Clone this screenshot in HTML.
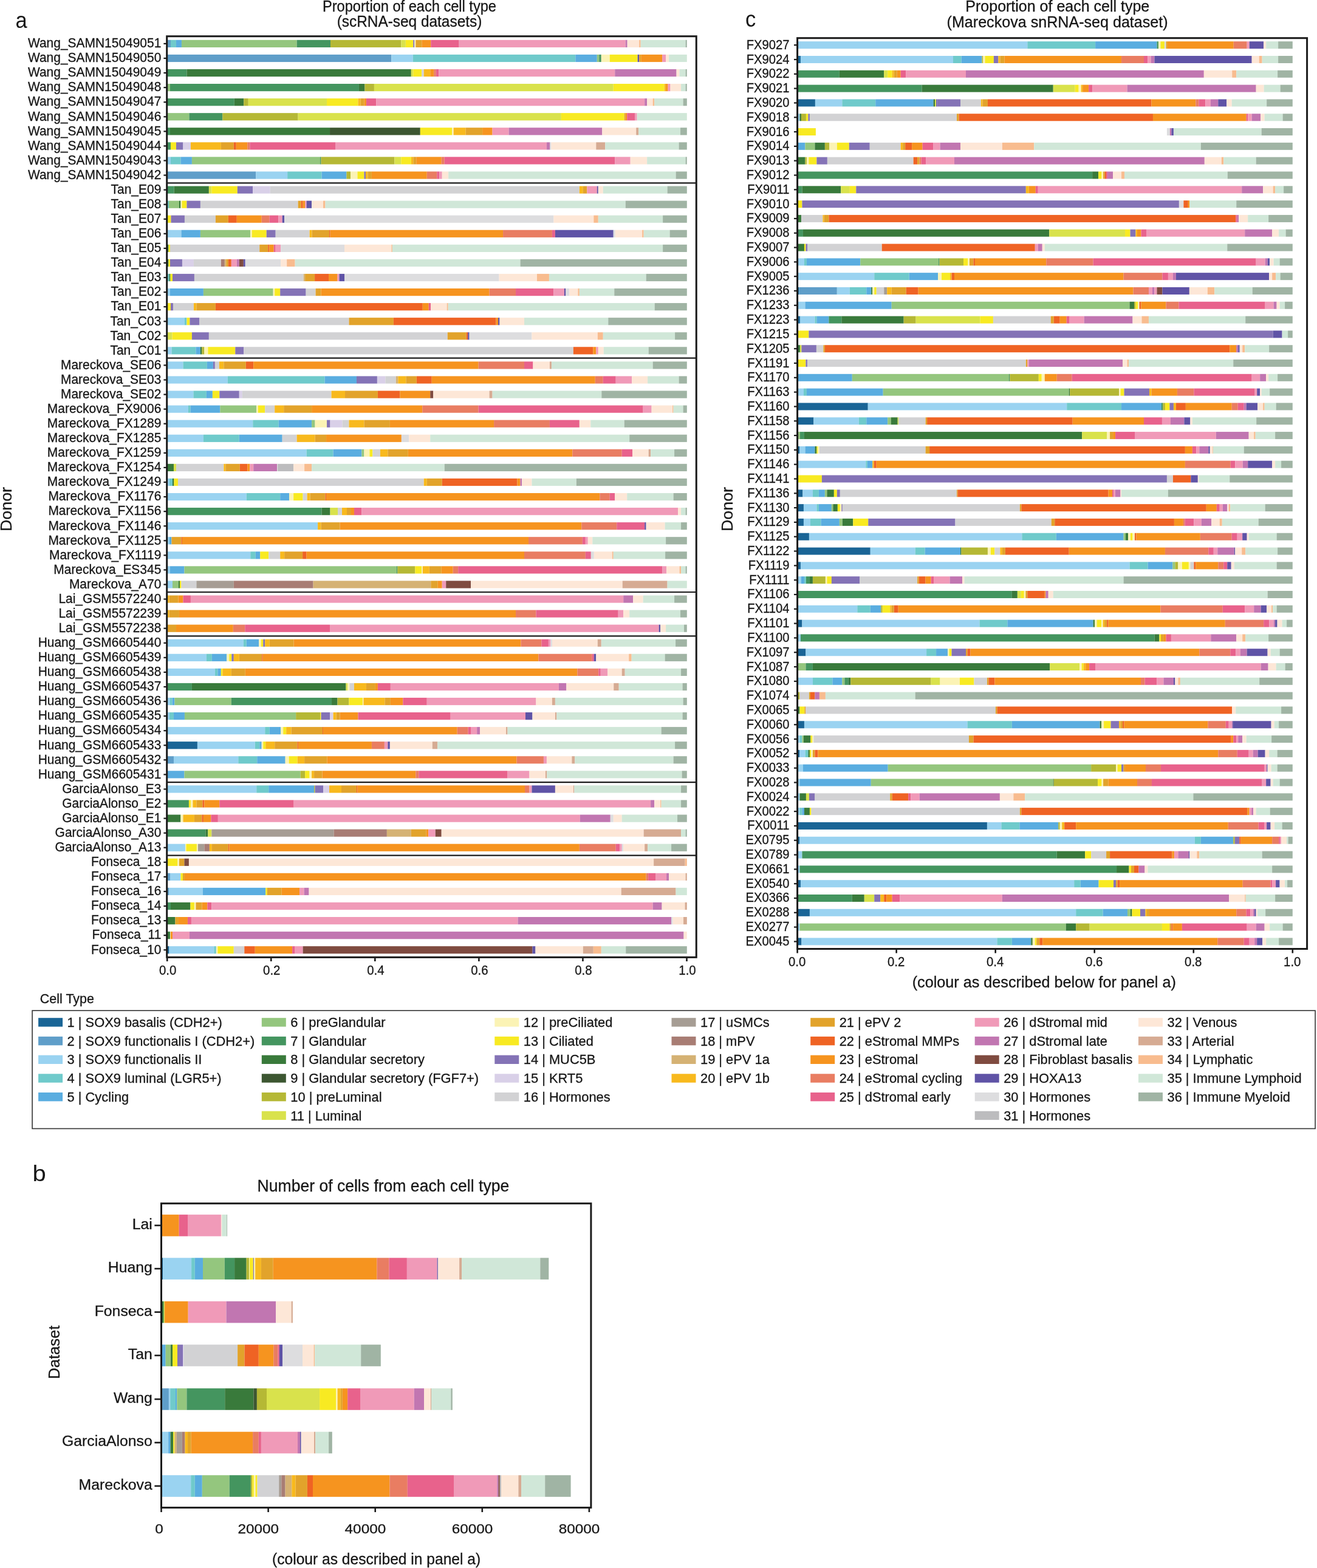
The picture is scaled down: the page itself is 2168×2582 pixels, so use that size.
<!DOCTYPE html>
<html><head><meta charset="utf-8"><title>Cell type proportions</title>
<style>
html,body{margin:0;padding:0;background:#fff;}
body{width:2168px;height:2582px;overflow:hidden;}
svg{display:block;}
text{font-family:"Liberation Sans",Arial,Helvetica,sans-serif;fill:#161616;stroke:#161616;stroke-width:0.3px;}
</style></head>
<body>
<svg width="2168" height="2582" viewBox="0 0 2168 2582">
<rect x="0" y="0" width="2168" height="2582" fill="#fff"/>
<rect x="275.20" y="65.80" width="5.78" height="12.20" fill="#5f9ec9"/>
<rect x="280.98" y="65.80" width="8.98" height="12.20" fill="#6fcacb"/>
<rect x="289.97" y="65.80" width="8.98" height="12.20" fill="#5aade0"/>
<rect x="298.95" y="65.80" width="189.68" height="12.20" fill="#94c67e"/>
<rect x="488.63" y="65.80" width="55.41" height="12.20" fill="#44955f"/>
<rect x="544.03" y="65.80" width="116.30" height="12.20" fill="#b5b835"/>
<rect x="660.34" y="65.80" width="7.49" height="12.20" fill="#d9e24c"/>
<rect x="667.82" y="65.80" width="12.48" height="12.20" fill="#f8ea22"/>
<rect x="680.30" y="65.80" width="2.00" height="12.20" fill="#8473b6"/>
<rect x="682.30" y="65.80" width="2.00" height="12.20" fill="#fbf3b5"/>
<rect x="684.30" y="65.80" width="9.98" height="12.20" fill="#e2a32b"/>
<rect x="694.28" y="65.80" width="14.97" height="12.20" fill="#f6941f"/>
<rect x="709.25" y="65.80" width="46.42" height="12.20" fill="#e8628c"/>
<rect x="755.67" y="65.80" width="274.03" height="12.20" fill="#f09ab8"/>
<rect x="1029.71" y="65.80" width="2.99" height="12.20" fill="#c176b1"/>
<rect x="1032.70" y="65.80" width="19.47" height="12.20" fill="#fde7d7"/>
<rect x="1052.17" y="65.80" width="2.50" height="12.20" fill="#f8bc8f"/>
<rect x="1054.67" y="65.80" width="73.87" height="12.20" fill="#d0e7d8"/>
<rect x="1128.54" y="65.80" width="2.26" height="12.20" fill="#a0b4a4"/>
<line x1="269.40" y1="71.90" x2="274.50" y2="71.90" stroke="#1a1a1a" stroke-width="2.2"/>
<text x="265.30" y="78.20" font-size="22.3" text-anchor="end" textLength="219.33" lengthAdjust="spacingAndGlyphs">Wang_SAMN15049051</text>
<rect x="275.20" y="89.87" width="369.16" height="12.20" fill="#5f9ec9"/>
<rect x="644.36" y="89.87" width="35.44" height="12.20" fill="#9ad3f1"/>
<rect x="679.80" y="89.87" width="267.55" height="12.20" fill="#6fcacb"/>
<rect x="947.35" y="89.87" width="35.44" height="12.20" fill="#5aade0"/>
<rect x="982.79" y="89.87" width="3.49" height="12.20" fill="#94c67e"/>
<rect x="986.28" y="89.87" width="3.49" height="12.20" fill="#44955f"/>
<rect x="989.78" y="89.87" width="13.98" height="12.20" fill="#fbf3b5"/>
<rect x="1003.75" y="89.87" width="45.92" height="12.20" fill="#f8ea22"/>
<rect x="1049.67" y="89.87" width="2.50" height="12.20" fill="#5f53a6"/>
<rect x="1052.17" y="89.87" width="2.99" height="12.20" fill="#e2a32b"/>
<rect x="1055.17" y="89.87" width="34.94" height="12.20" fill="#f6941f"/>
<rect x="1090.11" y="89.87" width="5.99" height="12.20" fill="#f09ab8"/>
<rect x="1096.10" y="89.87" width="4.99" height="12.20" fill="#fde7d7"/>
<rect x="1101.09" y="89.87" width="29.71" height="12.20" fill="#d0e7d8"/>
<line x1="269.40" y1="95.97" x2="274.50" y2="95.97" stroke="#1a1a1a" stroke-width="2.2"/>
<text x="265.30" y="102.27" font-size="22.3" text-anchor="end" textLength="219.33" lengthAdjust="spacingAndGlyphs">Wang_SAMN15049050</text>
<rect x="275.20" y="113.94" width="32.24" height="12.20" fill="#44955f"/>
<rect x="307.44" y="113.94" width="369.37" height="12.20" fill="#397a3b"/>
<rect x="676.81" y="113.94" width="3.49" height="12.20" fill="#d9e24c"/>
<rect x="680.30" y="113.94" width="13.98" height="12.20" fill="#f8ea22"/>
<rect x="694.28" y="113.94" width="3.49" height="12.20" fill="#d2d2d4"/>
<rect x="697.77" y="113.94" width="10.48" height="12.20" fill="#f8b91d"/>
<rect x="708.25" y="113.94" width="5.99" height="12.20" fill="#f6941f"/>
<rect x="714.24" y="113.94" width="3.49" height="12.20" fill="#e97d62"/>
<rect x="717.74" y="113.94" width="4.49" height="12.20" fill="#e8628c"/>
<rect x="722.23" y="113.94" width="290.01" height="12.20" fill="#f09ab8"/>
<rect x="1012.24" y="113.94" width="101.33" height="12.20" fill="#c176b1"/>
<rect x="1113.57" y="113.94" width="4.99" height="12.20" fill="#fde7d7"/>
<rect x="1118.56" y="113.94" width="9.98" height="12.20" fill="#d0e7d8"/>
<rect x="1128.54" y="113.94" width="2.26" height="12.20" fill="#a0b4a4"/>
<line x1="269.40" y1="120.04" x2="274.50" y2="120.04" stroke="#1a1a1a" stroke-width="2.2"/>
<text x="265.30" y="126.34" font-size="22.3" text-anchor="end" textLength="219.33" lengthAdjust="spacingAndGlyphs">Wang_SAMN15049049</text>
<rect x="275.20" y="138.01" width="4.78" height="12.20" fill="#94c67e"/>
<rect x="279.98" y="138.01" width="310.97" height="12.20" fill="#44955f"/>
<rect x="590.95" y="138.01" width="9.48" height="12.20" fill="#397a3b"/>
<rect x="600.44" y="138.01" width="15.47" height="12.20" fill="#b5b835"/>
<rect x="615.91" y="138.01" width="393.83" height="12.20" fill="#d9e24c"/>
<rect x="1009.74" y="138.01" width="83.86" height="12.20" fill="#f8ea22"/>
<rect x="1093.60" y="138.01" width="2.50" height="12.20" fill="#f8b91d"/>
<rect x="1096.10" y="138.01" width="3.49" height="12.20" fill="#f6941f"/>
<rect x="1099.59" y="138.01" width="3.99" height="12.20" fill="#f09ab8"/>
<rect x="1103.58" y="138.01" width="17.47" height="12.20" fill="#fde7d7"/>
<rect x="1121.05" y="138.01" width="7.49" height="12.20" fill="#d0e7d8"/>
<rect x="1128.54" y="138.01" width="2.26" height="12.20" fill="#a0b4a4"/>
<line x1="269.40" y1="144.11" x2="274.50" y2="144.11" stroke="#1a1a1a" stroke-width="2.2"/>
<text x="265.30" y="150.41" font-size="22.3" text-anchor="end" textLength="219.33" lengthAdjust="spacingAndGlyphs">Wang_SAMN15049048</text>
<rect x="275.20" y="162.08" width="110.60" height="12.20" fill="#44955f"/>
<rect x="385.80" y="162.08" width="15.47" height="12.20" fill="#397a3b"/>
<rect x="401.28" y="162.08" width="7.49" height="12.20" fill="#b5b835"/>
<rect x="408.76" y="162.08" width="129.28" height="12.20" fill="#d9e24c"/>
<rect x="538.04" y="162.08" width="51.41" height="12.20" fill="#f8ea22"/>
<rect x="589.46" y="162.08" width="3.99" height="12.20" fill="#f8b91d"/>
<rect x="593.45" y="162.08" width="5.99" height="12.20" fill="#e2a32b"/>
<rect x="599.44" y="162.08" width="3.49" height="12.20" fill="#f6941f"/>
<rect x="602.93" y="162.08" width="16.47" height="12.20" fill="#e8628c"/>
<rect x="619.41" y="162.08" width="441.75" height="12.20" fill="#f09ab8"/>
<rect x="1061.16" y="162.08" width="3.99" height="12.20" fill="#c176b1"/>
<rect x="1065.15" y="162.08" width="9.48" height="12.20" fill="#fde7d7"/>
<rect x="1074.63" y="162.08" width="2.50" height="12.20" fill="#f8bc8f"/>
<rect x="1077.13" y="162.08" width="47.42" height="12.20" fill="#d0e7d8"/>
<rect x="1124.55" y="162.08" width="6.25" height="12.20" fill="#a0b4a4"/>
<line x1="269.40" y1="168.18" x2="274.50" y2="168.18" stroke="#1a1a1a" stroke-width="2.2"/>
<text x="265.30" y="174.48" font-size="22.3" text-anchor="end" textLength="219.33" lengthAdjust="spacingAndGlyphs">Wang_SAMN15049047</text>
<rect x="275.20" y="186.15" width="36.23" height="12.20" fill="#94c67e"/>
<rect x="311.43" y="186.15" width="54.91" height="12.20" fill="#44955f"/>
<rect x="366.34" y="186.15" width="124.29" height="12.20" fill="#b5b835"/>
<rect x="490.62" y="186.15" width="433.26" height="12.20" fill="#d9e24c"/>
<rect x="923.89" y="186.15" width="103.82" height="12.20" fill="#f8ea22"/>
<rect x="1027.71" y="186.15" width="2.00" height="12.20" fill="#e2a32b"/>
<rect x="1029.71" y="186.15" width="2.50" height="12.20" fill="#f6941f"/>
<rect x="1032.20" y="186.15" width="12.98" height="12.20" fill="#e8628c"/>
<rect x="1045.18" y="186.15" width="3.49" height="12.20" fill="#f09ab8"/>
<rect x="1048.68" y="186.15" width="82.12" height="12.20" fill="#d0e7d8"/>
<line x1="269.40" y1="192.25" x2="274.50" y2="192.25" stroke="#1a1a1a" stroke-width="2.2"/>
<text x="265.30" y="198.55" font-size="22.3" text-anchor="end" textLength="219.33" lengthAdjust="spacingAndGlyphs">Wang_SAMN15049046</text>
<rect x="275.20" y="210.22" width="4.78" height="12.20" fill="#44955f"/>
<rect x="279.98" y="210.22" width="263.05" height="12.20" fill="#397a3b"/>
<rect x="543.04" y="210.22" width="148.75" height="12.20" fill="#3c5631"/>
<rect x="691.78" y="210.22" width="52.41" height="12.20" fill="#f8ea22"/>
<rect x="744.19" y="210.22" width="2.50" height="12.20" fill="#fbf3b5"/>
<rect x="746.69" y="210.22" width="19.97" height="12.20" fill="#f8b91d"/>
<rect x="766.66" y="210.22" width="27.45" height="12.20" fill="#e2a32b"/>
<rect x="794.11" y="210.22" width="16.47" height="12.20" fill="#f6941f"/>
<rect x="810.58" y="210.22" width="26.95" height="12.20" fill="#f09ab8"/>
<rect x="837.54" y="210.22" width="153.74" height="12.20" fill="#c176b1"/>
<rect x="991.27" y="210.22" width="55.90" height="12.20" fill="#fde7d7"/>
<rect x="1047.18" y="210.22" width="3.99" height="12.20" fill="#d6ab93"/>
<rect x="1051.17" y="210.22" width="68.88" height="12.20" fill="#d0e7d8"/>
<rect x="1120.05" y="210.22" width="10.75" height="12.20" fill="#a0b4a4"/>
<line x1="269.40" y1="216.32" x2="274.50" y2="216.32" stroke="#1a1a1a" stroke-width="2.2"/>
<text x="265.30" y="222.62" font-size="22.3" text-anchor="end" textLength="219.33" lengthAdjust="spacingAndGlyphs">Wang_SAMN15049045</text>
<rect x="275.20" y="234.29" width="5.78" height="12.20" fill="#44955f"/>
<rect x="280.98" y="234.29" width="8.98" height="12.20" fill="#f8ea22"/>
<rect x="289.97" y="234.29" width="11.48" height="12.20" fill="#8473b6"/>
<rect x="301.45" y="234.29" width="12.48" height="12.20" fill="#d9d0e8"/>
<rect x="313.93" y="234.29" width="49.92" height="12.20" fill="#f8b91d"/>
<rect x="363.84" y="234.29" width="20.96" height="12.20" fill="#e2a32b"/>
<rect x="384.80" y="234.29" width="3.99" height="12.20" fill="#ef6324"/>
<rect x="388.80" y="234.29" width="18.47" height="12.20" fill="#f6941f"/>
<rect x="407.27" y="234.29" width="3.99" height="12.20" fill="#e97d62"/>
<rect x="411.26" y="234.29" width="140.76" height="12.20" fill="#e8628c"/>
<rect x="552.02" y="234.29" width="347.91" height="12.20" fill="#f09ab8"/>
<rect x="899.93" y="234.29" width="5.49" height="12.20" fill="#c176b1"/>
<rect x="905.42" y="234.29" width="2.00" height="12.20" fill="#dddddf"/>
<rect x="907.42" y="234.29" width="73.87" height="12.20" fill="#fde7d7"/>
<rect x="981.29" y="234.29" width="14.97" height="12.20" fill="#d6ab93"/>
<rect x="996.27" y="234.29" width="121.29" height="12.20" fill="#d0e7d8"/>
<rect x="1117.56" y="234.29" width="13.24" height="12.20" fill="#a0b4a4"/>
<line x1="269.40" y1="240.39" x2="274.50" y2="240.39" stroke="#1a1a1a" stroke-width="2.2"/>
<text x="265.30" y="246.69" font-size="22.3" text-anchor="end" textLength="219.33" lengthAdjust="spacingAndGlyphs">Wang_SAMN15049044</text>
<rect x="275.20" y="258.36" width="5.78" height="12.20" fill="#9ad3f1"/>
<rect x="280.98" y="258.36" width="16.47" height="12.20" fill="#6fcacb"/>
<rect x="297.45" y="258.36" width="18.47" height="12.20" fill="#5aade0"/>
<rect x="315.92" y="258.36" width="211.14" height="12.20" fill="#94c67e"/>
<rect x="527.06" y="258.36" width="1.50" height="12.20" fill="#44955f"/>
<rect x="528.56" y="258.36" width="120.79" height="12.20" fill="#b5b835"/>
<rect x="649.36" y="258.36" width="10.98" height="12.20" fill="#d9e24c"/>
<rect x="660.34" y="258.36" width="16.47" height="12.20" fill="#f8ea22"/>
<rect x="676.81" y="258.36" width="3.49" height="12.20" fill="#f8b91d"/>
<rect x="680.30" y="258.36" width="4.99" height="12.20" fill="#e2a32b"/>
<rect x="685.29" y="258.36" width="41.43" height="12.20" fill="#f6941f"/>
<rect x="726.72" y="258.36" width="4.99" height="12.20" fill="#e97d62"/>
<rect x="731.72" y="258.36" width="280.52" height="12.20" fill="#e8628c"/>
<rect x="1012.24" y="258.36" width="25.46" height="12.20" fill="#f09ab8"/>
<rect x="1037.69" y="258.36" width="27.45" height="12.20" fill="#fde7d7"/>
<rect x="1065.15" y="258.36" width="63.39" height="12.20" fill="#d0e7d8"/>
<rect x="1128.54" y="258.36" width="2.26" height="12.20" fill="#a0b4a4"/>
<line x1="269.40" y1="264.46" x2="274.50" y2="264.46" stroke="#1a1a1a" stroke-width="2.2"/>
<text x="265.30" y="270.76" font-size="22.3" text-anchor="end" textLength="219.33" lengthAdjust="spacingAndGlyphs">Wang_SAMN15049043</text>
<rect x="275.20" y="282.43" width="146.04" height="12.20" fill="#5f9ec9"/>
<rect x="421.24" y="282.43" width="51.91" height="12.20" fill="#9ad3f1"/>
<rect x="473.15" y="282.43" width="56.40" height="12.20" fill="#6fcacb"/>
<rect x="529.56" y="282.43" width="40.93" height="12.20" fill="#5aade0"/>
<rect x="570.49" y="282.43" width="6.49" height="12.20" fill="#b5b835"/>
<rect x="576.98" y="282.43" width="11.48" height="12.20" fill="#fbf3b5"/>
<rect x="588.46" y="282.43" width="10.98" height="12.20" fill="#f8ea22"/>
<rect x="599.44" y="282.43" width="2.50" height="12.20" fill="#8473b6"/>
<rect x="601.94" y="282.43" width="3.49" height="12.20" fill="#f8b91d"/>
<rect x="605.43" y="282.43" width="6.49" height="12.20" fill="#e2a32b"/>
<rect x="611.92" y="282.43" width="90.85" height="12.20" fill="#f6941f"/>
<rect x="702.76" y="282.43" width="16.47" height="12.20" fill="#e97d62"/>
<rect x="719.24" y="282.43" width="3.99" height="12.20" fill="#e8628c"/>
<rect x="723.23" y="282.43" width="4.49" height="12.20" fill="#f09ab8"/>
<rect x="727.72" y="282.43" width="10.48" height="12.20" fill="#fde7d7"/>
<rect x="738.20" y="282.43" width="374.36" height="12.20" fill="#d0e7d8"/>
<rect x="1112.57" y="282.43" width="18.23" height="12.20" fill="#a0b4a4"/>
<line x1="269.40" y1="288.53" x2="274.50" y2="288.53" stroke="#1a1a1a" stroke-width="2.2"/>
<text x="265.30" y="294.83" font-size="22.3" text-anchor="end" textLength="219.33" lengthAdjust="spacingAndGlyphs">Wang_SAMN15049042</text>
<rect x="275.20" y="306.50" width="11.27" height="12.20" fill="#44955f"/>
<rect x="286.47" y="306.50" width="57.40" height="12.20" fill="#397a3b"/>
<rect x="343.87" y="306.50" width="4.49" height="12.20" fill="#d9e24c"/>
<rect x="348.37" y="306.50" width="42.43" height="12.20" fill="#f8ea22"/>
<rect x="390.79" y="306.50" width="25.46" height="12.20" fill="#8473b6"/>
<rect x="416.25" y="306.50" width="28.45" height="12.20" fill="#d9d0e8"/>
<rect x="444.70" y="306.50" width="509.13" height="12.20" fill="#d2d2d4"/>
<rect x="953.84" y="306.50" width="5.99" height="12.20" fill="#f8b91d"/>
<rect x="959.83" y="306.50" width="6.49" height="12.20" fill="#e2a32b"/>
<rect x="966.32" y="306.50" width="16.47" height="12.20" fill="#f09ab8"/>
<rect x="982.79" y="306.50" width="2.00" height="12.20" fill="#5f53a6"/>
<rect x="984.78" y="306.50" width="7.99" height="12.20" fill="#fde7d7"/>
<rect x="992.77" y="306.50" width="105.82" height="12.20" fill="#d0e7d8"/>
<rect x="1098.59" y="306.50" width="32.21" height="12.20" fill="#a0b4a4"/>
<line x1="269.40" y1="312.60" x2="274.50" y2="312.60" stroke="#1a1a1a" stroke-width="2.2"/>
<text x="265.30" y="318.90" font-size="22.3" text-anchor="end" textLength="82.70" lengthAdjust="spacingAndGlyphs">Tan_E09</text>
<rect x="275.20" y="330.57" width="2.79" height="12.20" fill="#6fcacb"/>
<rect x="277.99" y="330.57" width="16.97" height="12.20" fill="#94c67e"/>
<rect x="294.96" y="330.57" width="2.50" height="12.20" fill="#397a3b"/>
<rect x="297.45" y="330.57" width="2.00" height="12.20" fill="#fbf3b5"/>
<rect x="299.45" y="330.57" width="7.99" height="12.20" fill="#f8ea22"/>
<rect x="307.44" y="330.57" width="22.46" height="12.20" fill="#8473b6"/>
<rect x="329.90" y="330.57" width="160.73" height="12.20" fill="#d2d2d4"/>
<rect x="490.62" y="330.57" width="4.99" height="12.20" fill="#e2a32b"/>
<rect x="495.62" y="330.57" width="2.99" height="12.20" fill="#ef6324"/>
<rect x="498.61" y="330.57" width="3.49" height="12.20" fill="#f6941f"/>
<rect x="502.11" y="330.57" width="2.50" height="12.20" fill="#f09ab8"/>
<rect x="504.60" y="330.57" width="8.49" height="12.20" fill="#5f53a6"/>
<rect x="513.09" y="330.57" width="18.97" height="12.20" fill="#fde7d7"/>
<rect x="532.05" y="330.57" width="3.49" height="12.20" fill="#f8bc8f"/>
<rect x="535.55" y="330.57" width="494.16" height="12.20" fill="#d0e7d8"/>
<rect x="1029.71" y="330.57" width="101.09" height="12.20" fill="#a0b4a4"/>
<line x1="269.40" y1="336.67" x2="274.50" y2="336.67" stroke="#1a1a1a" stroke-width="2.2"/>
<text x="265.30" y="342.97" font-size="22.3" text-anchor="end" textLength="82.70" lengthAdjust="spacingAndGlyphs">Tan_E08</text>
<rect x="275.20" y="354.64" width="6.28" height="12.20" fill="#f8ea22"/>
<rect x="281.48" y="354.64" width="22.46" height="12.20" fill="#8473b6"/>
<rect x="303.94" y="354.64" width="50.91" height="12.20" fill="#d2d2d4"/>
<rect x="354.86" y="354.64" width="20.96" height="12.20" fill="#e2a32b"/>
<rect x="375.82" y="354.64" width="13.98" height="12.20" fill="#ef6324"/>
<rect x="389.80" y="354.64" width="40.93" height="12.20" fill="#f6941f"/>
<rect x="430.73" y="354.64" width="12.98" height="12.20" fill="#e97d62"/>
<rect x="443.70" y="354.64" width="14.48" height="12.20" fill="#e8628c"/>
<rect x="458.18" y="354.64" width="6.49" height="12.20" fill="#f09ab8"/>
<rect x="464.67" y="354.64" width="3.49" height="12.20" fill="#5f53a6"/>
<rect x="468.16" y="354.64" width="443.25" height="12.20" fill="#dddddf"/>
<rect x="911.41" y="354.64" width="65.89" height="12.20" fill="#fde7d7"/>
<rect x="977.30" y="354.64" width="7.49" height="12.20" fill="#f8bc8f"/>
<rect x="984.78" y="354.64" width="106.32" height="12.20" fill="#d0e7d8"/>
<rect x="1091.10" y="354.64" width="39.70" height="12.20" fill="#a0b4a4"/>
<line x1="269.40" y1="360.74" x2="274.50" y2="360.74" stroke="#1a1a1a" stroke-width="2.2"/>
<text x="265.30" y="367.04" font-size="22.3" text-anchor="end" textLength="82.70" lengthAdjust="spacingAndGlyphs">Tan_E07</text>
<rect x="275.20" y="378.71" width="23.25" height="12.20" fill="#9ad3f1"/>
<rect x="298.45" y="378.71" width="31.45" height="12.20" fill="#5aade0"/>
<rect x="329.90" y="378.71" width="82.36" height="12.20" fill="#94c67e"/>
<rect x="412.26" y="378.71" width="2.50" height="12.20" fill="#fbf3b5"/>
<rect x="414.75" y="378.71" width="23.96" height="12.20" fill="#f8ea22"/>
<rect x="438.71" y="378.71" width="14.97" height="12.20" fill="#8473b6"/>
<rect x="453.69" y="378.71" width="55.90" height="12.20" fill="#d2d2d4"/>
<rect x="509.59" y="378.71" width="3.99" height="12.20" fill="#f8b91d"/>
<rect x="513.59" y="378.71" width="28.45" height="12.20" fill="#e2a32b"/>
<rect x="542.04" y="378.71" width="1.50" height="12.20" fill="#ef6324"/>
<rect x="543.53" y="378.71" width="284.52" height="12.20" fill="#f6941f"/>
<rect x="828.05" y="378.71" width="80.86" height="12.20" fill="#e97d62"/>
<rect x="908.91" y="378.71" width="4.99" height="12.20" fill="#e8628c"/>
<rect x="913.91" y="378.71" width="95.84" height="12.20" fill="#5f53a6"/>
<rect x="1009.74" y="378.71" width="2.99" height="12.20" fill="#dddddf"/>
<rect x="1012.74" y="378.71" width="44.42" height="12.20" fill="#fde7d7"/>
<rect x="1057.16" y="378.71" width="2.50" height="12.20" fill="#f8bc8f"/>
<rect x="1059.66" y="378.71" width="42.93" height="12.20" fill="#d0e7d8"/>
<rect x="1102.58" y="378.71" width="28.22" height="12.20" fill="#a0b4a4"/>
<line x1="269.40" y1="384.81" x2="274.50" y2="384.81" stroke="#1a1a1a" stroke-width="2.2"/>
<text x="265.30" y="391.11" font-size="22.3" text-anchor="end" textLength="82.70" lengthAdjust="spacingAndGlyphs">Tan_E06</text>
<rect x="275.20" y="402.78" width="2.29" height="12.20" fill="#397a3b"/>
<rect x="277.49" y="402.78" width="2.50" height="12.20" fill="#f8ea22"/>
<rect x="279.98" y="402.78" width="147.25" height="12.20" fill="#d2d2d4"/>
<rect x="427.23" y="402.78" width="13.98" height="12.20" fill="#e2a32b"/>
<rect x="441.21" y="402.78" width="2.00" height="12.20" fill="#ef6324"/>
<rect x="443.21" y="402.78" width="7.49" height="12.20" fill="#f6941f"/>
<rect x="450.69" y="402.78" width="2.99" height="12.20" fill="#e8628c"/>
<rect x="453.69" y="402.78" width="8.49" height="12.20" fill="#f09ab8"/>
<rect x="462.17" y="402.78" width="104.82" height="12.20" fill="#dddddf"/>
<rect x="567.00" y="402.78" width="77.37" height="12.20" fill="#fde7d7"/>
<rect x="644.36" y="402.78" width="1.50" height="12.20" fill="#f8bc8f"/>
<rect x="645.86" y="402.78" width="445.24" height="12.20" fill="#d0e7d8"/>
<rect x="1091.10" y="402.78" width="39.70" height="12.20" fill="#a0b4a4"/>
<line x1="269.40" y1="408.88" x2="274.50" y2="408.88" stroke="#1a1a1a" stroke-width="2.2"/>
<text x="265.30" y="415.18" font-size="22.3" text-anchor="end" textLength="82.70" lengthAdjust="spacingAndGlyphs">Tan_E05</text>
<rect x="275.20" y="426.85" width="2.29" height="12.20" fill="#397a3b"/>
<rect x="277.49" y="426.85" width="2.50" height="12.20" fill="#f8ea22"/>
<rect x="279.98" y="426.85" width="19.97" height="12.20" fill="#8473b6"/>
<rect x="299.95" y="426.85" width="18.97" height="12.20" fill="#d9d0e8"/>
<rect x="318.92" y="426.85" width="44.92" height="12.20" fill="#d2d2d4"/>
<rect x="363.84" y="426.85" width="5.99" height="12.20" fill="#a87d74"/>
<rect x="369.83" y="426.85" width="2.50" height="12.20" fill="#d5b274"/>
<rect x="372.33" y="426.85" width="3.49" height="12.20" fill="#e2a32b"/>
<rect x="375.82" y="426.85" width="4.99" height="12.20" fill="#ef6324"/>
<rect x="380.81" y="426.85" width="8.98" height="12.20" fill="#f09ab8"/>
<rect x="389.80" y="426.85" width="3.99" height="12.20" fill="#c176b1"/>
<rect x="393.79" y="426.85" width="6.99" height="12.20" fill="#7f4b40"/>
<rect x="400.78" y="426.85" width="2.99" height="12.20" fill="#5f53a6"/>
<rect x="403.77" y="426.85" width="58.40" height="12.20" fill="#dddddf"/>
<rect x="462.17" y="426.85" width="9.98" height="12.20" fill="#fde7d7"/>
<rect x="472.16" y="426.85" width="13.48" height="12.20" fill="#f8bc8f"/>
<rect x="485.63" y="426.85" width="370.87" height="12.20" fill="#d0e7d8"/>
<rect x="856.50" y="426.85" width="274.30" height="12.20" fill="#a0b4a4"/>
<line x1="269.40" y1="432.95" x2="274.50" y2="432.95" stroke="#1a1a1a" stroke-width="2.2"/>
<text x="265.30" y="439.25" font-size="22.3" text-anchor="end" textLength="82.70" lengthAdjust="spacingAndGlyphs">Tan_E04</text>
<rect x="275.20" y="450.92" width="3.29" height="12.20" fill="#6fcacb"/>
<rect x="278.49" y="450.92" width="2.00" height="12.20" fill="#397a3b"/>
<rect x="280.48" y="450.92" width="3.49" height="12.20" fill="#f8ea22"/>
<rect x="283.98" y="450.92" width="35.94" height="12.20" fill="#8473b6"/>
<rect x="319.92" y="450.92" width="179.69" height="12.20" fill="#d2d2d4"/>
<rect x="499.61" y="450.92" width="2.50" height="12.20" fill="#d5b274"/>
<rect x="502.11" y="450.92" width="15.97" height="12.20" fill="#e2a32b"/>
<rect x="518.08" y="450.92" width="22.96" height="12.20" fill="#ef6324"/>
<rect x="541.04" y="450.92" width="14.48" height="12.20" fill="#f6941f"/>
<rect x="555.51" y="450.92" width="2.99" height="12.20" fill="#f09ab8"/>
<rect x="558.51" y="450.92" width="8.49" height="12.20" fill="#5f53a6"/>
<rect x="567.00" y="450.92" width="254.57" height="12.20" fill="#dddddf"/>
<rect x="821.56" y="450.92" width="62.39" height="12.20" fill="#fde7d7"/>
<rect x="883.96" y="450.92" width="19.97" height="12.20" fill="#f8bc8f"/>
<rect x="903.92" y="450.92" width="159.73" height="12.20" fill="#d0e7d8"/>
<rect x="1063.65" y="450.92" width="67.15" height="12.20" fill="#a0b4a4"/>
<line x1="269.40" y1="457.02" x2="274.50" y2="457.02" stroke="#1a1a1a" stroke-width="2.2"/>
<text x="265.30" y="463.32" font-size="22.3" text-anchor="end" textLength="82.70" lengthAdjust="spacingAndGlyphs">Tan_E03</text>
<rect x="275.20" y="474.99" width="4.78" height="12.20" fill="#9ad3f1"/>
<rect x="279.98" y="474.99" width="54.91" height="12.20" fill="#5aade0"/>
<rect x="334.89" y="474.99" width="114.80" height="12.20" fill="#94c67e"/>
<rect x="449.69" y="474.99" width="2.50" height="12.20" fill="#fbf3b5"/>
<rect x="452.19" y="474.99" width="8.98" height="12.20" fill="#f8ea22"/>
<rect x="461.18" y="474.99" width="42.43" height="12.20" fill="#8473b6"/>
<rect x="503.60" y="474.99" width="15.97" height="12.20" fill="#d2d2d4"/>
<rect x="519.58" y="474.99" width="8.98" height="12.20" fill="#e2a32b"/>
<rect x="528.56" y="474.99" width="277.03" height="12.20" fill="#f6941f"/>
<rect x="805.59" y="474.99" width="43.43" height="12.20" fill="#e97d62"/>
<rect x="849.02" y="474.99" width="62.39" height="12.20" fill="#e8628c"/>
<rect x="911.41" y="474.99" width="17.47" height="12.20" fill="#f09ab8"/>
<rect x="928.88" y="474.99" width="2.50" height="12.20" fill="#5f53a6"/>
<rect x="931.38" y="474.99" width="5.99" height="12.20" fill="#dddddf"/>
<rect x="937.37" y="474.99" width="13.98" height="12.20" fill="#fde7d7"/>
<rect x="951.34" y="474.99" width="2.50" height="12.20" fill="#f8bc8f"/>
<rect x="953.84" y="474.99" width="57.40" height="12.20" fill="#d0e7d8"/>
<rect x="1011.24" y="474.99" width="119.56" height="12.20" fill="#a0b4a4"/>
<line x1="269.40" y1="481.09" x2="274.50" y2="481.09" stroke="#1a1a1a" stroke-width="2.2"/>
<text x="265.30" y="487.39" font-size="22.3" text-anchor="end" textLength="82.70" lengthAdjust="spacingAndGlyphs">Tan_E02</text>
<rect x="275.20" y="499.06" width="5.78" height="12.20" fill="#f8ea22"/>
<rect x="280.98" y="499.06" width="3.99" height="12.20" fill="#8473b6"/>
<rect x="284.97" y="499.06" width="33.94" height="12.20" fill="#d2d2d4"/>
<rect x="318.92" y="499.06" width="4.49" height="12.20" fill="#f8b91d"/>
<rect x="323.41" y="499.06" width="31.45" height="12.20" fill="#e2a32b"/>
<rect x="354.86" y="499.06" width="340.92" height="12.20" fill="#ef6324"/>
<rect x="695.78" y="499.06" width="9.98" height="12.20" fill="#f6941f"/>
<rect x="705.76" y="499.06" width="3.49" height="12.20" fill="#e8628c"/>
<rect x="709.25" y="499.06" width="26.46" height="12.20" fill="#fde7d7"/>
<rect x="735.71" y="499.06" width="2.00" height="12.20" fill="#f8bc8f"/>
<rect x="737.70" y="499.06" width="339.92" height="12.20" fill="#d0e7d8"/>
<rect x="1077.63" y="499.06" width="53.17" height="12.20" fill="#a0b4a4"/>
<line x1="269.40" y1="505.16" x2="274.50" y2="505.16" stroke="#1a1a1a" stroke-width="2.2"/>
<text x="265.30" y="511.46" font-size="22.3" text-anchor="end" textLength="82.70" lengthAdjust="spacingAndGlyphs">Tan_E01</text>
<rect x="275.20" y="523.13" width="28.74" height="12.20" fill="#9ad3f1"/>
<rect x="303.94" y="523.13" width="3.49" height="12.20" fill="#6fcacb"/>
<rect x="307.44" y="523.13" width="4.99" height="12.20" fill="#f8ea22"/>
<rect x="312.43" y="523.13" width="15.97" height="12.20" fill="#8473b6"/>
<rect x="328.40" y="523.13" width="246.08" height="12.20" fill="#d2d2d4"/>
<rect x="574.48" y="523.13" width="73.38" height="12.20" fill="#e2a32b"/>
<rect x="647.86" y="523.13" width="168.71" height="12.20" fill="#ef6324"/>
<rect x="816.57" y="523.13" width="3.49" height="12.20" fill="#f6941f"/>
<rect x="820.06" y="523.13" width="2.50" height="12.20" fill="#5f53a6"/>
<rect x="822.56" y="523.13" width="40.43" height="12.20" fill="#fde7d7"/>
<rect x="862.99" y="523.13" width="138.26" height="12.20" fill="#d0e7d8"/>
<rect x="1001.26" y="523.13" width="129.54" height="12.20" fill="#a0b4a4"/>
<line x1="269.40" y1="529.23" x2="274.50" y2="529.23" stroke="#1a1a1a" stroke-width="2.2"/>
<text x="265.30" y="535.53" font-size="22.3" text-anchor="end" textLength="83.86" lengthAdjust="spacingAndGlyphs">Tan_C03</text>
<rect x="275.20" y="547.20" width="8.28" height="12.20" fill="#d9e24c"/>
<rect x="283.48" y="547.20" width="32.44" height="12.20" fill="#f8ea22"/>
<rect x="315.92" y="547.20" width="27.95" height="12.20" fill="#8473b6"/>
<rect x="343.87" y="547.20" width="392.83" height="12.20" fill="#d2d2d4"/>
<rect x="736.71" y="547.20" width="30.95" height="12.20" fill="#e2a32b"/>
<rect x="767.65" y="547.20" width="2.50" height="12.20" fill="#ef6324"/>
<rect x="770.15" y="547.20" width="2.50" height="12.20" fill="#5f53a6"/>
<rect x="772.65" y="547.20" width="102.83" height="12.20" fill="#dddddf"/>
<rect x="875.47" y="547.20" width="108.32" height="12.20" fill="#fde7d7"/>
<rect x="983.79" y="547.20" width="8.98" height="12.20" fill="#f8bc8f"/>
<rect x="992.77" y="547.20" width="118.30" height="12.20" fill="#d0e7d8"/>
<rect x="1111.07" y="547.20" width="19.73" height="12.20" fill="#a0b4a4"/>
<line x1="269.40" y1="553.30" x2="274.50" y2="553.30" stroke="#1a1a1a" stroke-width="2.2"/>
<text x="265.30" y="559.60" font-size="22.3" text-anchor="end" textLength="83.86" lengthAdjust="spacingAndGlyphs">Tan_C02</text>
<rect x="275.20" y="571.27" width="7.28" height="12.20" fill="#9ad3f1"/>
<rect x="282.48" y="571.27" width="39.93" height="12.20" fill="#6fcacb"/>
<rect x="322.41" y="571.27" width="7.49" height="12.20" fill="#5aade0"/>
<rect x="329.90" y="571.27" width="2.50" height="12.20" fill="#397a3b"/>
<rect x="332.39" y="571.27" width="3.99" height="12.20" fill="#b5b835"/>
<rect x="336.39" y="571.27" width="5.99" height="12.20" fill="#fbf3b5"/>
<rect x="342.38" y="571.27" width="44.92" height="12.20" fill="#f8ea22"/>
<rect x="387.30" y="571.27" width="13.98" height="12.20" fill="#8473b6"/>
<rect x="401.28" y="571.27" width="542.58" height="12.20" fill="#d2d2d4"/>
<rect x="943.85" y="571.27" width="32.44" height="12.20" fill="#ef6324"/>
<rect x="976.30" y="571.27" width="4.99" height="12.20" fill="#f6941f"/>
<rect x="981.29" y="571.27" width="3.49" height="12.20" fill="#f09ab8"/>
<rect x="984.78" y="571.27" width="8.98" height="12.20" fill="#fde7d7"/>
<rect x="993.77" y="571.27" width="73.87" height="12.20" fill="#d0e7d8"/>
<rect x="1067.64" y="571.27" width="63.16" height="12.20" fill="#a0b4a4"/>
<line x1="269.40" y1="577.37" x2="274.50" y2="577.37" stroke="#1a1a1a" stroke-width="2.2"/>
<text x="265.30" y="583.67" font-size="22.3" text-anchor="end" textLength="83.86" lengthAdjust="spacingAndGlyphs">Tan_C01</text>
<rect x="275.20" y="595.34" width="26.25" height="12.20" fill="#9ad3f1"/>
<rect x="301.45" y="595.34" width="39.43" height="12.20" fill="#6fcacb"/>
<rect x="340.88" y="595.34" width="9.98" height="12.20" fill="#5aade0"/>
<rect x="350.86" y="595.34" width="2.99" height="12.20" fill="#8473b6"/>
<rect x="353.86" y="595.34" width="6.99" height="12.20" fill="#d2d2d4"/>
<rect x="360.85" y="595.34" width="7.49" height="12.20" fill="#f8b91d"/>
<rect x="368.33" y="595.34" width="36.44" height="12.20" fill="#e2a32b"/>
<rect x="404.77" y="595.34" width="12.48" height="12.20" fill="#ef6324"/>
<rect x="417.25" y="595.34" width="370.37" height="12.20" fill="#f6941f"/>
<rect x="787.62" y="595.34" width="75.37" height="12.20" fill="#e97d62"/>
<rect x="862.99" y="595.34" width="14.48" height="12.20" fill="#e8628c"/>
<rect x="877.47" y="595.34" width="27.45" height="12.20" fill="#fde7d7"/>
<rect x="904.92" y="595.34" width="2.99" height="12.20" fill="#d6ab93"/>
<rect x="907.92" y="595.34" width="166.72" height="12.20" fill="#d0e7d8"/>
<rect x="1074.63" y="595.34" width="56.17" height="12.20" fill="#a0b4a4"/>
<line x1="269.40" y1="601.44" x2="274.50" y2="601.44" stroke="#1a1a1a" stroke-width="2.2"/>
<text x="265.30" y="607.74" font-size="22.3" text-anchor="end" textLength="165.35" lengthAdjust="spacingAndGlyphs">Mareckova_SE06</text>
<rect x="275.20" y="619.41" width="99.62" height="12.20" fill="#9ad3f1"/>
<rect x="374.82" y="619.41" width="159.73" height="12.20" fill="#6fcacb"/>
<rect x="534.55" y="619.41" width="52.41" height="12.20" fill="#5aade0"/>
<rect x="586.96" y="619.41" width="33.94" height="12.20" fill="#8473b6"/>
<rect x="620.90" y="619.41" width="13.48" height="12.20" fill="#d9d0e8"/>
<rect x="634.38" y="619.41" width="17.47" height="12.20" fill="#d2d2d4"/>
<rect x="651.85" y="619.41" width="3.49" height="12.20" fill="#d5b274"/>
<rect x="655.34" y="619.41" width="12.98" height="12.20" fill="#f8b91d"/>
<rect x="668.32" y="619.41" width="17.47" height="12.20" fill="#e2a32b"/>
<rect x="685.79" y="619.41" width="24.96" height="12.20" fill="#ef6324"/>
<rect x="710.75" y="619.41" width="269.04" height="12.20" fill="#f6941f"/>
<rect x="979.79" y="619.41" width="12.98" height="12.20" fill="#e97d62"/>
<rect x="992.77" y="619.41" width="20.96" height="12.20" fill="#e8628c"/>
<rect x="1013.74" y="619.41" width="26.46" height="12.20" fill="#f09ab8"/>
<rect x="1040.19" y="619.41" width="25.96" height="12.20" fill="#fde7d7"/>
<rect x="1066.15" y="619.41" width="51.41" height="12.20" fill="#d0e7d8"/>
<rect x="1117.56" y="619.41" width="13.24" height="12.20" fill="#a0b4a4"/>
<line x1="269.40" y1="625.51" x2="274.50" y2="625.51" stroke="#1a1a1a" stroke-width="2.2"/>
<text x="265.30" y="631.81" font-size="22.3" text-anchor="end" textLength="165.35" lengthAdjust="spacingAndGlyphs">Mareckova_SE03</text>
<rect x="275.20" y="643.48" width="43.22" height="12.20" fill="#9ad3f1"/>
<rect x="318.42" y="643.48" width="21.46" height="12.20" fill="#6fcacb"/>
<rect x="339.88" y="643.48" width="9.98" height="12.20" fill="#5aade0"/>
<rect x="349.86" y="643.48" width="11.48" height="12.20" fill="#f8ea22"/>
<rect x="361.34" y="643.48" width="32.44" height="12.20" fill="#8473b6"/>
<rect x="393.79" y="643.48" width="4.99" height="12.20" fill="#d9d0e8"/>
<rect x="398.78" y="643.48" width="146.75" height="12.20" fill="#d2d2d4"/>
<rect x="545.53" y="643.48" width="22.46" height="12.20" fill="#f8b91d"/>
<rect x="567.99" y="643.48" width="53.91" height="12.20" fill="#e2a32b"/>
<rect x="621.90" y="643.48" width="36.44" height="12.20" fill="#ef6324"/>
<rect x="658.34" y="643.48" width="49.92" height="12.20" fill="#f6941f"/>
<rect x="708.25" y="643.48" width="4.99" height="12.20" fill="#7f4b40"/>
<rect x="713.25" y="643.48" width="92.34" height="12.20" fill="#fde7d7"/>
<rect x="805.59" y="643.48" width="4.99" height="12.20" fill="#d6ab93"/>
<rect x="810.58" y="643.48" width="179.69" height="12.20" fill="#d0e7d8"/>
<rect x="990.28" y="643.48" width="140.52" height="12.20" fill="#a0b4a4"/>
<line x1="269.40" y1="649.58" x2="274.50" y2="649.58" stroke="#1a1a1a" stroke-width="2.2"/>
<text x="265.30" y="655.88" font-size="22.3" text-anchor="end" textLength="165.35" lengthAdjust="spacingAndGlyphs">Mareckova_SE02</text>
<rect x="275.20" y="667.55" width="34.73" height="12.20" fill="#9ad3f1"/>
<rect x="309.93" y="667.55" width="3.49" height="12.20" fill="#6fcacb"/>
<rect x="313.43" y="667.55" width="48.92" height="12.20" fill="#5aade0"/>
<rect x="362.34" y="667.55" width="59.90" height="12.20" fill="#94c67e"/>
<rect x="422.24" y="667.55" width="2.50" height="12.20" fill="#fbf3b5"/>
<rect x="424.74" y="667.55" width="11.48" height="12.20" fill="#f8ea22"/>
<rect x="436.22" y="667.55" width="15.97" height="12.20" fill="#d2d2d4"/>
<rect x="452.19" y="667.55" width="14.97" height="12.20" fill="#f8b91d"/>
<rect x="467.16" y="667.55" width="45.92" height="12.20" fill="#e2a32b"/>
<rect x="513.09" y="667.55" width="182.19" height="12.20" fill="#f6941f"/>
<rect x="695.28" y="667.55" width="92.34" height="12.20" fill="#e97d62"/>
<rect x="787.62" y="667.55" width="271.04" height="12.20" fill="#e8628c"/>
<rect x="1058.66" y="667.55" width="13.98" height="12.20" fill="#f09ab8"/>
<rect x="1072.64" y="667.55" width="34.44" height="12.20" fill="#fde7d7"/>
<rect x="1107.08" y="667.55" width="1.50" height="12.20" fill="#f8bc8f"/>
<rect x="1108.57" y="667.55" width="15.97" height="12.20" fill="#d0e7d8"/>
<rect x="1124.55" y="667.55" width="6.25" height="12.20" fill="#a0b4a4"/>
<line x1="269.40" y1="673.65" x2="274.50" y2="673.65" stroke="#1a1a1a" stroke-width="2.2"/>
<text x="265.30" y="679.95" font-size="22.3" text-anchor="end" textLength="187.47" lengthAdjust="spacingAndGlyphs">Mareckova_FX9006</text>
<rect x="275.20" y="691.62" width="141.05" height="12.20" fill="#9ad3f1"/>
<rect x="416.25" y="691.62" width="42.43" height="12.20" fill="#6fcacb"/>
<rect x="458.68" y="691.62" width="54.41" height="12.20" fill="#5aade0"/>
<rect x="513.09" y="691.62" width="5.49" height="12.20" fill="#94c67e"/>
<rect x="518.58" y="691.62" width="19.47" height="12.20" fill="#fbf3b5"/>
<rect x="538.04" y="691.62" width="5.49" height="12.20" fill="#8473b6"/>
<rect x="543.53" y="691.62" width="19.97" height="12.20" fill="#d9d0e8"/>
<rect x="563.50" y="691.62" width="10.98" height="12.20" fill="#d2d2d4"/>
<rect x="574.48" y="691.62" width="24.96" height="12.20" fill="#f8b91d"/>
<rect x="599.44" y="691.62" width="42.43" height="12.20" fill="#e2a32b"/>
<rect x="641.87" y="691.62" width="171.21" height="12.20" fill="#f6941f"/>
<rect x="813.08" y="691.62" width="91.84" height="12.20" fill="#e97d62"/>
<rect x="904.92" y="691.62" width="48.92" height="12.20" fill="#e8628c"/>
<rect x="953.84" y="691.62" width="18.47" height="12.20" fill="#fde7d7"/>
<rect x="972.31" y="691.62" width="55.41" height="12.20" fill="#d0e7d8"/>
<rect x="1027.71" y="691.62" width="103.09" height="12.20" fill="#a0b4a4"/>
<line x1="269.40" y1="697.72" x2="274.50" y2="697.72" stroke="#1a1a1a" stroke-width="2.2"/>
<text x="265.30" y="704.02" font-size="22.3" text-anchor="end" textLength="187.47" lengthAdjust="spacingAndGlyphs">Mareckova_FX1289</text>
<rect x="275.20" y="715.69" width="59.69" height="12.20" fill="#9ad3f1"/>
<rect x="334.89" y="715.69" width="58.90" height="12.20" fill="#6fcacb"/>
<rect x="393.79" y="715.69" width="70.88" height="12.20" fill="#5aade0"/>
<rect x="464.67" y="715.69" width="23.96" height="12.20" fill="#d2d2d4"/>
<rect x="488.63" y="715.69" width="29.95" height="12.20" fill="#f8b91d"/>
<rect x="518.58" y="715.69" width="18.47" height="12.20" fill="#e2a32b"/>
<rect x="537.05" y="715.69" width="123.79" height="12.20" fill="#f6941f"/>
<rect x="660.84" y="715.69" width="12.48" height="12.20" fill="#dddddf"/>
<rect x="673.31" y="715.69" width="34.94" height="12.20" fill="#fde7d7"/>
<rect x="708.25" y="715.69" width="327.94" height="12.20" fill="#d0e7d8"/>
<rect x="1036.20" y="715.69" width="94.60" height="12.20" fill="#a0b4a4"/>
<line x1="269.40" y1="721.79" x2="274.50" y2="721.79" stroke="#1a1a1a" stroke-width="2.2"/>
<text x="265.30" y="728.09" font-size="22.3" text-anchor="end" textLength="187.47" lengthAdjust="spacingAndGlyphs">Mareckova_FX1285</text>
<rect x="275.20" y="739.76" width="229.40" height="12.20" fill="#9ad3f1"/>
<rect x="504.60" y="739.76" width="43.93" height="12.20" fill="#6fcacb"/>
<rect x="548.53" y="739.76" width="46.92" height="12.20" fill="#5aade0"/>
<rect x="595.45" y="739.76" width="3.99" height="12.20" fill="#94c67e"/>
<rect x="599.44" y="739.76" width="8.98" height="12.20" fill="#fbf3b5"/>
<rect x="608.42" y="739.76" width="4.99" height="12.20" fill="#f8ea22"/>
<rect x="613.42" y="739.76" width="12.48" height="12.20" fill="#d2d2d4"/>
<rect x="625.89" y="739.76" width="12.48" height="12.20" fill="#f8b91d"/>
<rect x="638.37" y="739.76" width="33.44" height="12.20" fill="#e2a32b"/>
<rect x="671.82" y="739.76" width="270.54" height="12.20" fill="#f6941f"/>
<rect x="942.36" y="739.76" width="81.36" height="12.20" fill="#e97d62"/>
<rect x="1023.72" y="739.76" width="17.47" height="12.20" fill="#e8628c"/>
<rect x="1041.19" y="739.76" width="26.46" height="12.20" fill="#fde7d7"/>
<rect x="1067.64" y="739.76" width="3.49" height="12.20" fill="#d6ab93"/>
<rect x="1071.14" y="739.76" width="38.93" height="12.20" fill="#d0e7d8"/>
<rect x="1110.07" y="739.76" width="20.73" height="12.20" fill="#a0b4a4"/>
<line x1="269.40" y1="745.86" x2="274.50" y2="745.86" stroke="#1a1a1a" stroke-width="2.2"/>
<text x="265.30" y="752.16" font-size="22.3" text-anchor="end" textLength="187.47" lengthAdjust="spacingAndGlyphs">Mareckova_FX1259</text>
<rect x="275.20" y="763.83" width="10.77" height="12.20" fill="#397a3b"/>
<rect x="285.97" y="763.83" width="3.99" height="12.20" fill="#d9e24c"/>
<rect x="289.97" y="763.83" width="78.37" height="12.20" fill="#d2d2d4"/>
<rect x="368.33" y="763.83" width="2.99" height="12.20" fill="#f8b91d"/>
<rect x="371.33" y="763.83" width="23.46" height="12.20" fill="#e2a32b"/>
<rect x="394.79" y="763.83" width="12.48" height="12.20" fill="#ef6324"/>
<rect x="407.27" y="763.83" width="3.99" height="12.20" fill="#f6941f"/>
<rect x="411.26" y="763.83" width="5.99" height="12.20" fill="#f09ab8"/>
<rect x="417.25" y="763.83" width="38.93" height="12.20" fill="#c176b1"/>
<rect x="456.18" y="763.83" width="1.00" height="12.20" fill="#dddddf"/>
<rect x="457.18" y="763.83" width="25.96" height="12.20" fill="#bcbcbe"/>
<rect x="483.14" y="763.83" width="17.97" height="12.20" fill="#fde7d7"/>
<rect x="501.11" y="763.83" width="11.98" height="12.20" fill="#f8bc8f"/>
<rect x="513.09" y="763.83" width="218.63" height="12.20" fill="#d0e7d8"/>
<rect x="731.72" y="763.83" width="399.08" height="12.20" fill="#a0b4a4"/>
<line x1="269.40" y1="769.93" x2="274.50" y2="769.93" stroke="#1a1a1a" stroke-width="2.2"/>
<text x="265.30" y="776.23" font-size="22.3" text-anchor="end" textLength="187.47" lengthAdjust="spacingAndGlyphs">Mareckova_FX1254</text>
<rect x="275.20" y="787.90" width="3.78" height="12.20" fill="#9ad3f1"/>
<rect x="278.98" y="787.90" width="4.99" height="12.20" fill="#6fcacb"/>
<rect x="283.98" y="787.90" width="2.50" height="12.20" fill="#397a3b"/>
<rect x="286.47" y="787.90" width="6.49" height="12.20" fill="#f8ea22"/>
<rect x="292.96" y="787.90" width="404.81" height="12.20" fill="#d2d2d4"/>
<rect x="697.77" y="787.90" width="4.99" height="12.20" fill="#f8b91d"/>
<rect x="702.76" y="787.90" width="24.96" height="12.20" fill="#e2a32b"/>
<rect x="727.72" y="787.90" width="123.79" height="12.20" fill="#ef6324"/>
<rect x="851.51" y="787.90" width="4.99" height="12.20" fill="#f6941f"/>
<rect x="856.50" y="787.90" width="2.50" height="12.20" fill="#c176b1"/>
<rect x="859.00" y="787.90" width="16.47" height="12.20" fill="#fde7d7"/>
<rect x="875.47" y="787.90" width="73.38" height="12.20" fill="#d0e7d8"/>
<rect x="948.85" y="787.90" width="181.95" height="12.20" fill="#a0b4a4"/>
<line x1="269.40" y1="794.00" x2="274.50" y2="794.00" stroke="#1a1a1a" stroke-width="2.2"/>
<text x="265.30" y="800.30" font-size="22.3" text-anchor="end" textLength="187.47" lengthAdjust="spacingAndGlyphs">Mareckova_FX1249</text>
<rect x="275.20" y="811.97" width="130.57" height="12.20" fill="#9ad3f1"/>
<rect x="405.77" y="811.97" width="55.41" height="12.20" fill="#6fcacb"/>
<rect x="461.18" y="811.97" width="14.97" height="12.20" fill="#5aade0"/>
<rect x="476.15" y="811.97" width="6.99" height="12.20" fill="#fbf3b5"/>
<rect x="483.14" y="811.97" width="15.47" height="12.20" fill="#f8ea22"/>
<rect x="498.61" y="811.97" width="6.99" height="12.20" fill="#d2d2d4"/>
<rect x="505.60" y="811.97" width="4.99" height="12.20" fill="#f8b91d"/>
<rect x="510.59" y="811.97" width="24.96" height="12.20" fill="#e2a32b"/>
<rect x="535.55" y="811.97" width="1.50" height="12.20" fill="#ef6324"/>
<rect x="537.05" y="811.97" width="450.23" height="12.20" fill="#f6941f"/>
<rect x="987.28" y="811.97" width="16.47" height="12.20" fill="#e97d62"/>
<rect x="1003.75" y="811.97" width="8.49" height="12.20" fill="#e8628c"/>
<rect x="1012.24" y="811.97" width="19.97" height="12.20" fill="#fde7d7"/>
<rect x="1032.20" y="811.97" width="76.37" height="12.20" fill="#d0e7d8"/>
<rect x="1108.57" y="811.97" width="22.23" height="12.20" fill="#a0b4a4"/>
<line x1="269.40" y1="818.07" x2="274.50" y2="818.07" stroke="#1a1a1a" stroke-width="2.2"/>
<text x="265.30" y="824.37" font-size="22.3" text-anchor="end" textLength="185.92" lengthAdjust="spacingAndGlyphs">Mareckova_FX1176</text>
<rect x="275.20" y="836.04" width="254.36" height="12.20" fill="#44955f"/>
<rect x="529.56" y="836.04" width="13.98" height="12.20" fill="#397a3b"/>
<rect x="543.53" y="836.04" width="12.48" height="12.20" fill="#d9e24c"/>
<rect x="556.01" y="836.04" width="6.99" height="12.20" fill="#d2d2d4"/>
<rect x="563.00" y="836.04" width="7.99" height="12.20" fill="#f8b91d"/>
<rect x="570.99" y="836.04" width="6.99" height="12.20" fill="#e2a32b"/>
<rect x="577.98" y="836.04" width="4.99" height="12.20" fill="#f6941f"/>
<rect x="582.97" y="836.04" width="12.48" height="12.20" fill="#e8628c"/>
<rect x="595.45" y="836.04" width="520.61" height="12.20" fill="#f09ab8"/>
<rect x="1116.06" y="836.04" width="4.99" height="12.20" fill="#fde7d7"/>
<rect x="1121.05" y="836.04" width="7.49" height="12.20" fill="#d0e7d8"/>
<rect x="1128.54" y="836.04" width="2.26" height="12.20" fill="#a0b4a4"/>
<line x1="269.40" y1="842.14" x2="274.50" y2="842.14" stroke="#1a1a1a" stroke-width="2.2"/>
<text x="265.30" y="848.44" font-size="22.3" text-anchor="end" textLength="185.92" lengthAdjust="spacingAndGlyphs">Mareckova_FX1156</text>
<rect x="275.20" y="860.11" width="247.87" height="12.20" fill="#9ad3f1"/>
<rect x="523.07" y="860.11" width="5.49" height="12.20" fill="#f8b91d"/>
<rect x="528.56" y="860.11" width="30.95" height="12.20" fill="#e2a32b"/>
<rect x="559.51" y="860.11" width="397.82" height="12.20" fill="#f6941f"/>
<rect x="957.33" y="860.11" width="57.90" height="12.20" fill="#e97d62"/>
<rect x="1015.23" y="860.11" width="45.92" height="12.20" fill="#e8628c"/>
<rect x="1061.16" y="860.11" width="2.50" height="12.20" fill="#5f53a6"/>
<rect x="1063.65" y="860.11" width="30.95" height="12.20" fill="#fde7d7"/>
<rect x="1094.60" y="860.11" width="26.46" height="12.20" fill="#d0e7d8"/>
<rect x="1121.05" y="860.11" width="9.75" height="12.20" fill="#a0b4a4"/>
<line x1="269.40" y1="866.21" x2="274.50" y2="866.21" stroke="#1a1a1a" stroke-width="2.2"/>
<text x="265.30" y="872.51" font-size="22.3" text-anchor="end" textLength="185.92" lengthAdjust="spacingAndGlyphs">Mareckova_FX1146</text>
<rect x="275.20" y="884.18" width="3.78" height="12.20" fill="#9ad3f1"/>
<rect x="278.98" y="884.18" width="3.49" height="12.20" fill="#5aade0"/>
<rect x="282.48" y="884.18" width="15.97" height="12.20" fill="#e2a32b"/>
<rect x="298.45" y="884.18" width="1.50" height="12.20" fill="#ef6324"/>
<rect x="299.95" y="884.18" width="570.03" height="12.20" fill="#f6941f"/>
<rect x="869.98" y="884.18" width="88.85" height="12.20" fill="#e97d62"/>
<rect x="958.83" y="884.18" width="4.99" height="12.20" fill="#e8628c"/>
<rect x="963.82" y="884.18" width="3.99" height="12.20" fill="#f09ab8"/>
<rect x="967.81" y="884.18" width="7.49" height="12.20" fill="#fde7d7"/>
<rect x="975.30" y="884.18" width="120.79" height="12.20" fill="#d0e7d8"/>
<rect x="1096.10" y="884.18" width="34.70" height="12.20" fill="#a0b4a4"/>
<line x1="269.40" y1="890.28" x2="274.50" y2="890.28" stroke="#1a1a1a" stroke-width="2.2"/>
<text x="265.30" y="896.58" font-size="22.3" text-anchor="end" textLength="185.92" lengthAdjust="spacingAndGlyphs">Mareckova_FX1125</text>
<rect x="275.20" y="908.25" width="137.06" height="12.20" fill="#9ad3f1"/>
<rect x="412.26" y="908.25" width="8.49" height="12.20" fill="#6fcacb"/>
<rect x="420.74" y="908.25" width="7.49" height="12.20" fill="#5aade0"/>
<rect x="428.23" y="908.25" width="13.98" height="12.20" fill="#f8ea22"/>
<rect x="442.21" y="908.25" width="18.97" height="12.20" fill="#d2d2d4"/>
<rect x="461.18" y="908.25" width="6.99" height="12.20" fill="#f8b91d"/>
<rect x="468.16" y="908.25" width="29.95" height="12.20" fill="#e2a32b"/>
<rect x="498.11" y="908.25" width="6.49" height="12.20" fill="#ef6324"/>
<rect x="504.60" y="908.25" width="358.39" height="12.20" fill="#f6941f"/>
<rect x="862.99" y="908.25" width="100.83" height="12.20" fill="#e97d62"/>
<rect x="963.82" y="908.25" width="8.98" height="12.20" fill="#e8628c"/>
<rect x="972.81" y="908.25" width="4.99" height="12.20" fill="#dddddf"/>
<rect x="977.80" y="908.25" width="29.95" height="12.20" fill="#fde7d7"/>
<rect x="1007.75" y="908.25" width="2.00" height="12.20" fill="#f8bc8f"/>
<rect x="1009.74" y="908.25" width="85.35" height="12.20" fill="#d0e7d8"/>
<rect x="1095.10" y="908.25" width="35.70" height="12.20" fill="#a0b4a4"/>
<line x1="269.40" y1="914.35" x2="274.50" y2="914.35" stroke="#1a1a1a" stroke-width="2.2"/>
<text x="265.30" y="920.65" font-size="22.3" text-anchor="end" textLength="184.36" lengthAdjust="spacingAndGlyphs">Mareckova_FX1119</text>
<rect x="275.20" y="932.32" width="4.78" height="12.20" fill="#9ad3f1"/>
<rect x="279.98" y="932.32" width="23.46" height="12.20" fill="#5aade0"/>
<rect x="303.44" y="932.32" width="349.41" height="12.20" fill="#94c67e"/>
<rect x="652.85" y="932.32" width="1.50" height="12.20" fill="#44955f"/>
<rect x="654.35" y="932.32" width="28.95" height="12.20" fill="#b5b835"/>
<rect x="683.30" y="932.32" width="10.98" height="12.20" fill="#f8ea22"/>
<rect x="694.28" y="932.32" width="1.50" height="12.20" fill="#fbf3b5"/>
<rect x="695.78" y="932.32" width="10.98" height="12.20" fill="#f8b91d"/>
<rect x="706.76" y="932.32" width="19.97" height="12.20" fill="#e2a32b"/>
<rect x="726.72" y="932.32" width="18.97" height="12.20" fill="#f6941f"/>
<rect x="745.69" y="932.32" width="8.49" height="12.20" fill="#e97d62"/>
<rect x="754.18" y="932.32" width="335.93" height="12.20" fill="#e8628c"/>
<rect x="1090.11" y="932.32" width="6.99" height="12.20" fill="#f09ab8"/>
<rect x="1097.09" y="932.32" width="21.46" height="12.20" fill="#fde7d7"/>
<rect x="1118.56" y="932.32" width="2.50" height="12.20" fill="#f8bc8f"/>
<rect x="1121.05" y="932.32" width="7.49" height="12.20" fill="#d0e7d8"/>
<rect x="1128.54" y="932.32" width="2.26" height="12.20" fill="#a0b4a4"/>
<line x1="269.40" y1="938.42" x2="274.50" y2="938.42" stroke="#1a1a1a" stroke-width="2.2"/>
<text x="265.30" y="944.72" font-size="22.3" text-anchor="end" textLength="177.00" lengthAdjust="spacingAndGlyphs">Mareckova_ES345</text>
<rect x="275.20" y="956.39" width="8.78" height="12.20" fill="#9ad3f1"/>
<rect x="283.98" y="956.39" width="9.98" height="12.20" fill="#94c67e"/>
<rect x="293.96" y="956.39" width="2.00" height="12.20" fill="#397a3b"/>
<rect x="295.96" y="956.39" width="2.50" height="12.20" fill="#f8ea22"/>
<rect x="298.45" y="956.39" width="24.96" height="12.20" fill="#d2d2d4"/>
<rect x="323.41" y="956.39" width="61.40" height="12.20" fill="#a69d94"/>
<rect x="384.80" y="956.39" width="130.78" height="12.20" fill="#a87d74"/>
<rect x="515.58" y="956.39" width="193.67" height="12.20" fill="#d5b274"/>
<rect x="709.25" y="956.39" width="11.48" height="12.20" fill="#e2a32b"/>
<rect x="720.73" y="956.39" width="6.99" height="12.20" fill="#f6941f"/>
<rect x="727.72" y="956.39" width="6.49" height="12.20" fill="#f09ab8"/>
<rect x="734.21" y="956.39" width="40.93" height="12.20" fill="#7f4b40"/>
<rect x="775.14" y="956.39" width="249.58" height="12.20" fill="#fde7d7"/>
<rect x="1024.72" y="956.39" width="73.87" height="12.20" fill="#d6ab93"/>
<rect x="1098.59" y="956.39" width="32.21" height="12.20" fill="#d0e7d8"/>
<line x1="269.40" y1="962.49" x2="274.50" y2="962.49" stroke="#1a1a1a" stroke-width="2.2"/>
<text x="265.30" y="968.79" font-size="22.3" text-anchor="end" textLength="151.38" lengthAdjust="spacingAndGlyphs">Mareckova_A70</text>
<rect x="275.20" y="980.46" width="3.29" height="12.20" fill="#f8b91d"/>
<rect x="278.49" y="980.46" width="14.97" height="12.20" fill="#e2a32b"/>
<rect x="293.46" y="980.46" width="7.99" height="12.20" fill="#f6941f"/>
<rect x="301.45" y="980.46" width="12.48" height="12.20" fill="#e8628c"/>
<rect x="313.93" y="980.46" width="712.29" height="12.20" fill="#f09ab8"/>
<rect x="1026.21" y="980.46" width="15.97" height="12.20" fill="#c176b1"/>
<rect x="1042.19" y="980.46" width="16.47" height="12.20" fill="#fde7d7"/>
<rect x="1058.66" y="980.46" width="51.41" height="12.20" fill="#d0e7d8"/>
<rect x="1110.07" y="980.46" width="20.73" height="12.20" fill="#a0b4a4"/>
<line x1="269.40" y1="986.56" x2="274.50" y2="986.56" stroke="#1a1a1a" stroke-width="2.2"/>
<text x="265.30" y="992.86" font-size="22.3" text-anchor="end" textLength="168.88" lengthAdjust="spacingAndGlyphs">Lai_GSM5572240</text>
<rect x="275.20" y="1004.53" width="3.29" height="12.20" fill="#f8b91d"/>
<rect x="278.49" y="1004.53" width="16.47" height="12.20" fill="#e2a32b"/>
<rect x="294.96" y="1004.53" width="554.06" height="12.20" fill="#f6941f"/>
<rect x="849.02" y="1004.53" width="33.44" height="12.20" fill="#e97d62"/>
<rect x="882.46" y="1004.53" width="135.27" height="12.20" fill="#e8628c"/>
<rect x="1017.73" y="1004.53" width="8.49" height="12.20" fill="#f09ab8"/>
<rect x="1026.21" y="1004.53" width="9.98" height="12.20" fill="#fde7d7"/>
<rect x="1036.20" y="1004.53" width="83.86" height="12.20" fill="#d0e7d8"/>
<rect x="1120.05" y="1004.53" width="10.75" height="12.20" fill="#a0b4a4"/>
<line x1="269.40" y1="1010.63" x2="274.50" y2="1010.63" stroke="#1a1a1a" stroke-width="2.2"/>
<text x="265.30" y="1016.93" font-size="22.3" text-anchor="end" textLength="168.88" lengthAdjust="spacingAndGlyphs">Lai_GSM5572239</text>
<rect x="275.20" y="1028.60" width="14.77" height="12.20" fill="#e2a32b"/>
<rect x="289.97" y="1028.60" width="93.84" height="12.20" fill="#f6941f"/>
<rect x="383.81" y="1028.60" width="19.47" height="12.20" fill="#e97d62"/>
<rect x="403.27" y="1028.60" width="139.76" height="12.20" fill="#e8628c"/>
<rect x="543.04" y="1028.60" width="541.58" height="12.20" fill="#f09ab8"/>
<rect x="1084.62" y="1028.60" width="2.50" height="12.20" fill="#5f53a6"/>
<rect x="1087.11" y="1028.60" width="8.98" height="12.20" fill="#fde7d7"/>
<rect x="1096.10" y="1028.60" width="29.95" height="12.20" fill="#d0e7d8"/>
<rect x="1126.04" y="1028.60" width="4.76" height="12.20" fill="#a0b4a4"/>
<line x1="269.40" y1="1034.70" x2="274.50" y2="1034.70" stroke="#1a1a1a" stroke-width="2.2"/>
<text x="265.30" y="1041.00" font-size="22.3" text-anchor="end" textLength="168.88" lengthAdjust="spacingAndGlyphs">Lai_GSM5572238</text>
<rect x="275.20" y="1052.67" width="125.58" height="12.20" fill="#9ad3f1"/>
<rect x="400.78" y="1052.67" width="4.99" height="12.20" fill="#6fcacb"/>
<rect x="405.77" y="1052.67" width="20.47" height="12.20" fill="#5aade0"/>
<rect x="426.23" y="1052.67" width="3.49" height="12.20" fill="#fbf3b5"/>
<rect x="429.73" y="1052.67" width="3.49" height="12.20" fill="#f8ea22"/>
<rect x="433.22" y="1052.67" width="2.99" height="12.20" fill="#8473b6"/>
<rect x="436.22" y="1052.67" width="7.49" height="12.20" fill="#f8b91d"/>
<rect x="443.70" y="1052.67" width="39.93" height="12.20" fill="#e2a32b"/>
<rect x="483.64" y="1052.67" width="373.86" height="12.20" fill="#f6941f"/>
<rect x="857.50" y="1052.67" width="33.94" height="12.20" fill="#e97d62"/>
<rect x="891.44" y="1052.67" width="11.48" height="12.20" fill="#e8628c"/>
<rect x="902.92" y="1052.67" width="3.49" height="12.20" fill="#f09ab8"/>
<rect x="906.42" y="1052.67" width="2.50" height="12.20" fill="#dddddf"/>
<rect x="908.91" y="1052.67" width="74.87" height="12.20" fill="#fde7d7"/>
<rect x="983.79" y="1052.67" width="5.99" height="12.20" fill="#d6ab93"/>
<rect x="989.78" y="1052.67" width="122.29" height="12.20" fill="#d0e7d8"/>
<rect x="1112.07" y="1052.67" width="18.73" height="12.20" fill="#a0b4a4"/>
<line x1="269.40" y1="1058.77" x2="274.50" y2="1058.77" stroke="#1a1a1a" stroke-width="2.2"/>
<text x="265.30" y="1065.07" font-size="22.3" text-anchor="end" textLength="202.65" lengthAdjust="spacingAndGlyphs">Huang_GSM6605440</text>
<rect x="275.20" y="1076.74" width="64.68" height="12.20" fill="#9ad3f1"/>
<rect x="339.88" y="1076.74" width="8.98" height="12.20" fill="#6fcacb"/>
<rect x="348.87" y="1076.74" width="24.46" height="12.20" fill="#5aade0"/>
<rect x="373.32" y="1076.74" width="3.99" height="12.20" fill="#fbf3b5"/>
<rect x="377.32" y="1076.74" width="3.99" height="12.20" fill="#f8ea22"/>
<rect x="381.31" y="1076.74" width="3.49" height="12.20" fill="#8473b6"/>
<rect x="384.80" y="1076.74" width="8.98" height="12.20" fill="#f8b91d"/>
<rect x="393.79" y="1076.74" width="37.44" height="12.20" fill="#e2a32b"/>
<rect x="431.23" y="1076.74" width="1.50" height="12.20" fill="#ef6324"/>
<rect x="432.72" y="1076.74" width="453.73" height="12.20" fill="#f6941f"/>
<rect x="886.45" y="1076.74" width="88.35" height="12.20" fill="#e97d62"/>
<rect x="974.80" y="1076.74" width="2.99" height="12.20" fill="#e8628c"/>
<rect x="977.80" y="1076.74" width="3.49" height="12.20" fill="#5f53a6"/>
<rect x="981.29" y="1076.74" width="53.91" height="12.20" fill="#fde7d7"/>
<rect x="1035.20" y="1076.74" width="4.49" height="12.20" fill="#f8bc8f"/>
<rect x="1039.69" y="1076.74" width="54.91" height="12.20" fill="#d0e7d8"/>
<rect x="1094.60" y="1076.74" width="36.20" height="12.20" fill="#a0b4a4"/>
<line x1="269.40" y1="1082.84" x2="274.50" y2="1082.84" stroke="#1a1a1a" stroke-width="2.2"/>
<text x="265.30" y="1089.14" font-size="22.3" text-anchor="end" textLength="202.65" lengthAdjust="spacingAndGlyphs">Huang_GSM6605439</text>
<rect x="275.20" y="1100.81" width="78.66" height="12.20" fill="#9ad3f1"/>
<rect x="353.86" y="1100.81" width="4.49" height="12.20" fill="#6fcacb"/>
<rect x="358.35" y="1100.81" width="5.49" height="12.20" fill="#5aade0"/>
<rect x="363.84" y="1100.81" width="2.50" height="12.20" fill="#f8ea22"/>
<rect x="366.34" y="1100.81" width="14.48" height="12.20" fill="#f8b91d"/>
<rect x="380.81" y="1100.81" width="22.96" height="12.20" fill="#e2a32b"/>
<rect x="403.77" y="1100.81" width="546.57" height="12.20" fill="#f6941f"/>
<rect x="950.34" y="1100.81" width="34.94" height="12.20" fill="#e97d62"/>
<rect x="985.28" y="1100.81" width="3.49" height="12.20" fill="#e8628c"/>
<rect x="988.78" y="1100.81" width="11.48" height="12.20" fill="#f09ab8"/>
<rect x="1000.26" y="1100.81" width="23.46" height="12.20" fill="#fde7d7"/>
<rect x="1023.72" y="1100.81" width="4.99" height="12.20" fill="#d6ab93"/>
<rect x="1028.71" y="1100.81" width="92.34" height="12.20" fill="#d0e7d8"/>
<rect x="1121.05" y="1100.81" width="9.75" height="12.20" fill="#a0b4a4"/>
<line x1="269.40" y1="1106.91" x2="274.50" y2="1106.91" stroke="#1a1a1a" stroke-width="2.2"/>
<text x="265.30" y="1113.21" font-size="22.3" text-anchor="end" textLength="202.65" lengthAdjust="spacingAndGlyphs">Huang_GSM6605438</text>
<rect x="275.20" y="1124.88" width="40.72" height="12.20" fill="#44955f"/>
<rect x="315.92" y="1124.88" width="253.57" height="12.20" fill="#397a3b"/>
<rect x="569.49" y="1124.88" width="2.50" height="12.20" fill="#d9e24c"/>
<rect x="571.99" y="1124.88" width="3.49" height="12.20" fill="#fbf3b5"/>
<rect x="575.48" y="1124.88" width="7.49" height="12.20" fill="#d2d2d4"/>
<rect x="582.97" y="1124.88" width="19.97" height="12.20" fill="#f8b91d"/>
<rect x="602.93" y="1124.88" width="14.97" height="12.20" fill="#e2a32b"/>
<rect x="617.91" y="1124.88" width="3.99" height="12.20" fill="#f6941f"/>
<rect x="621.90" y="1124.88" width="20.96" height="12.20" fill="#e8628c"/>
<rect x="642.87" y="1124.88" width="277.03" height="12.20" fill="#f09ab8"/>
<rect x="919.90" y="1124.88" width="12.48" height="12.20" fill="#c176b1"/>
<rect x="932.37" y="1124.88" width="77.87" height="12.20" fill="#fde7d7"/>
<rect x="1010.24" y="1124.88" width="8.49" height="12.20" fill="#d6ab93"/>
<rect x="1018.73" y="1124.88" width="104.82" height="12.20" fill="#d0e7d8"/>
<rect x="1123.55" y="1124.88" width="7.25" height="12.20" fill="#a0b4a4"/>
<line x1="269.40" y1="1130.98" x2="274.50" y2="1130.98" stroke="#1a1a1a" stroke-width="2.2"/>
<text x="265.30" y="1137.28" font-size="22.3" text-anchor="end" textLength="202.65" lengthAdjust="spacingAndGlyphs">Huang_GSM6605437</text>
<rect x="275.20" y="1148.95" width="4.78" height="12.20" fill="#9ad3f1"/>
<rect x="279.98" y="1148.95" width="3.49" height="12.20" fill="#6fcacb"/>
<rect x="283.48" y="1148.95" width="3.99" height="12.20" fill="#5aade0"/>
<rect x="287.47" y="1148.95" width="93.34" height="12.20" fill="#94c67e"/>
<rect x="380.81" y="1148.95" width="165.22" height="12.20" fill="#44955f"/>
<rect x="546.03" y="1148.95" width="9.48" height="12.20" fill="#397a3b"/>
<rect x="555.51" y="1148.95" width="18.97" height="12.20" fill="#b5b835"/>
<rect x="574.48" y="1148.95" width="22.46" height="12.20" fill="#f8ea22"/>
<rect x="596.94" y="1148.95" width="1.50" height="12.20" fill="#fbf3b5"/>
<rect x="598.44" y="1148.95" width="34.94" height="12.20" fill="#f8b91d"/>
<rect x="633.38" y="1148.95" width="9.48" height="12.20" fill="#e2a32b"/>
<rect x="642.87" y="1148.95" width="20.47" height="12.20" fill="#f6941f"/>
<rect x="663.33" y="1148.95" width="39.43" height="12.20" fill="#e8628c"/>
<rect x="702.76" y="1148.95" width="179.69" height="12.20" fill="#f09ab8"/>
<rect x="882.46" y="1148.95" width="26.46" height="12.20" fill="#fde7d7"/>
<rect x="908.91" y="1148.95" width="4.99" height="12.20" fill="#d6ab93"/>
<rect x="913.91" y="1148.95" width="210.64" height="12.20" fill="#d0e7d8"/>
<rect x="1124.55" y="1148.95" width="6.25" height="12.20" fill="#a0b4a4"/>
<line x1="269.40" y1="1155.05" x2="274.50" y2="1155.05" stroke="#1a1a1a" stroke-width="2.2"/>
<text x="265.30" y="1161.35" font-size="22.3" text-anchor="end" textLength="202.65" lengthAdjust="spacingAndGlyphs">Huang_GSM6605436</text>
<rect x="275.20" y="1173.02" width="3.78" height="12.20" fill="#9ad3f1"/>
<rect x="278.98" y="1173.02" width="6.99" height="12.20" fill="#6fcacb"/>
<rect x="285.97" y="1173.02" width="17.97" height="12.20" fill="#5aade0"/>
<rect x="303.94" y="1173.02" width="183.19" height="12.20" fill="#94c67e"/>
<rect x="487.13" y="1173.02" width="39.93" height="12.20" fill="#b5b835"/>
<rect x="527.06" y="1173.02" width="1.50" height="12.20" fill="#f8ea22"/>
<rect x="528.56" y="1173.02" width="14.48" height="12.20" fill="#8473b6"/>
<rect x="543.04" y="1173.02" width="5.49" height="12.20" fill="#d9d0e8"/>
<rect x="548.53" y="1173.02" width="4.99" height="12.20" fill="#f8b91d"/>
<rect x="553.52" y="1173.02" width="5.99" height="12.20" fill="#e2a32b"/>
<rect x="559.51" y="1173.02" width="29.95" height="12.20" fill="#f6941f"/>
<rect x="589.46" y="1173.02" width="152.24" height="12.20" fill="#e8628c"/>
<rect x="741.70" y="1173.02" width="123.29" height="12.20" fill="#f09ab8"/>
<rect x="864.99" y="1173.02" width="11.48" height="12.20" fill="#5f53a6"/>
<rect x="876.47" y="1173.02" width="37.44" height="12.20" fill="#fde7d7"/>
<rect x="913.91" y="1173.02" width="2.50" height="12.20" fill="#d6ab93"/>
<rect x="916.40" y="1173.02" width="207.15" height="12.20" fill="#d0e7d8"/>
<rect x="1123.55" y="1173.02" width="7.25" height="12.20" fill="#a0b4a4"/>
<line x1="269.40" y1="1179.12" x2="274.50" y2="1179.12" stroke="#1a1a1a" stroke-width="2.2"/>
<text x="265.30" y="1185.42" font-size="22.3" text-anchor="end" textLength="202.65" lengthAdjust="spacingAndGlyphs">Huang_GSM6605435</text>
<rect x="275.20" y="1197.09" width="161.02" height="12.20" fill="#9ad3f1"/>
<rect x="436.22" y="1197.09" width="7.49" height="12.20" fill="#6fcacb"/>
<rect x="443.70" y="1197.09" width="18.47" height="12.20" fill="#5aade0"/>
<rect x="462.17" y="1197.09" width="3.99" height="12.20" fill="#fbf3b5"/>
<rect x="466.17" y="1197.09" width="4.99" height="12.20" fill="#f8ea22"/>
<rect x="471.16" y="1197.09" width="8.49" height="12.20" fill="#f8b91d"/>
<rect x="479.64" y="1197.09" width="51.41" height="12.20" fill="#e2a32b"/>
<rect x="531.06" y="1197.09" width="1.00" height="12.20" fill="#ef6324"/>
<rect x="532.05" y="1197.09" width="220.62" height="12.20" fill="#f6941f"/>
<rect x="752.68" y="1197.09" width="17.97" height="12.20" fill="#e97d62"/>
<rect x="770.65" y="1197.09" width="4.99" height="12.20" fill="#e8628c"/>
<rect x="775.64" y="1197.09" width="9.48" height="12.20" fill="#f09ab8"/>
<rect x="785.12" y="1197.09" width="4.99" height="12.20" fill="#c176b1"/>
<rect x="790.12" y="1197.09" width="42.93" height="12.20" fill="#fde7d7"/>
<rect x="833.04" y="1197.09" width="2.50" height="12.20" fill="#d6ab93"/>
<rect x="835.54" y="1197.09" width="253.07" height="12.20" fill="#d0e7d8"/>
<rect x="1088.61" y="1197.09" width="42.19" height="12.20" fill="#a0b4a4"/>
<line x1="269.40" y1="1203.19" x2="274.50" y2="1203.19" stroke="#1a1a1a" stroke-width="2.2"/>
<text x="265.30" y="1209.49" font-size="22.3" text-anchor="end" textLength="202.65" lengthAdjust="spacingAndGlyphs">Huang_GSM6605434</text>
<rect x="275.20" y="1221.16" width="49.71" height="12.20" fill="#1a6596"/>
<rect x="324.91" y="1221.16" width="94.84" height="12.20" fill="#9ad3f1"/>
<rect x="419.75" y="1221.16" width="7.49" height="12.20" fill="#6fcacb"/>
<rect x="427.23" y="1221.16" width="3.49" height="12.20" fill="#5aade0"/>
<rect x="430.73" y="1221.16" width="2.50" height="12.20" fill="#fbf3b5"/>
<rect x="433.22" y="1221.16" width="3.99" height="12.20" fill="#f8ea22"/>
<rect x="437.22" y="1221.16" width="14.97" height="12.20" fill="#f8b91d"/>
<rect x="452.19" y="1221.16" width="37.44" height="12.20" fill="#e2a32b"/>
<rect x="489.63" y="1221.16" width="1.50" height="12.20" fill="#ef6324"/>
<rect x="491.12" y="1221.16" width="120.79" height="12.20" fill="#f6941f"/>
<rect x="611.92" y="1221.16" width="20.96" height="12.20" fill="#e97d62"/>
<rect x="632.88" y="1221.16" width="5.49" height="12.20" fill="#f09ab8"/>
<rect x="638.37" y="1221.16" width="3.49" height="12.20" fill="#5f53a6"/>
<rect x="641.87" y="1221.16" width="69.88" height="12.20" fill="#fde7d7"/>
<rect x="711.75" y="1221.16" width="8.49" height="12.20" fill="#d6ab93"/>
<rect x="720.23" y="1221.16" width="390.84" height="12.20" fill="#d0e7d8"/>
<rect x="1111.07" y="1221.16" width="19.73" height="12.20" fill="#a0b4a4"/>
<line x1="269.40" y1="1227.26" x2="274.50" y2="1227.26" stroke="#1a1a1a" stroke-width="2.2"/>
<text x="265.30" y="1233.56" font-size="22.3" text-anchor="end" textLength="202.65" lengthAdjust="spacingAndGlyphs">Huang_GSM6605433</text>
<rect x="275.20" y="1245.23" width="10.77" height="12.20" fill="#5f9ec9"/>
<rect x="285.97" y="1245.23" width="106.32" height="12.20" fill="#9ad3f1"/>
<rect x="392.29" y="1245.23" width="30.95" height="12.20" fill="#6fcacb"/>
<rect x="423.24" y="1245.23" width="46.42" height="12.20" fill="#5aade0"/>
<rect x="469.66" y="1245.23" width="5.99" height="12.20" fill="#fbf3b5"/>
<rect x="475.65" y="1245.23" width="13.98" height="12.20" fill="#f8ea22"/>
<rect x="489.63" y="1245.23" width="11.48" height="12.20" fill="#f8b91d"/>
<rect x="501.11" y="1245.23" width="37.44" height="12.20" fill="#e2a32b"/>
<rect x="538.54" y="1245.23" width="311.97" height="12.20" fill="#f6941f"/>
<rect x="850.51" y="1245.23" width="44.42" height="12.20" fill="#e97d62"/>
<rect x="894.94" y="1245.23" width="4.99" height="12.20" fill="#f09ab8"/>
<rect x="899.93" y="1245.23" width="41.43" height="12.20" fill="#fde7d7"/>
<rect x="941.36" y="1245.23" width="4.99" height="12.20" fill="#d6ab93"/>
<rect x="946.35" y="1245.23" width="162.22" height="12.20" fill="#d0e7d8"/>
<rect x="1108.57" y="1245.23" width="22.23" height="12.20" fill="#a0b4a4"/>
<line x1="269.40" y1="1251.33" x2="274.50" y2="1251.33" stroke="#1a1a1a" stroke-width="2.2"/>
<text x="265.30" y="1257.63" font-size="22.3" text-anchor="end" textLength="202.65" lengthAdjust="spacingAndGlyphs">Huang_GSM6605432</text>
<rect x="275.20" y="1269.30" width="28.24" height="12.20" fill="#5aade0"/>
<rect x="303.44" y="1269.30" width="191.18" height="12.20" fill="#94c67e"/>
<rect x="494.62" y="1269.30" width="7.49" height="12.20" fill="#b5b835"/>
<rect x="502.11" y="1269.30" width="7.49" height="12.20" fill="#f8ea22"/>
<rect x="509.59" y="1269.30" width="3.49" height="12.20" fill="#fbf3b5"/>
<rect x="513.09" y="1269.30" width="3.99" height="12.20" fill="#f8b91d"/>
<rect x="517.08" y="1269.30" width="13.48" height="12.20" fill="#e2a32b"/>
<rect x="530.56" y="1269.30" width="153.74" height="12.20" fill="#f6941f"/>
<rect x="684.30" y="1269.30" width="4.99" height="12.20" fill="#e97d62"/>
<rect x="689.29" y="1269.30" width="145.75" height="12.20" fill="#e8628c"/>
<rect x="835.04" y="1269.30" width="36.44" height="12.20" fill="#f09ab8"/>
<rect x="871.48" y="1269.30" width="26.46" height="12.20" fill="#fde7d7"/>
<rect x="897.93" y="1269.30" width="2.50" height="12.20" fill="#d6ab93"/>
<rect x="900.43" y="1269.30" width="222.12" height="12.20" fill="#d0e7d8"/>
<rect x="1122.55" y="1269.30" width="8.25" height="12.20" fill="#a0b4a4"/>
<line x1="269.40" y1="1275.40" x2="274.50" y2="1275.40" stroke="#1a1a1a" stroke-width="2.2"/>
<text x="265.30" y="1281.70" font-size="22.3" text-anchor="end" textLength="202.65" lengthAdjust="spacingAndGlyphs">Huang_GSM6605431</text>
<rect x="275.20" y="1293.37" width="147.04" height="12.20" fill="#9ad3f1"/>
<rect x="422.24" y="1293.37" width="19.97" height="12.20" fill="#6fcacb"/>
<rect x="442.21" y="1293.37" width="74.87" height="12.20" fill="#5aade0"/>
<rect x="517.08" y="1293.37" width="1.50" height="12.20" fill="#b5b835"/>
<rect x="518.58" y="1293.37" width="13.48" height="12.20" fill="#8473b6"/>
<rect x="532.05" y="1293.37" width="9.98" height="12.20" fill="#d9d0e8"/>
<rect x="542.04" y="1293.37" width="19.97" height="12.20" fill="#f8b91d"/>
<rect x="562.00" y="1293.37" width="24.96" height="12.20" fill="#e2a32b"/>
<rect x="586.96" y="1293.37" width="1.50" height="12.20" fill="#ef6324"/>
<rect x="588.46" y="1293.37" width="275.53" height="12.20" fill="#f6941f"/>
<rect x="863.99" y="1293.37" width="7.49" height="12.20" fill="#e97d62"/>
<rect x="871.48" y="1293.37" width="3.99" height="12.20" fill="#f09ab8"/>
<rect x="875.47" y="1293.37" width="38.43" height="12.20" fill="#5f53a6"/>
<rect x="913.91" y="1293.37" width="29.95" height="12.20" fill="#fde7d7"/>
<rect x="943.85" y="1293.37" width="1.50" height="12.20" fill="#d6ab93"/>
<rect x="945.35" y="1293.37" width="175.70" height="12.20" fill="#d0e7d8"/>
<rect x="1121.05" y="1293.37" width="9.75" height="12.20" fill="#a0b4a4"/>
<line x1="269.40" y1="1299.47" x2="274.50" y2="1299.47" stroke="#1a1a1a" stroke-width="2.2"/>
<text x="265.30" y="1305.77" font-size="22.3" text-anchor="end" textLength="163.03" lengthAdjust="spacingAndGlyphs">GarciaAlonso_E3</text>
<rect x="275.20" y="1317.44" width="35.73" height="12.20" fill="#44955f"/>
<rect x="310.93" y="1317.44" width="2.99" height="12.20" fill="#f8ea22"/>
<rect x="313.93" y="1317.44" width="3.49" height="12.20" fill="#fbf3b5"/>
<rect x="317.42" y="1317.44" width="5.99" height="12.20" fill="#f8b91d"/>
<rect x="323.41" y="1317.44" width="9.98" height="12.20" fill="#e2a32b"/>
<rect x="333.39" y="1317.44" width="2.99" height="12.20" fill="#ef6324"/>
<rect x="336.39" y="1317.44" width="24.96" height="12.20" fill="#f6941f"/>
<rect x="361.34" y="1317.44" width="122.29" height="12.20" fill="#e8628c"/>
<rect x="483.64" y="1317.44" width="587.50" height="12.20" fill="#f09ab8"/>
<rect x="1071.14" y="1317.44" width="5.99" height="12.20" fill="#c176b1"/>
<rect x="1077.13" y="1317.44" width="9.98" height="12.20" fill="#fde7d7"/>
<rect x="1087.11" y="1317.44" width="1.50" height="12.20" fill="#f8bc8f"/>
<rect x="1088.61" y="1317.44" width="32.44" height="12.20" fill="#d0e7d8"/>
<rect x="1121.05" y="1317.44" width="9.75" height="12.20" fill="#a0b4a4"/>
<line x1="269.40" y1="1323.54" x2="274.50" y2="1323.54" stroke="#1a1a1a" stroke-width="2.2"/>
<text x="265.30" y="1329.84" font-size="22.3" text-anchor="end" textLength="163.03" lengthAdjust="spacingAndGlyphs">GarciaAlonso_E2</text>
<rect x="275.20" y="1341.51" width="22.25" height="12.20" fill="#397a3b"/>
<rect x="297.45" y="1341.51" width="3.99" height="12.20" fill="#fbf3b5"/>
<rect x="301.45" y="1341.51" width="18.47" height="12.20" fill="#f8b91d"/>
<rect x="319.92" y="1341.51" width="12.48" height="12.20" fill="#e2a32b"/>
<rect x="332.39" y="1341.51" width="2.50" height="12.20" fill="#ef6324"/>
<rect x="334.89" y="1341.51" width="12.48" height="12.20" fill="#f6941f"/>
<rect x="347.37" y="1341.51" width="11.48" height="12.20" fill="#e8628c"/>
<rect x="358.85" y="1341.51" width="595.99" height="12.20" fill="#f09ab8"/>
<rect x="954.84" y="1341.51" width="49.92" height="12.20" fill="#c176b1"/>
<rect x="1004.75" y="1341.51" width="4.99" height="12.20" fill="#dddddf"/>
<rect x="1009.74" y="1341.51" width="13.98" height="12.20" fill="#fde7d7"/>
<rect x="1023.72" y="1341.51" width="91.34" height="12.20" fill="#d0e7d8"/>
<rect x="1115.06" y="1341.51" width="15.74" height="12.20" fill="#a0b4a4"/>
<line x1="269.40" y1="1347.61" x2="274.50" y2="1347.61" stroke="#1a1a1a" stroke-width="2.2"/>
<text x="265.30" y="1353.91" font-size="22.3" text-anchor="end" textLength="163.03" lengthAdjust="spacingAndGlyphs">GarciaAlonso_E1</text>
<rect x="275.20" y="1365.58" width="63.18" height="12.20" fill="#44955f"/>
<rect x="338.38" y="1365.58" width="3.99" height="12.20" fill="#397a3b"/>
<rect x="342.38" y="1365.58" width="5.99" height="12.20" fill="#d9e24c"/>
<rect x="348.37" y="1365.58" width="201.16" height="12.20" fill="#a69d94"/>
<rect x="549.52" y="1365.58" width="87.35" height="12.20" fill="#a87d74"/>
<rect x="636.88" y="1365.58" width="39.93" height="12.20" fill="#d5b274"/>
<rect x="676.81" y="1365.58" width="24.96" height="12.20" fill="#e2a32b"/>
<rect x="701.77" y="1365.58" width="3.49" height="12.20" fill="#f6941f"/>
<rect x="705.26" y="1365.58" width="11.48" height="12.20" fill="#f09ab8"/>
<rect x="716.74" y="1365.58" width="9.98" height="12.20" fill="#7f4b40"/>
<rect x="726.72" y="1365.58" width="332.93" height="12.20" fill="#fde7d7"/>
<rect x="1059.66" y="1365.58" width="61.40" height="12.20" fill="#d6ab93"/>
<rect x="1121.05" y="1365.58" width="7.49" height="12.20" fill="#d0e7d8"/>
<rect x="1128.54" y="1365.58" width="2.26" height="12.20" fill="#a0b4a4"/>
<line x1="269.40" y1="1371.68" x2="274.50" y2="1371.68" stroke="#1a1a1a" stroke-width="2.2"/>
<text x="265.30" y="1377.98" font-size="22.3" text-anchor="end" textLength="174.68" lengthAdjust="spacingAndGlyphs">GarciaAlonso_A30</text>
<rect x="275.20" y="1389.65" width="29.74" height="12.20" fill="#9ad3f1"/>
<rect x="304.94" y="1389.65" width="1.50" height="12.20" fill="#fbf3b5"/>
<rect x="306.44" y="1389.65" width="17.47" height="12.20" fill="#f8ea22"/>
<rect x="323.91" y="1389.65" width="2.00" height="12.20" fill="#fbf3b5"/>
<rect x="325.90" y="1389.65" width="10.48" height="12.20" fill="#a69d94"/>
<rect x="336.39" y="1389.65" width="8.49" height="12.20" fill="#a87d74"/>
<rect x="344.87" y="1389.65" width="3.99" height="12.20" fill="#f8b91d"/>
<rect x="348.87" y="1389.65" width="26.95" height="12.20" fill="#e2a32b"/>
<rect x="375.82" y="1389.65" width="1.50" height="12.20" fill="#ef6324"/>
<rect x="377.32" y="1389.65" width="576.52" height="12.20" fill="#f6941f"/>
<rect x="953.84" y="1389.65" width="59.90" height="12.20" fill="#e97d62"/>
<rect x="1013.74" y="1389.65" width="6.49" height="12.20" fill="#e8628c"/>
<rect x="1020.22" y="1389.65" width="3.49" height="12.20" fill="#f09ab8"/>
<rect x="1023.72" y="1389.65" width="2.50" height="12.20" fill="#dddddf"/>
<rect x="1026.21" y="1389.65" width="34.94" height="12.20" fill="#fde7d7"/>
<rect x="1061.16" y="1389.65" width="4.99" height="12.20" fill="#d6ab93"/>
<rect x="1066.15" y="1389.65" width="38.93" height="12.20" fill="#d0e7d8"/>
<rect x="1105.08" y="1389.65" width="25.72" height="12.20" fill="#a0b4a4"/>
<line x1="269.40" y1="1395.75" x2="274.50" y2="1395.75" stroke="#1a1a1a" stroke-width="2.2"/>
<text x="265.30" y="1402.05" font-size="22.3" text-anchor="end" textLength="174.68" lengthAdjust="spacingAndGlyphs">GarciaAlonso_A13</text>
<rect x="275.20" y="1413.72" width="17.26" height="12.20" fill="#f8ea22"/>
<rect x="292.46" y="1413.72" width="2.50" height="12.20" fill="#fbf3b5"/>
<rect x="294.96" y="1413.72" width="8.49" height="12.20" fill="#e2a32b"/>
<rect x="303.44" y="1413.72" width="7.49" height="12.20" fill="#7f4b40"/>
<rect x="310.93" y="1413.72" width="765.20" height="12.20" fill="#fde7d7"/>
<rect x="1076.13" y="1413.72" width="51.41" height="12.20" fill="#d6ab93"/>
<rect x="1127.54" y="1413.72" width="3.26" height="12.20" fill="#f8bc8f"/>
<line x1="269.40" y1="1419.82" x2="274.50" y2="1419.82" stroke="#1a1a1a" stroke-width="2.2"/>
<text x="265.30" y="1426.12" font-size="22.3" text-anchor="end" textLength="115.30" lengthAdjust="spacingAndGlyphs">Fonseca_18</text>
<rect x="275.20" y="1437.79" width="4.78" height="12.20" fill="#5f9ec9"/>
<rect x="279.98" y="1437.79" width="17.47" height="12.20" fill="#9ad3f1"/>
<rect x="297.45" y="1437.79" width="3.49" height="12.20" fill="#f8ea22"/>
<rect x="300.95" y="1437.79" width="2.99" height="12.20" fill="#e2a32b"/>
<rect x="303.94" y="1437.79" width="759.71" height="12.20" fill="#f6941f"/>
<rect x="1063.65" y="1437.79" width="3.49" height="12.20" fill="#e97d62"/>
<rect x="1067.14" y="1437.79" width="12.48" height="12.20" fill="#e8628c"/>
<rect x="1079.62" y="1437.79" width="17.47" height="12.20" fill="#f09ab8"/>
<rect x="1097.09" y="1437.79" width="3.99" height="12.20" fill="#c176b1"/>
<rect x="1101.09" y="1437.79" width="27.45" height="12.20" fill="#fde7d7"/>
<rect x="1128.54" y="1437.79" width="2.26" height="12.20" fill="#d6ab93"/>
<line x1="269.40" y1="1443.89" x2="274.50" y2="1443.89" stroke="#1a1a1a" stroke-width="2.2"/>
<text x="265.30" y="1450.19" font-size="22.3" text-anchor="end" textLength="115.30" lengthAdjust="spacingAndGlyphs">Fonseca_17</text>
<rect x="275.20" y="1461.86" width="3.29" height="12.20" fill="#5f9ec9"/>
<rect x="278.49" y="1461.86" width="55.41" height="12.20" fill="#9ad3f1"/>
<rect x="333.89" y="1461.86" width="103.32" height="12.20" fill="#5aade0"/>
<rect x="437.22" y="1461.86" width="2.50" height="12.20" fill="#f8ea22"/>
<rect x="439.71" y="1461.86" width="23.96" height="12.20" fill="#e2a32b"/>
<rect x="463.67" y="1461.86" width="29.45" height="12.20" fill="#f6941f"/>
<rect x="493.12" y="1461.86" width="7.49" height="12.20" fill="#f09ab8"/>
<rect x="500.61" y="1461.86" width="7.99" height="12.20" fill="#c176b1"/>
<rect x="508.59" y="1461.86" width="514.13" height="12.20" fill="#fde7d7"/>
<rect x="1022.72" y="1461.86" width="89.85" height="12.20" fill="#d6ab93"/>
<rect x="1112.57" y="1461.86" width="18.23" height="12.20" fill="#d0e7d8"/>
<line x1="269.40" y1="1467.96" x2="274.50" y2="1467.96" stroke="#1a1a1a" stroke-width="2.2"/>
<text x="265.30" y="1474.26" font-size="22.3" text-anchor="end" textLength="115.30" lengthAdjust="spacingAndGlyphs">Fonseca_16</text>
<rect x="275.20" y="1485.93" width="5.78" height="12.20" fill="#44955f"/>
<rect x="280.98" y="1485.93" width="32.44" height="12.20" fill="#397a3b"/>
<rect x="313.43" y="1485.93" width="6.49" height="12.20" fill="#f8ea22"/>
<rect x="319.92" y="1485.93" width="2.50" height="12.20" fill="#fbf3b5"/>
<rect x="322.41" y="1485.93" width="9.98" height="12.20" fill="#e2a32b"/>
<rect x="332.39" y="1485.93" width="8.98" height="12.20" fill="#f6941f"/>
<rect x="341.38" y="1485.93" width="6.99" height="12.20" fill="#e8628c"/>
<rect x="348.37" y="1485.93" width="726.27" height="12.20" fill="#f09ab8"/>
<rect x="1074.63" y="1485.93" width="14.97" height="12.20" fill="#c176b1"/>
<rect x="1089.61" y="1485.93" width="37.94" height="12.20" fill="#fde7d7"/>
<rect x="1127.54" y="1485.93" width="3.26" height="12.20" fill="#d6ab93"/>
<line x1="269.40" y1="1492.03" x2="274.50" y2="1492.03" stroke="#1a1a1a" stroke-width="2.2"/>
<text x="265.30" y="1498.33" font-size="22.3" text-anchor="end" textLength="115.30" lengthAdjust="spacingAndGlyphs">Fonseca_14</text>
<rect x="275.20" y="1510.00" width="13.27" height="12.20" fill="#397a3b"/>
<rect x="288.47" y="1510.00" width="5.49" height="12.20" fill="#e2a32b"/>
<rect x="293.96" y="1510.00" width="14.97" height="12.20" fill="#f6941f"/>
<rect x="308.93" y="1510.00" width="5.99" height="12.20" fill="#e8628c"/>
<rect x="314.92" y="1510.00" width="537.59" height="12.20" fill="#f09ab8"/>
<rect x="852.51" y="1510.00" width="252.57" height="12.20" fill="#c176b1"/>
<rect x="1105.08" y="1510.00" width="2.50" height="12.20" fill="#dddddf"/>
<rect x="1107.58" y="1510.00" width="17.47" height="12.20" fill="#fde7d7"/>
<rect x="1125.05" y="1510.00" width="5.75" height="12.20" fill="#d6ab93"/>
<line x1="269.40" y1="1516.10" x2="274.50" y2="1516.10" stroke="#1a1a1a" stroke-width="2.2"/>
<text x="265.30" y="1522.40" font-size="22.3" text-anchor="end" textLength="115.30" lengthAdjust="spacingAndGlyphs">Fonseca_13</text>
<rect x="275.20" y="1534.07" width="4.78" height="12.20" fill="#397a3b"/>
<rect x="279.98" y="1534.07" width="1.00" height="12.20" fill="#fbf3b5"/>
<rect x="280.98" y="1534.07" width="2.99" height="12.20" fill="#f6941f"/>
<rect x="283.98" y="1534.07" width="27.95" height="12.20" fill="#f09ab8"/>
<rect x="311.93" y="1534.07" width="813.62" height="12.20" fill="#c176b1"/>
<rect x="1125.55" y="1534.07" width="5.25" height="12.20" fill="#fde7d7"/>
<line x1="269.40" y1="1540.17" x2="274.50" y2="1540.17" stroke="#1a1a1a" stroke-width="2.2"/>
<text x="265.30" y="1546.47" font-size="22.3" text-anchor="end" textLength="113.74" lengthAdjust="spacingAndGlyphs">Fonseca_11</text>
<rect x="275.20" y="1558.14" width="3.29" height="12.20" fill="#1a6596"/>
<rect x="278.49" y="1558.14" width="73.87" height="12.20" fill="#9ad3f1"/>
<rect x="352.36" y="1558.14" width="3.49" height="12.20" fill="#6fcacb"/>
<rect x="355.85" y="1558.14" width="2.50" height="12.20" fill="#fbf3b5"/>
<rect x="358.35" y="1558.14" width="26.46" height="12.20" fill="#f8ea22"/>
<rect x="384.80" y="1558.14" width="17.47" height="12.20" fill="#d2d2d4"/>
<rect x="402.28" y="1558.14" width="17.47" height="12.20" fill="#ef6324"/>
<rect x="419.75" y="1558.14" width="61.40" height="12.20" fill="#f6941f"/>
<rect x="481.14" y="1558.14" width="4.49" height="12.20" fill="#e8628c"/>
<rect x="485.63" y="1558.14" width="12.98" height="12.20" fill="#f09ab8"/>
<rect x="498.61" y="1558.14" width="377.86" height="12.20" fill="#7f4b40"/>
<rect x="876.47" y="1558.14" width="4.99" height="12.20" fill="#5f53a6"/>
<rect x="881.46" y="1558.14" width="78.37" height="12.20" fill="#fde7d7"/>
<rect x="959.83" y="1558.14" width="16.97" height="12.20" fill="#d6ab93"/>
<rect x="976.80" y="1558.14" width="12.98" height="12.20" fill="#f8bc8f"/>
<rect x="989.78" y="1558.14" width="40.43" height="12.20" fill="#d0e7d8"/>
<rect x="1030.21" y="1558.14" width="100.59" height="12.20" fill="#a0b4a4"/>
<line x1="269.40" y1="1564.24" x2="274.50" y2="1564.24" stroke="#1a1a1a" stroke-width="2.2"/>
<text x="265.30" y="1570.54" font-size="22.3" text-anchor="end" textLength="115.30" lengthAdjust="spacingAndGlyphs">Fonseca_10</text>
<line x1="274.70" y1="301.40" x2="1146.20" y2="301.40" stroke="#1a1a1a" stroke-width="2.2"/>
<line x1="274.70" y1="589.60" x2="1146.20" y2="589.60" stroke="#1a1a1a" stroke-width="2.2"/>
<line x1="274.70" y1="975.00" x2="1146.20" y2="975.00" stroke="#1a1a1a" stroke-width="2.2"/>
<line x1="274.70" y1="1047.40" x2="1146.20" y2="1047.40" stroke="#1a1a1a" stroke-width="2.2"/>
<line x1="274.70" y1="1288.10" x2="1146.20" y2="1288.10" stroke="#1a1a1a" stroke-width="2.2"/>
<line x1="274.70" y1="1408.60" x2="1146.20" y2="1408.60" stroke="#1a1a1a" stroke-width="2.2"/>
<rect x="274.7" y="59.75" width="871.55" height="1516.6" fill="none" stroke="#1a1a1a" stroke-width="3"/>
<line x1="275.20" y1="1577.50" x2="275.20" y2="1583.00" stroke="#1a1a1a" stroke-width="2.6"/>
<text x="276.20" y="1605.00" font-size="22.5" text-anchor="middle" textLength="28.36" lengthAdjust="spacingAndGlyphs">0.0</text>
<line x1="446.26" y1="1577.50" x2="446.26" y2="1583.00" stroke="#1a1a1a" stroke-width="2.6"/>
<text x="447.26" y="1605.00" font-size="22.5" text-anchor="middle" textLength="28.36" lengthAdjust="spacingAndGlyphs">0.2</text>
<line x1="617.32" y1="1577.50" x2="617.32" y2="1583.00" stroke="#1a1a1a" stroke-width="2.6"/>
<text x="618.32" y="1605.00" font-size="22.5" text-anchor="middle" textLength="28.36" lengthAdjust="spacingAndGlyphs">0.4</text>
<line x1="788.38" y1="1577.50" x2="788.38" y2="1583.00" stroke="#1a1a1a" stroke-width="2.6"/>
<text x="789.38" y="1605.00" font-size="22.5" text-anchor="middle" textLength="28.36" lengthAdjust="spacingAndGlyphs">0.6</text>
<line x1="959.44" y1="1577.50" x2="959.44" y2="1583.00" stroke="#1a1a1a" stroke-width="2.6"/>
<text x="960.44" y="1605.00" font-size="22.5" text-anchor="middle" textLength="28.36" lengthAdjust="spacingAndGlyphs">0.8</text>
<line x1="1130.50" y1="1577.50" x2="1130.50" y2="1583.00" stroke="#1a1a1a" stroke-width="2.6"/>
<text x="1131.50" y="1605.00" font-size="22.5" text-anchor="middle" textLength="28.36" lengthAdjust="spacingAndGlyphs">1.0</text>
<text x="674.00" y="18.90" font-size="25.6" text-anchor="middle" textLength="285.97" lengthAdjust="spacingAndGlyphs">Proportion of each cell type</text>
<text x="674.00" y="43.90" font-size="25.6" text-anchor="middle" textLength="238.64" lengthAdjust="spacingAndGlyphs">(scRNA-seq datasets)</text>
<text x="25.40" y="45.70" font-size="37.5" textLength="19.19" lengthAdjust="spacingAndGlyphs" style="stroke-width:0">a</text>
<rect x="1312.60" y="68.20" width="378.71" height="12.00" fill="#9ad3f1"/>
<rect x="1691.31" y="68.20" width="111.81" height="12.00" fill="#6fcacb"/>
<rect x="1803.12" y="68.20" width="101.33" height="12.00" fill="#5aade0"/>
<rect x="1904.45" y="68.20" width="2.50" height="12.00" fill="#44955f"/>
<rect x="1906.95" y="68.20" width="3.49" height="12.00" fill="#fbf3b5"/>
<rect x="1910.44" y="68.20" width="6.49" height="12.00" fill="#f8ea22"/>
<rect x="1916.93" y="68.20" width="2.50" height="12.00" fill="#dddddf"/>
<rect x="1919.43" y="68.20" width="2.50" height="12.00" fill="#e2a32b"/>
<rect x="1921.92" y="68.20" width="108.82" height="12.00" fill="#f6941f"/>
<rect x="2030.74" y="68.20" width="21.96" height="12.00" fill="#e97d62"/>
<rect x="2052.70" y="68.20" width="3.99" height="12.00" fill="#f09ab8"/>
<rect x="2056.69" y="68.20" width="23.46" height="12.00" fill="#5f53a6"/>
<rect x="2080.15" y="68.20" width="3.99" height="12.00" fill="#fde7d7"/>
<rect x="2084.15" y="68.20" width="19.97" height="12.00" fill="#d0e7d8"/>
<rect x="2104.11" y="68.20" width="23.69" height="12.00" fill="#a0b4a4"/>
<line x1="1307.00" y1="74.20" x2="1312.00" y2="74.20" stroke="#1a1a1a" stroke-width="2.2"/>
<text x="1299.40" y="80.70" font-size="22.3" text-anchor="end" textLength="70.74" lengthAdjust="spacingAndGlyphs">FX9027</text>
<rect x="1312.60" y="92.01" width="5.35" height="12.00" fill="#1a6596"/>
<rect x="1317.95" y="92.01" width="251.07" height="12.00" fill="#9ad3f1"/>
<rect x="1569.02" y="92.01" width="13.48" height="12.00" fill="#6fcacb"/>
<rect x="1582.50" y="92.01" width="33.94" height="12.00" fill="#5aade0"/>
<rect x="1616.44" y="92.01" width="2.00" height="12.00" fill="#b5b835"/>
<rect x="1618.44" y="92.01" width="2.99" height="12.00" fill="#fbf3b5"/>
<rect x="1621.43" y="92.01" width="14.48" height="12.00" fill="#f8ea22"/>
<rect x="1635.91" y="92.01" width="7.49" height="12.00" fill="#8473b6"/>
<rect x="1643.40" y="92.01" width="2.99" height="12.00" fill="#f8b91d"/>
<rect x="1646.39" y="92.01" width="6.99" height="12.00" fill="#e2a32b"/>
<rect x="1653.38" y="92.01" width="192.67" height="12.00" fill="#f6941f"/>
<rect x="1846.05" y="92.01" width="36.94" height="12.00" fill="#e97d62"/>
<rect x="1882.99" y="92.01" width="6.49" height="12.00" fill="#e8628c"/>
<rect x="1889.48" y="92.01" width="4.99" height="12.00" fill="#f09ab8"/>
<rect x="1894.47" y="92.01" width="5.99" height="12.00" fill="#c176b1"/>
<rect x="1900.46" y="92.01" width="160.23" height="12.00" fill="#5f53a6"/>
<rect x="2060.69" y="92.01" width="11.98" height="12.00" fill="#fde7d7"/>
<rect x="2072.67" y="92.01" width="4.99" height="12.00" fill="#f8bc8f"/>
<rect x="2077.66" y="92.01" width="26.46" height="12.00" fill="#d0e7d8"/>
<rect x="2104.11" y="92.01" width="23.69" height="12.00" fill="#a0b4a4"/>
<line x1="1307.00" y1="98.01" x2="1312.00" y2="98.01" stroke="#1a1a1a" stroke-width="2.2"/>
<text x="1299.40" y="104.51" font-size="22.3" text-anchor="end" textLength="70.74" lengthAdjust="spacingAndGlyphs">FX9024</text>
<rect x="1312.60" y="115.82" width="69.24" height="12.00" fill="#44955f"/>
<rect x="1381.84" y="115.82" width="73.38" height="12.00" fill="#397a3b"/>
<rect x="1455.22" y="115.82" width="5.99" height="12.00" fill="#d9e24c"/>
<rect x="1461.21" y="115.82" width="7.49" height="12.00" fill="#f8ea22"/>
<rect x="1468.69" y="115.82" width="2.99" height="12.00" fill="#f8b91d"/>
<rect x="1471.69" y="115.82" width="4.99" height="12.00" fill="#e2a32b"/>
<rect x="1476.68" y="115.82" width="5.99" height="12.00" fill="#f6941f"/>
<rect x="1482.67" y="115.82" width="8.49" height="12.00" fill="#e8628c"/>
<rect x="1491.15" y="115.82" width="98.83" height="12.00" fill="#f09ab8"/>
<rect x="1589.99" y="115.82" width="391.83" height="12.00" fill="#c176b1"/>
<rect x="1981.82" y="115.82" width="46.42" height="12.00" fill="#fde7d7"/>
<rect x="2028.24" y="115.82" width="6.99" height="12.00" fill="#f8bc8f"/>
<rect x="2035.23" y="115.82" width="67.88" height="12.00" fill="#d0e7d8"/>
<rect x="2103.11" y="115.82" width="24.69" height="12.00" fill="#a0b4a4"/>
<line x1="1307.00" y1="121.82" x2="1312.00" y2="121.82" stroke="#1a1a1a" stroke-width="2.2"/>
<text x="1299.40" y="128.32" font-size="22.3" text-anchor="end" textLength="70.74" lengthAdjust="spacingAndGlyphs">FX9022</text>
<rect x="1312.60" y="139.63" width="205.01" height="12.00" fill="#44955f"/>
<rect x="1517.61" y="139.63" width="216.13" height="12.00" fill="#397a3b"/>
<rect x="1733.74" y="139.63" width="35.94" height="12.00" fill="#d9e24c"/>
<rect x="1769.68" y="139.63" width="5.99" height="12.00" fill="#f8ea22"/>
<rect x="1775.67" y="139.63" width="3.99" height="12.00" fill="#fbf3b5"/>
<rect x="1779.66" y="139.63" width="2.50" height="12.00" fill="#f8b91d"/>
<rect x="1782.16" y="139.63" width="9.98" height="12.00" fill="#f6941f"/>
<rect x="1792.14" y="139.63" width="5.99" height="12.00" fill="#e8628c"/>
<rect x="1798.13" y="139.63" width="57.40" height="12.00" fill="#f09ab8"/>
<rect x="1855.54" y="139.63" width="212.14" height="12.00" fill="#c176b1"/>
<rect x="2067.67" y="139.63" width="12.98" height="12.00" fill="#fde7d7"/>
<rect x="2080.65" y="139.63" width="26.95" height="12.00" fill="#d0e7d8"/>
<rect x="2107.61" y="139.63" width="20.19" height="12.00" fill="#a0b4a4"/>
<line x1="1307.00" y1="145.63" x2="1312.00" y2="145.63" stroke="#1a1a1a" stroke-width="2.2"/>
<text x="1299.40" y="152.13" font-size="22.3" text-anchor="end" textLength="70.74" lengthAdjust="spacingAndGlyphs">FX9021</text>
<rect x="1312.60" y="163.44" width="29.31" height="12.00" fill="#1a6596"/>
<rect x="1341.91" y="163.44" width="44.42" height="12.00" fill="#9ad3f1"/>
<rect x="1386.33" y="163.44" width="54.91" height="12.00" fill="#6fcacb"/>
<rect x="1441.24" y="163.44" width="95.34" height="12.00" fill="#5aade0"/>
<rect x="1536.58" y="163.44" width="2.50" height="12.00" fill="#397a3b"/>
<rect x="1539.07" y="163.44" width="2.00" height="12.00" fill="#d9e24c"/>
<rect x="1541.07" y="163.44" width="1.50" height="12.00" fill="#5f53a6"/>
<rect x="1542.57" y="163.44" width="38.43" height="12.00" fill="#8473b6"/>
<rect x="1581.00" y="163.44" width="33.94" height="12.00" fill="#d2d2d4"/>
<rect x="1614.94" y="163.44" width="2.50" height="12.00" fill="#f8b91d"/>
<rect x="1617.44" y="163.44" width="8.49" height="12.00" fill="#e2a32b"/>
<rect x="1625.93" y="163.44" width="269.54" height="12.00" fill="#ef6324"/>
<rect x="1895.47" y="163.44" width="72.88" height="12.00" fill="#f6941f"/>
<rect x="1968.34" y="163.44" width="4.99" height="12.00" fill="#e97d62"/>
<rect x="1973.33" y="163.44" width="10.98" height="12.00" fill="#e8628c"/>
<rect x="1984.32" y="163.44" width="8.49" height="12.00" fill="#f09ab8"/>
<rect x="1992.80" y="163.44" width="12.48" height="12.00" fill="#c176b1"/>
<rect x="2005.28" y="163.44" width="13.98" height="12.00" fill="#5f53a6"/>
<rect x="2019.26" y="163.44" width="8.49" height="12.00" fill="#fde7d7"/>
<rect x="2027.74" y="163.44" width="57.40" height="12.00" fill="#d0e7d8"/>
<rect x="2085.14" y="163.44" width="42.66" height="12.00" fill="#a0b4a4"/>
<line x1="1307.00" y1="169.44" x2="1312.00" y2="169.44" stroke="#1a1a1a" stroke-width="2.2"/>
<text x="1299.40" y="175.94" font-size="22.3" text-anchor="end" textLength="70.74" lengthAdjust="spacingAndGlyphs">FX9020</text>
<rect x="1312.60" y="187.25" width="3.85" height="12.00" fill="#9ad3f1"/>
<rect x="1316.45" y="187.25" width="2.50" height="12.00" fill="#397a3b"/>
<rect x="1318.95" y="187.25" width="7.99" height="12.00" fill="#b5b835"/>
<rect x="1326.93" y="187.25" width="3.49" height="12.00" fill="#f8ea22"/>
<rect x="1330.43" y="187.25" width="2.50" height="12.00" fill="#8473b6"/>
<rect x="1332.92" y="187.25" width="242.09" height="12.00" fill="#d2d2d4"/>
<rect x="1575.01" y="187.25" width="3.49" height="12.00" fill="#e2a32b"/>
<rect x="1578.51" y="187.25" width="319.46" height="12.00" fill="#ef6324"/>
<rect x="1897.96" y="187.25" width="153.74" height="12.00" fill="#f6941f"/>
<rect x="2051.70" y="187.25" width="2.50" height="12.00" fill="#e8628c"/>
<rect x="2054.20" y="187.25" width="6.49" height="12.00" fill="#f09ab8"/>
<rect x="2060.69" y="187.25" width="14.48" height="12.00" fill="#c176b1"/>
<rect x="2075.16" y="187.25" width="6.49" height="12.00" fill="#fde7d7"/>
<rect x="2081.65" y="187.25" width="29.95" height="12.00" fill="#d0e7d8"/>
<rect x="2111.60" y="187.25" width="16.20" height="12.00" fill="#a0b4a4"/>
<line x1="1307.00" y1="193.25" x2="1312.00" y2="193.25" stroke="#1a1a1a" stroke-width="2.2"/>
<text x="1299.40" y="199.75" font-size="22.3" text-anchor="end" textLength="70.74" lengthAdjust="spacingAndGlyphs">FX9018</text>
<rect x="1312.60" y="211.06" width="30.31" height="12.00" fill="#f8ea22"/>
<rect x="1920.92" y="211.06" width="4.99" height="12.00" fill="#dddddf"/>
<rect x="1925.92" y="211.06" width="2.50" height="12.00" fill="#c176b1"/>
<rect x="1928.41" y="211.06" width="3.49" height="12.00" fill="#5f53a6"/>
<rect x="1931.91" y="211.06" width="144.75" height="12.00" fill="#d0e7d8"/>
<rect x="2076.66" y="211.06" width="51.14" height="12.00" fill="#a0b4a4"/>
<line x1="1307.00" y1="217.06" x2="1312.00" y2="217.06" stroke="#1a1a1a" stroke-width="2.2"/>
<text x="1299.40" y="223.56" font-size="22.3" text-anchor="end" textLength="70.74" lengthAdjust="spacingAndGlyphs">FX9016</text>
<rect x="1312.60" y="234.87" width="12.84" height="12.00" fill="#5aade0"/>
<rect x="1325.44" y="234.87" width="15.97" height="12.00" fill="#94c67e"/>
<rect x="1341.41" y="234.87" width="16.47" height="12.00" fill="#397a3b"/>
<rect x="1357.88" y="234.87" width="7.49" height="12.00" fill="#b5b835"/>
<rect x="1365.37" y="234.87" width="12.48" height="12.00" fill="#fbf3b5"/>
<rect x="1377.85" y="234.87" width="19.97" height="12.00" fill="#f8ea22"/>
<rect x="1397.81" y="234.87" width="33.94" height="12.00" fill="#8473b6"/>
<rect x="1431.76" y="234.87" width="50.91" height="12.00" fill="#d2d2d4"/>
<rect x="1482.67" y="234.87" width="3.49" height="12.00" fill="#f8b91d"/>
<rect x="1486.16" y="234.87" width="3.99" height="12.00" fill="#e2a32b"/>
<rect x="1490.16" y="234.87" width="10.98" height="12.00" fill="#ef6324"/>
<rect x="1501.14" y="234.87" width="17.47" height="12.00" fill="#f6941f"/>
<rect x="1518.61" y="234.87" width="17.47" height="12.00" fill="#e8628c"/>
<rect x="1536.08" y="234.87" width="11.48" height="12.00" fill="#f09ab8"/>
<rect x="1547.56" y="234.87" width="33.44" height="12.00" fill="#c176b1"/>
<rect x="1581.00" y="234.87" width="68.88" height="12.00" fill="#fde7d7"/>
<rect x="1649.88" y="234.87" width="52.41" height="12.00" fill="#f8bc8f"/>
<rect x="1702.30" y="234.87" width="274.53" height="12.00" fill="#d0e7d8"/>
<rect x="1976.83" y="234.87" width="150.97" height="12.00" fill="#a0b4a4"/>
<line x1="1307.00" y1="240.87" x2="1312.00" y2="240.87" stroke="#1a1a1a" stroke-width="2.2"/>
<text x="1299.40" y="247.37" font-size="22.3" text-anchor="end" textLength="70.74" lengthAdjust="spacingAndGlyphs">FX9014</text>
<rect x="1312.60" y="258.68" width="12.84" height="12.00" fill="#397a3b"/>
<rect x="1325.44" y="258.68" width="2.50" height="12.00" fill="#b5b835"/>
<rect x="1327.93" y="258.68" width="3.49" height="12.00" fill="#fbf3b5"/>
<rect x="1331.43" y="258.68" width="12.98" height="12.00" fill="#f8ea22"/>
<rect x="1344.40" y="258.68" width="17.47" height="12.00" fill="#8473b6"/>
<rect x="1361.87" y="258.68" width="141.76" height="12.00" fill="#d2d2d4"/>
<rect x="1503.63" y="258.68" width="6.49" height="12.00" fill="#ef6324"/>
<rect x="1510.12" y="258.68" width="3.49" height="12.00" fill="#e2a32b"/>
<rect x="1513.62" y="258.68" width="2.99" height="12.00" fill="#e97d62"/>
<rect x="1516.61" y="258.68" width="7.49" height="12.00" fill="#e8628c"/>
<rect x="1524.10" y="258.68" width="46.92" height="12.00" fill="#f09ab8"/>
<rect x="1571.02" y="258.68" width="411.80" height="12.00" fill="#c176b1"/>
<rect x="1982.82" y="258.68" width="27.95" height="12.00" fill="#fde7d7"/>
<rect x="2010.77" y="258.68" width="3.49" height="12.00" fill="#f8bc8f"/>
<rect x="2014.27" y="258.68" width="53.41" height="12.00" fill="#d0e7d8"/>
<rect x="2067.67" y="258.68" width="60.13" height="12.00" fill="#a0b4a4"/>
<line x1="1307.00" y1="264.68" x2="1312.00" y2="264.68" stroke="#1a1a1a" stroke-width="2.2"/>
<text x="1299.40" y="271.18" font-size="22.3" text-anchor="end" textLength="70.74" lengthAdjust="spacingAndGlyphs">FX9013</text>
<rect x="1312.60" y="282.49" width="485.53" height="12.00" fill="#44955f"/>
<rect x="1798.13" y="282.49" width="9.98" height="12.00" fill="#397a3b"/>
<rect x="1808.12" y="282.49" width="5.49" height="12.00" fill="#f8ea22"/>
<rect x="1813.61" y="282.49" width="2.50" height="12.00" fill="#fbf3b5"/>
<rect x="1816.10" y="282.49" width="2.50" height="12.00" fill="#e2a32b"/>
<rect x="1818.60" y="282.49" width="2.50" height="12.00" fill="#ef6324"/>
<rect x="1821.09" y="282.49" width="2.00" height="12.00" fill="#e8628c"/>
<rect x="1823.09" y="282.49" width="8.98" height="12.00" fill="#c176b1"/>
<rect x="1832.08" y="282.49" width="13.98" height="12.00" fill="#fde7d7"/>
<rect x="1846.05" y="282.49" width="4.99" height="12.00" fill="#f8bc8f"/>
<rect x="1851.04" y="282.49" width="169.71" height="12.00" fill="#d0e7d8"/>
<rect x="2020.75" y="282.49" width="107.05" height="12.00" fill="#a0b4a4"/>
<line x1="1307.00" y1="288.49" x2="1312.00" y2="288.49" stroke="#1a1a1a" stroke-width="2.2"/>
<text x="1299.40" y="294.99" font-size="22.3" text-anchor="end" textLength="70.74" lengthAdjust="spacingAndGlyphs">FX9012</text>
<rect x="1312.60" y="306.30" width="7.84" height="12.00" fill="#44955f"/>
<rect x="1320.44" y="306.30" width="63.89" height="12.00" fill="#397a3b"/>
<rect x="1384.34" y="306.30" width="14.48" height="12.00" fill="#d9e24c"/>
<rect x="1398.81" y="306.30" width="10.48" height="12.00" fill="#f8ea22"/>
<rect x="1409.29" y="306.30" width="279.52" height="12.00" fill="#8473b6"/>
<rect x="1688.82" y="306.30" width="4.99" height="12.00" fill="#f8b91d"/>
<rect x="1693.81" y="306.30" width="10.98" height="12.00" fill="#f6941f"/>
<rect x="1704.79" y="306.30" width="3.99" height="12.00" fill="#e8628c"/>
<rect x="1708.78" y="306.30" width="335.43" height="12.00" fill="#f09ab8"/>
<rect x="2044.21" y="306.30" width="34.94" height="12.00" fill="#c176b1"/>
<rect x="2079.16" y="306.30" width="16.47" height="12.00" fill="#fde7d7"/>
<rect x="2095.63" y="306.30" width="3.49" height="12.00" fill="#f8bc8f"/>
<rect x="2099.12" y="306.30" width="13.98" height="12.00" fill="#d0e7d8"/>
<rect x="2113.10" y="306.30" width="14.70" height="12.00" fill="#a0b4a4"/>
<line x1="1307.00" y1="312.30" x2="1312.00" y2="312.30" stroke="#1a1a1a" stroke-width="2.2"/>
<text x="1299.40" y="318.80" font-size="22.3" text-anchor="end" textLength="69.24" lengthAdjust="spacingAndGlyphs">FX9011</text>
<rect x="1312.60" y="330.11" width="7.84" height="12.00" fill="#f8ea22"/>
<rect x="1320.44" y="330.11" width="620.45" height="12.00" fill="#8473b6"/>
<rect x="1940.89" y="330.11" width="7.49" height="12.00" fill="#dddddf"/>
<rect x="1948.38" y="330.11" width="7.49" height="12.00" fill="#ef6324"/>
<rect x="1955.86" y="330.11" width="2.50" height="12.00" fill="#f6941f"/>
<rect x="1958.36" y="330.11" width="76.87" height="12.00" fill="#d0e7d8"/>
<rect x="2035.23" y="330.11" width="92.57" height="12.00" fill="#a0b4a4"/>
<line x1="1307.00" y1="336.11" x2="1312.00" y2="336.11" stroke="#1a1a1a" stroke-width="2.2"/>
<text x="1299.40" y="342.61" font-size="22.3" text-anchor="end" textLength="70.74" lengthAdjust="spacingAndGlyphs">FX9010</text>
<rect x="1312.60" y="353.92" width="6.35" height="12.00" fill="#397a3b"/>
<rect x="1318.95" y="353.92" width="35.44" height="12.00" fill="#d2d2d4"/>
<rect x="1354.39" y="353.92" width="2.00" height="12.00" fill="#f8b91d"/>
<rect x="1356.38" y="353.92" width="7.99" height="12.00" fill="#e2a32b"/>
<rect x="1364.37" y="353.92" width="669.86" height="12.00" fill="#ef6324"/>
<rect x="2034.23" y="353.92" width="2.50" height="12.00" fill="#e8628c"/>
<rect x="2036.73" y="353.92" width="2.50" height="12.00" fill="#c176b1"/>
<rect x="2039.22" y="353.92" width="14.97" height="12.00" fill="#fde7d7"/>
<rect x="2054.20" y="353.92" width="33.94" height="12.00" fill="#d0e7d8"/>
<rect x="2088.14" y="353.92" width="39.66" height="12.00" fill="#a0b4a4"/>
<line x1="1307.00" y1="359.92" x2="1312.00" y2="359.92" stroke="#1a1a1a" stroke-width="2.2"/>
<text x="1299.40" y="366.42" font-size="22.3" text-anchor="end" textLength="70.74" lengthAdjust="spacingAndGlyphs">FX9009</text>
<rect x="1312.60" y="377.73" width="9.34" height="12.00" fill="#44955f"/>
<rect x="1321.94" y="377.73" width="405.31" height="12.00" fill="#397a3b"/>
<rect x="1727.25" y="377.73" width="124.79" height="12.00" fill="#d9e24c"/>
<rect x="1852.04" y="377.73" width="8.49" height="12.00" fill="#f8ea22"/>
<rect x="1860.53" y="377.73" width="8.98" height="12.00" fill="#8473b6"/>
<rect x="1869.51" y="377.73" width="2.50" height="12.00" fill="#f8b91d"/>
<rect x="1872.01" y="377.73" width="6.49" height="12.00" fill="#f6941f"/>
<rect x="1878.50" y="377.73" width="8.49" height="12.00" fill="#e8628c"/>
<rect x="1886.98" y="377.73" width="162.22" height="12.00" fill="#f09ab8"/>
<rect x="2049.21" y="377.73" width="44.92" height="12.00" fill="#c176b1"/>
<rect x="2094.13" y="377.73" width="10.98" height="12.00" fill="#fde7d7"/>
<rect x="2105.11" y="377.73" width="11.48" height="12.00" fill="#d0e7d8"/>
<rect x="2116.59" y="377.73" width="11.21" height="12.00" fill="#a0b4a4"/>
<line x1="1307.00" y1="383.73" x2="1312.00" y2="383.73" stroke="#1a1a1a" stroke-width="2.2"/>
<text x="1299.40" y="390.23" font-size="22.3" text-anchor="end" textLength="70.74" lengthAdjust="spacingAndGlyphs">FX9008</text>
<rect x="1312.60" y="401.54" width="11.34" height="12.00" fill="#397a3b"/>
<rect x="1323.94" y="401.54" width="2.50" height="12.00" fill="#f8ea22"/>
<rect x="1326.43" y="401.54" width="2.99" height="12.00" fill="#8473b6"/>
<rect x="1329.43" y="401.54" width="122.29" height="12.00" fill="#d2d2d4"/>
<rect x="1451.72" y="401.54" width="252.07" height="12.00" fill="#ef6324"/>
<rect x="1703.79" y="401.54" width="4.99" height="12.00" fill="#f09ab8"/>
<rect x="1708.78" y="401.54" width="6.99" height="12.00" fill="#c176b1"/>
<rect x="1715.77" y="401.54" width="3.99" height="12.00" fill="#fde7d7"/>
<rect x="1719.77" y="401.54" width="300.49" height="12.00" fill="#d0e7d8"/>
<rect x="2020.26" y="401.54" width="107.54" height="12.00" fill="#a0b4a4"/>
<line x1="1307.00" y1="407.54" x2="1312.00" y2="407.54" stroke="#1a1a1a" stroke-width="2.2"/>
<text x="1299.40" y="414.04" font-size="22.3" text-anchor="end" textLength="70.74" lengthAdjust="spacingAndGlyphs">FX9007</text>
<rect x="1312.60" y="425.35" width="11.34" height="12.00" fill="#9ad3f1"/>
<rect x="1323.94" y="425.35" width="3.99" height="12.00" fill="#6fcacb"/>
<rect x="1327.93" y="425.35" width="88.35" height="12.00" fill="#5aade0"/>
<rect x="1416.28" y="425.35" width="128.78" height="12.00" fill="#94c67e"/>
<rect x="1545.06" y="425.35" width="1.50" height="12.00" fill="#44955f"/>
<rect x="1546.56" y="425.35" width="39.43" height="12.00" fill="#b5b835"/>
<rect x="1585.99" y="425.35" width="7.49" height="12.00" fill="#f8ea22"/>
<rect x="1593.48" y="425.35" width="2.50" height="12.00" fill="#fbf3b5"/>
<rect x="1595.98" y="425.35" width="6.49" height="12.00" fill="#e2a32b"/>
<rect x="1602.47" y="425.35" width="2.50" height="12.00" fill="#ef6324"/>
<rect x="1604.96" y="425.35" width="117.30" height="12.00" fill="#f6941f"/>
<rect x="1722.26" y="425.35" width="77.37" height="12.00" fill="#e97d62"/>
<rect x="1799.63" y="425.35" width="268.04" height="12.00" fill="#e8628c"/>
<rect x="2067.67" y="425.35" width="14.97" height="12.00" fill="#f09ab8"/>
<rect x="2082.65" y="425.35" width="3.99" height="12.00" fill="#c176b1"/>
<rect x="2086.64" y="425.35" width="3.49" height="12.00" fill="#5f53a6"/>
<rect x="2090.14" y="425.35" width="6.49" height="12.00" fill="#fde7d7"/>
<rect x="2096.63" y="425.35" width="9.98" height="12.00" fill="#d0e7d8"/>
<rect x="2106.61" y="425.35" width="21.19" height="12.00" fill="#a0b4a4"/>
<line x1="1307.00" y1="431.35" x2="1312.00" y2="431.35" stroke="#1a1a1a" stroke-width="2.2"/>
<text x="1299.40" y="437.85" font-size="22.3" text-anchor="end" textLength="70.74" lengthAdjust="spacingAndGlyphs">FX9006</text>
<rect x="1312.60" y="449.16" width="126.64" height="12.00" fill="#9ad3f1"/>
<rect x="1439.24" y="449.16" width="57.40" height="12.00" fill="#6fcacb"/>
<rect x="1496.65" y="449.16" width="47.42" height="12.00" fill="#5aade0"/>
<rect x="1544.06" y="449.16" width="5.99" height="12.00" fill="#fbf3b5"/>
<rect x="1550.05" y="449.16" width="13.98" height="12.00" fill="#f8ea22"/>
<rect x="1564.03" y="449.16" width="2.50" height="12.00" fill="#f8b91d"/>
<rect x="1566.53" y="449.16" width="4.49" height="12.00" fill="#ef6324"/>
<rect x="1571.02" y="449.16" width="278.53" height="12.00" fill="#f6941f"/>
<rect x="1849.55" y="449.16" width="63.89" height="12.00" fill="#e97d62"/>
<rect x="1913.44" y="449.16" width="9.48" height="12.00" fill="#e8628c"/>
<rect x="1922.92" y="449.16" width="7.99" height="12.00" fill="#f09ab8"/>
<rect x="1930.91" y="449.16" width="4.99" height="12.00" fill="#c176b1"/>
<rect x="1935.90" y="449.16" width="153.24" height="12.00" fill="#5f53a6"/>
<rect x="2089.14" y="449.16" width="4.99" height="12.00" fill="#fde7d7"/>
<rect x="2094.13" y="449.16" width="5.99" height="12.00" fill="#f8bc8f"/>
<rect x="2100.12" y="449.16" width="7.49" height="12.00" fill="#d0e7d8"/>
<rect x="2107.61" y="449.16" width="20.19" height="12.00" fill="#a0b4a4"/>
<line x1="1307.00" y1="455.16" x2="1312.00" y2="455.16" stroke="#1a1a1a" stroke-width="2.2"/>
<text x="1299.40" y="461.66" font-size="22.3" text-anchor="end" textLength="70.74" lengthAdjust="spacingAndGlyphs">FX9005</text>
<rect x="1312.60" y="472.97" width="2.85" height="12.00" fill="#1a6596"/>
<rect x="1315.45" y="472.97" width="62.39" height="12.00" fill="#5f9ec9"/>
<rect x="1377.85" y="472.97" width="20.96" height="12.00" fill="#9ad3f1"/>
<rect x="1398.81" y="472.97" width="27.45" height="12.00" fill="#6fcacb"/>
<rect x="1426.26" y="472.97" width="7.99" height="12.00" fill="#5aade0"/>
<rect x="1434.25" y="472.97" width="2.00" height="12.00" fill="#397a3b"/>
<rect x="1436.25" y="472.97" width="2.99" height="12.00" fill="#fbf3b5"/>
<rect x="1439.24" y="472.97" width="3.49" height="12.00" fill="#f8ea22"/>
<rect x="1442.74" y="472.97" width="12.48" height="12.00" fill="#d2d2d4"/>
<rect x="1455.22" y="472.97" width="4.99" height="12.00" fill="#a69d94"/>
<rect x="1460.21" y="472.97" width="7.49" height="12.00" fill="#f8b91d"/>
<rect x="1467.69" y="472.97" width="23.96" height="12.00" fill="#e2a32b"/>
<rect x="1491.65" y="472.97" width="19.97" height="12.00" fill="#ef6324"/>
<rect x="1511.62" y="472.97" width="353.90" height="12.00" fill="#f6941f"/>
<rect x="1865.52" y="472.97" width="25.46" height="12.00" fill="#e97d62"/>
<rect x="1890.97" y="472.97" width="5.99" height="12.00" fill="#f09ab8"/>
<rect x="1896.96" y="472.97" width="3.49" height="12.00" fill="#c176b1"/>
<rect x="1900.46" y="472.97" width="3.99" height="12.00" fill="#f09ab8"/>
<rect x="1904.45" y="472.97" width="8.98" height="12.00" fill="#7f4b40"/>
<rect x="1913.44" y="472.97" width="44.42" height="12.00" fill="#5f53a6"/>
<rect x="1957.86" y="472.97" width="29.95" height="12.00" fill="#fde7d7"/>
<rect x="1987.81" y="472.97" width="11.48" height="12.00" fill="#f8bc8f"/>
<rect x="1999.29" y="472.97" width="62.39" height="12.00" fill="#d0e7d8"/>
<rect x="2061.68" y="472.97" width="66.12" height="12.00" fill="#a0b4a4"/>
<line x1="1307.00" y1="478.97" x2="1312.00" y2="478.97" stroke="#1a1a1a" stroke-width="2.2"/>
<text x="1299.40" y="485.47" font-size="22.3" text-anchor="end" textLength="70.74" lengthAdjust="spacingAndGlyphs">FX1236</text>
<rect x="1312.60" y="496.78" width="12.84" height="12.00" fill="#9ad3f1"/>
<rect x="1325.44" y="496.78" width="142.26" height="12.00" fill="#5aade0"/>
<rect x="1467.69" y="496.78" width="391.83" height="12.00" fill="#94c67e"/>
<rect x="1859.53" y="496.78" width="7.49" height="12.00" fill="#397a3b"/>
<rect x="1867.02" y="496.78" width="2.50" height="12.00" fill="#b5b835"/>
<rect x="1869.51" y="496.78" width="3.49" height="12.00" fill="#f8ea22"/>
<rect x="1873.01" y="496.78" width="2.50" height="12.00" fill="#fbf3b5"/>
<rect x="1875.50" y="496.78" width="2.99" height="12.00" fill="#ef6324"/>
<rect x="1878.50" y="496.78" width="40.93" height="12.00" fill="#f6941f"/>
<rect x="1919.43" y="496.78" width="20.96" height="12.00" fill="#e97d62"/>
<rect x="1940.39" y="496.78" width="142.26" height="12.00" fill="#e8628c"/>
<rect x="2082.65" y="496.78" width="13.98" height="12.00" fill="#f09ab8"/>
<rect x="2096.63" y="496.78" width="4.99" height="12.00" fill="#c176b1"/>
<rect x="2101.62" y="496.78" width="4.99" height="12.00" fill="#fde7d7"/>
<rect x="2106.61" y="496.78" width="8.49" height="12.00" fill="#d0e7d8"/>
<rect x="2115.09" y="496.78" width="12.71" height="12.00" fill="#a0b4a4"/>
<line x1="1307.00" y1="502.78" x2="1312.00" y2="502.78" stroke="#1a1a1a" stroke-width="2.2"/>
<text x="1299.40" y="509.28" font-size="22.3" text-anchor="end" textLength="70.74" lengthAdjust="spacingAndGlyphs">FX1233</text>
<rect x="1312.60" y="520.59" width="4.35" height="12.00" fill="#1a6596"/>
<rect x="1316.95" y="520.59" width="24.46" height="12.00" fill="#9ad3f1"/>
<rect x="1341.41" y="520.59" width="2.99" height="12.00" fill="#6fcacb"/>
<rect x="1344.40" y="520.59" width="19.97" height="12.00" fill="#5aade0"/>
<rect x="1364.37" y="520.59" width="20.96" height="12.00" fill="#44955f"/>
<rect x="1385.33" y="520.59" width="102.33" height="12.00" fill="#397a3b"/>
<rect x="1487.66" y="520.59" width="19.97" height="12.00" fill="#b5b835"/>
<rect x="1507.63" y="520.59" width="105.82" height="12.00" fill="#d9e24c"/>
<rect x="1613.45" y="520.59" width="21.46" height="12.00" fill="#f8ea22"/>
<rect x="1634.91" y="520.59" width="94.84" height="12.00" fill="#d2d2d4"/>
<rect x="1729.75" y="520.59" width="4.99" height="12.00" fill="#e2a32b"/>
<rect x="1734.74" y="520.59" width="9.98" height="12.00" fill="#ef6324"/>
<rect x="1744.72" y="520.59" width="10.98" height="12.00" fill="#f6941f"/>
<rect x="1755.70" y="520.59" width="4.99" height="12.00" fill="#e8628c"/>
<rect x="1760.70" y="520.59" width="23.96" height="12.00" fill="#f09ab8"/>
<rect x="1784.66" y="520.59" width="79.86" height="12.00" fill="#c176b1"/>
<rect x="1864.52" y="520.59" width="14.97" height="12.00" fill="#fde7d7"/>
<rect x="1879.49" y="520.59" width="11.48" height="12.00" fill="#f8bc8f"/>
<rect x="1890.97" y="520.59" width="159.23" height="12.00" fill="#d0e7d8"/>
<rect x="2050.20" y="520.59" width="77.60" height="12.00" fill="#a0b4a4"/>
<line x1="1307.00" y1="526.59" x2="1312.00" y2="526.59" stroke="#1a1a1a" stroke-width="2.2"/>
<text x="1299.40" y="533.09" font-size="22.3" text-anchor="end" textLength="70.74" lengthAdjust="spacingAndGlyphs">FX1223</text>
<rect x="1312.60" y="544.40" width="18.83" height="12.00" fill="#f8ea22"/>
<rect x="1331.43" y="544.40" width="764.20" height="12.00" fill="#8473b6"/>
<rect x="2095.63" y="544.40" width="14.97" height="12.00" fill="#5f53a6"/>
<rect x="2110.60" y="544.40" width="9.48" height="12.00" fill="#d0e7d8"/>
<rect x="2120.09" y="544.40" width="7.71" height="12.00" fill="#a0b4a4"/>
<line x1="1307.00" y1="550.40" x2="1312.00" y2="550.40" stroke="#1a1a1a" stroke-width="2.2"/>
<text x="1299.40" y="556.90" font-size="22.3" text-anchor="end" textLength="70.74" lengthAdjust="spacingAndGlyphs">FX1215</text>
<rect x="1312.60" y="568.21" width="4.35" height="12.00" fill="#397a3b"/>
<rect x="1316.95" y="568.21" width="2.50" height="12.00" fill="#d9e24c"/>
<rect x="1319.45" y="568.21" width="24.46" height="12.00" fill="#8473b6"/>
<rect x="1343.90" y="568.21" width="11.48" height="12.00" fill="#d2d2d4"/>
<rect x="1355.39" y="568.21" width="2.50" height="12.00" fill="#e2a32b"/>
<rect x="1357.88" y="568.21" width="666.37" height="12.00" fill="#ef6324"/>
<rect x="2024.25" y="568.21" width="10.98" height="12.00" fill="#f6941f"/>
<rect x="2035.23" y="568.21" width="2.99" height="12.00" fill="#c176b1"/>
<rect x="2038.22" y="568.21" width="2.50" height="12.00" fill="#5f53a6"/>
<rect x="2040.72" y="568.21" width="4.49" height="12.00" fill="#fde7d7"/>
<rect x="2045.21" y="568.21" width="3.99" height="12.00" fill="#f8bc8f"/>
<rect x="2049.21" y="568.21" width="39.93" height="12.00" fill="#d0e7d8"/>
<rect x="2089.14" y="568.21" width="38.66" height="12.00" fill="#a0b4a4"/>
<line x1="1307.00" y1="574.21" x2="1312.00" y2="574.21" stroke="#1a1a1a" stroke-width="2.2"/>
<text x="1299.40" y="580.71" font-size="22.3" text-anchor="end" textLength="70.74" lengthAdjust="spacingAndGlyphs">FX1205</text>
<rect x="1312.60" y="592.02" width="13.83" height="12.00" fill="#f8ea22"/>
<rect x="1326.43" y="592.02" width="2.50" height="12.00" fill="#8473b6"/>
<rect x="1328.93" y="592.02" width="359.89" height="12.00" fill="#d2d2d4"/>
<rect x="1688.82" y="592.02" width="2.50" height="12.00" fill="#e2a32b"/>
<rect x="1691.31" y="592.02" width="2.50" height="12.00" fill="#f09ab8"/>
<rect x="1693.81" y="592.02" width="154.24" height="12.00" fill="#c176b1"/>
<rect x="1848.05" y="592.02" width="7.49" height="12.00" fill="#fde7d7"/>
<rect x="1855.54" y="592.02" width="2.50" height="12.00" fill="#f8bc8f"/>
<rect x="1858.03" y="592.02" width="172.21" height="12.00" fill="#d0e7d8"/>
<rect x="2030.24" y="592.02" width="97.56" height="12.00" fill="#a0b4a4"/>
<line x1="1307.00" y1="598.02" x2="1312.00" y2="598.02" stroke="#1a1a1a" stroke-width="2.2"/>
<text x="1299.40" y="604.52" font-size="22.3" text-anchor="end" textLength="69.24" lengthAdjust="spacingAndGlyphs">FX1191</text>
<rect x="1312.60" y="615.83" width="90.20" height="12.00" fill="#5aade0"/>
<rect x="1402.80" y="615.83" width="258.06" height="12.00" fill="#94c67e"/>
<rect x="1660.87" y="615.83" width="1.50" height="12.00" fill="#44955f"/>
<rect x="1662.36" y="615.83" width="47.42" height="12.00" fill="#b5b835"/>
<rect x="1709.78" y="615.83" width="4.99" height="12.00" fill="#f8ea22"/>
<rect x="1714.77" y="615.83" width="4.99" height="12.00" fill="#fbf3b5"/>
<rect x="1719.77" y="615.83" width="19.97" height="12.00" fill="#f6941f"/>
<rect x="1739.73" y="615.83" width="24.96" height="12.00" fill="#e97d62"/>
<rect x="1764.69" y="615.83" width="296.00" height="12.00" fill="#e8628c"/>
<rect x="2060.69" y="615.83" width="13.48" height="12.00" fill="#f09ab8"/>
<rect x="2074.16" y="615.83" width="9.98" height="12.00" fill="#c176b1"/>
<rect x="2084.15" y="615.83" width="3.99" height="12.00" fill="#fde7d7"/>
<rect x="2088.14" y="615.83" width="14.97" height="12.00" fill="#d0e7d8"/>
<rect x="2103.11" y="615.83" width="24.69" height="12.00" fill="#a0b4a4"/>
<line x1="1307.00" y1="621.83" x2="1312.00" y2="621.83" stroke="#1a1a1a" stroke-width="2.2"/>
<text x="1299.40" y="628.33" font-size="22.3" text-anchor="end" textLength="69.24" lengthAdjust="spacingAndGlyphs">FX1170</text>
<rect x="1312.60" y="639.64" width="10.34" height="12.00" fill="#9ad3f1"/>
<rect x="1322.94" y="639.64" width="4.99" height="12.00" fill="#6fcacb"/>
<rect x="1327.93" y="639.64" width="125.79" height="12.00" fill="#5aade0"/>
<rect x="1453.72" y="639.64" width="305.98" height="12.00" fill="#94c67e"/>
<rect x="1759.70" y="639.64" width="1.50" height="12.00" fill="#397a3b"/>
<rect x="1761.20" y="639.64" width="80.86" height="12.00" fill="#b5b835"/>
<rect x="1842.06" y="639.64" width="2.50" height="12.00" fill="#fbf3b5"/>
<rect x="1844.55" y="639.64" width="5.99" height="12.00" fill="#f8ea22"/>
<rect x="1850.54" y="639.64" width="41.43" height="12.00" fill="#8473b6"/>
<rect x="1891.97" y="639.64" width="3.49" height="12.00" fill="#f8b91d"/>
<rect x="1895.47" y="639.64" width="42.43" height="12.00" fill="#f6941f"/>
<rect x="1937.90" y="639.64" width="27.45" height="12.00" fill="#e97d62"/>
<rect x="1965.35" y="639.64" width="100.33" height="12.00" fill="#e8628c"/>
<rect x="2065.68" y="639.64" width="3.49" height="12.00" fill="#f09ab8"/>
<rect x="2069.17" y="639.64" width="4.99" height="12.00" fill="#5f53a6"/>
<rect x="2074.16" y="639.64" width="2.50" height="12.00" fill="#fde7d7"/>
<rect x="2076.66" y="639.64" width="13.48" height="12.00" fill="#d0e7d8"/>
<rect x="2090.14" y="639.64" width="37.66" height="12.00" fill="#a0b4a4"/>
<line x1="1307.00" y1="645.64" x2="1312.00" y2="645.64" stroke="#1a1a1a" stroke-width="2.2"/>
<text x="1299.40" y="652.14" font-size="22.3" text-anchor="end" textLength="69.24" lengthAdjust="spacingAndGlyphs">FX1163</text>
<rect x="1312.60" y="663.45" width="116.16" height="12.00" fill="#1a6596"/>
<rect x="1428.76" y="663.45" width="327.44" height="12.00" fill="#9ad3f1"/>
<rect x="1756.20" y="663.45" width="89.85" height="12.00" fill="#6fcacb"/>
<rect x="1846.05" y="663.45" width="65.89" height="12.00" fill="#5aade0"/>
<rect x="1911.94" y="663.45" width="2.50" height="12.00" fill="#44955f"/>
<rect x="1914.44" y="663.45" width="3.49" height="12.00" fill="#b5b835"/>
<rect x="1917.93" y="663.45" width="7.49" height="12.00" fill="#f8ea22"/>
<rect x="1925.42" y="663.45" width="6.49" height="12.00" fill="#8473b6"/>
<rect x="1931.91" y="663.45" width="3.99" height="12.00" fill="#f8b91d"/>
<rect x="1935.90" y="663.45" width="15.97" height="12.00" fill="#ef6324"/>
<rect x="1951.87" y="663.45" width="75.87" height="12.00" fill="#f6941f"/>
<rect x="2027.74" y="663.45" width="9.98" height="12.00" fill="#e97d62"/>
<rect x="2037.73" y="663.45" width="9.98" height="12.00" fill="#e8628c"/>
<rect x="2047.71" y="663.45" width="3.99" height="12.00" fill="#c176b1"/>
<rect x="2051.70" y="663.45" width="18.47" height="12.00" fill="#5f53a6"/>
<rect x="2070.17" y="663.45" width="8.98" height="12.00" fill="#fde7d7"/>
<rect x="2079.16" y="663.45" width="2.50" height="12.00" fill="#f8bc8f"/>
<rect x="2081.65" y="663.45" width="18.97" height="12.00" fill="#d0e7d8"/>
<rect x="2100.62" y="663.45" width="27.18" height="12.00" fill="#a0b4a4"/>
<line x1="1307.00" y1="669.45" x2="1312.00" y2="669.45" stroke="#1a1a1a" stroke-width="2.2"/>
<text x="1299.40" y="675.95" font-size="22.3" text-anchor="end" textLength="69.24" lengthAdjust="spacingAndGlyphs">FX1160</text>
<rect x="1312.60" y="687.26" width="26.81" height="12.00" fill="#1a6596"/>
<rect x="1339.41" y="687.26" width="74.37" height="12.00" fill="#9ad3f1"/>
<rect x="1413.79" y="687.26" width="12.48" height="12.00" fill="#6fcacb"/>
<rect x="1426.26" y="687.26" width="34.94" height="12.00" fill="#5aade0"/>
<rect x="1461.21" y="687.26" width="5.49" height="12.00" fill="#94c67e"/>
<rect x="1466.70" y="687.26" width="10.98" height="12.00" fill="#397a3b"/>
<rect x="1477.68" y="687.26" width="1.50" height="12.00" fill="#d9e24c"/>
<rect x="1479.18" y="687.26" width="44.42" height="12.00" fill="#d2d2d4"/>
<rect x="1523.60" y="687.26" width="2.50" height="12.00" fill="#e2a32b"/>
<rect x="1526.10" y="687.26" width="239.59" height="12.00" fill="#ef6324"/>
<rect x="1765.69" y="687.26" width="117.30" height="12.00" fill="#f6941f"/>
<rect x="1882.99" y="687.26" width="29.95" height="12.00" fill="#e8628c"/>
<rect x="1912.94" y="687.26" width="13.98" height="12.00" fill="#f09ab8"/>
<rect x="1926.91" y="687.26" width="22.46" height="12.00" fill="#c176b1"/>
<rect x="1949.38" y="687.26" width="9.98" height="12.00" fill="#5f53a6"/>
<rect x="1959.36" y="687.26" width="3.49" height="12.00" fill="#fde7d7"/>
<rect x="1962.85" y="687.26" width="105.32" height="12.00" fill="#d0e7d8"/>
<rect x="2068.17" y="687.26" width="59.63" height="12.00" fill="#a0b4a4"/>
<line x1="1307.00" y1="693.26" x2="1312.00" y2="693.26" stroke="#1a1a1a" stroke-width="2.2"/>
<text x="1299.40" y="699.76" font-size="22.3" text-anchor="end" textLength="69.24" lengthAdjust="spacingAndGlyphs">FX1158</text>
<rect x="1312.60" y="711.07" width="4.35" height="12.00" fill="#94c67e"/>
<rect x="1316.95" y="711.07" width="6.99" height="12.00" fill="#44955f"/>
<rect x="1323.94" y="711.07" width="457.22" height="12.00" fill="#397a3b"/>
<rect x="1781.16" y="711.07" width="40.93" height="12.00" fill="#d9e24c"/>
<rect x="1822.09" y="711.07" width="4.99" height="12.00" fill="#fbf3b5"/>
<rect x="1827.08" y="711.07" width="4.99" height="12.00" fill="#e2a32b"/>
<rect x="1832.08" y="711.07" width="3.99" height="12.00" fill="#f6941f"/>
<rect x="1836.07" y="711.07" width="31.95" height="12.00" fill="#e8628c"/>
<rect x="1868.01" y="711.07" width="133.77" height="12.00" fill="#f09ab8"/>
<rect x="2001.79" y="711.07" width="53.91" height="12.00" fill="#c176b1"/>
<rect x="2055.69" y="711.07" width="8.49" height="12.00" fill="#fde7d7"/>
<rect x="2064.18" y="711.07" width="2.50" height="12.00" fill="#f8bc8f"/>
<rect x="2066.68" y="711.07" width="32.44" height="12.00" fill="#d0e7d8"/>
<rect x="2099.12" y="711.07" width="28.68" height="12.00" fill="#a0b4a4"/>
<line x1="1307.00" y1="717.07" x2="1312.00" y2="717.07" stroke="#1a1a1a" stroke-width="2.2"/>
<text x="1299.40" y="723.57" font-size="22.3" text-anchor="end" textLength="69.24" lengthAdjust="spacingAndGlyphs">FX1156</text>
<rect x="1312.60" y="734.88" width="3.85" height="12.00" fill="#1a6596"/>
<rect x="1316.45" y="734.88" width="8.98" height="12.00" fill="#9ad3f1"/>
<rect x="1325.44" y="734.88" width="15.97" height="12.00" fill="#5aade0"/>
<rect x="1341.41" y="734.88" width="2.99" height="12.00" fill="#397a3b"/>
<rect x="1344.40" y="734.88" width="2.00" height="12.00" fill="#f8ea22"/>
<rect x="1346.40" y="734.88" width="2.50" height="12.00" fill="#fbf3b5"/>
<rect x="1348.90" y="734.88" width="174.70" height="12.00" fill="#d2d2d4"/>
<rect x="1523.60" y="734.88" width="6.49" height="12.00" fill="#e2a32b"/>
<rect x="1530.09" y="734.88" width="420.78" height="12.00" fill="#ef6324"/>
<rect x="1950.87" y="734.88" width="11.98" height="12.00" fill="#f6941f"/>
<rect x="1962.85" y="734.88" width="6.49" height="12.00" fill="#e8628c"/>
<rect x="1969.34" y="734.88" width="4.99" height="12.00" fill="#f09ab8"/>
<rect x="1974.33" y="734.88" width="14.97" height="12.00" fill="#c176b1"/>
<rect x="1989.31" y="734.88" width="2.50" height="12.00" fill="#5f53a6"/>
<rect x="1991.80" y="734.88" width="3.99" height="12.00" fill="#fde7d7"/>
<rect x="1995.80" y="734.88" width="1.00" height="12.00" fill="#f8bc8f"/>
<rect x="1996.80" y="734.88" width="50.91" height="12.00" fill="#d0e7d8"/>
<rect x="2047.71" y="734.88" width="80.09" height="12.00" fill="#a0b4a4"/>
<line x1="1307.00" y1="740.88" x2="1312.00" y2="740.88" stroke="#1a1a1a" stroke-width="2.2"/>
<text x="1299.40" y="747.38" font-size="22.3" text-anchor="end" textLength="69.24" lengthAdjust="spacingAndGlyphs">FX1150</text>
<rect x="1312.60" y="758.69" width="112.67" height="12.00" fill="#9ad3f1"/>
<rect x="1425.27" y="758.69" width="2.50" height="12.00" fill="#6fcacb"/>
<rect x="1427.76" y="758.69" width="8.49" height="12.00" fill="#5aade0"/>
<rect x="1436.25" y="758.69" width="2.50" height="12.00" fill="#f8b91d"/>
<rect x="1438.74" y="758.69" width="3.99" height="12.00" fill="#ef6324"/>
<rect x="1442.74" y="758.69" width="508.14" height="12.00" fill="#f6941f"/>
<rect x="1950.87" y="758.69" width="74.87" height="12.00" fill="#e97d62"/>
<rect x="2025.75" y="758.69" width="7.49" height="12.00" fill="#e8628c"/>
<rect x="2033.23" y="758.69" width="12.48" height="12.00" fill="#f09ab8"/>
<rect x="2045.71" y="758.69" width="8.49" height="12.00" fill="#c176b1"/>
<rect x="2054.20" y="758.69" width="39.93" height="12.00" fill="#5f53a6"/>
<rect x="2094.13" y="758.69" width="4.99" height="12.00" fill="#fde7d7"/>
<rect x="2099.12" y="758.69" width="9.98" height="12.00" fill="#d0e7d8"/>
<rect x="2109.10" y="758.69" width="18.70" height="12.00" fill="#a0b4a4"/>
<line x1="1307.00" y1="764.69" x2="1312.00" y2="764.69" stroke="#1a1a1a" stroke-width="2.2"/>
<text x="1299.40" y="771.19" font-size="22.3" text-anchor="end" textLength="69.24" lengthAdjust="spacingAndGlyphs">FX1146</text>
<rect x="1312.60" y="782.50" width="40.29" height="12.00" fill="#f8ea22"/>
<rect x="1352.89" y="782.50" width="568.03" height="12.00" fill="#8473b6"/>
<rect x="1920.92" y="782.50" width="9.98" height="12.00" fill="#d2d2d4"/>
<rect x="1930.91" y="782.50" width="29.45" height="12.00" fill="#ef6324"/>
<rect x="1960.36" y="782.50" width="11.48" height="12.00" fill="#5f53a6"/>
<rect x="1971.84" y="782.50" width="1.50" height="12.00" fill="#fde7d7"/>
<rect x="1973.33" y="782.50" width="50.91" height="12.00" fill="#d0e7d8"/>
<rect x="2024.25" y="782.50" width="103.55" height="12.00" fill="#a0b4a4"/>
<line x1="1307.00" y1="788.50" x2="1312.00" y2="788.50" stroke="#1a1a1a" stroke-width="2.2"/>
<text x="1299.40" y="795.00" font-size="22.3" text-anchor="end" textLength="69.24" lengthAdjust="spacingAndGlyphs">FX1141</text>
<rect x="1312.60" y="806.31" width="8.84" height="12.00" fill="#1a6596"/>
<rect x="1321.44" y="806.31" width="16.47" height="12.00" fill="#9ad3f1"/>
<rect x="1337.92" y="806.31" width="9.98" height="12.00" fill="#6fcacb"/>
<rect x="1347.90" y="806.31" width="9.98" height="12.00" fill="#5aade0"/>
<rect x="1357.88" y="806.31" width="3.49" height="12.00" fill="#94c67e"/>
<rect x="1361.38" y="806.31" width="11.48" height="12.00" fill="#397a3b"/>
<rect x="1372.86" y="806.31" width="4.99" height="12.00" fill="#f8ea22"/>
<rect x="1377.85" y="806.31" width="4.99" height="12.00" fill="#8473b6"/>
<rect x="1382.84" y="806.31" width="192.17" height="12.00" fill="#d2d2d4"/>
<rect x="1575.01" y="806.31" width="1.50" height="12.00" fill="#e2a32b"/>
<rect x="1576.51" y="806.31" width="248.08" height="12.00" fill="#ef6324"/>
<rect x="1824.59" y="806.31" width="6.49" height="12.00" fill="#f6941f"/>
<rect x="1831.08" y="806.31" width="2.50" height="12.00" fill="#e8628c"/>
<rect x="1833.57" y="806.31" width="2.50" height="12.00" fill="#f09ab8"/>
<rect x="1836.07" y="806.31" width="8.49" height="12.00" fill="#c176b1"/>
<rect x="1844.55" y="806.31" width="1.50" height="12.00" fill="#fde7d7"/>
<rect x="1846.05" y="806.31" width="76.87" height="12.00" fill="#d0e7d8"/>
<rect x="1922.92" y="806.31" width="204.88" height="12.00" fill="#a0b4a4"/>
<line x1="1307.00" y1="812.31" x2="1312.00" y2="812.31" stroke="#1a1a1a" stroke-width="2.2"/>
<text x="1299.40" y="818.81" font-size="22.3" text-anchor="end" textLength="69.24" lengthAdjust="spacingAndGlyphs">FX1136</text>
<rect x="1312.60" y="830.12" width="10.34" height="12.00" fill="#1a6596"/>
<rect x="1322.94" y="830.12" width="21.46" height="12.00" fill="#9ad3f1"/>
<rect x="1344.40" y="830.12" width="3.49" height="12.00" fill="#6fcacb"/>
<rect x="1347.90" y="830.12" width="20.96" height="12.00" fill="#5aade0"/>
<rect x="1368.86" y="830.12" width="2.50" height="12.00" fill="#94c67e"/>
<rect x="1371.36" y="830.12" width="7.49" height="12.00" fill="#397a3b"/>
<rect x="1378.85" y="830.12" width="3.99" height="12.00" fill="#f8ea22"/>
<rect x="1382.84" y="830.12" width="2.50" height="12.00" fill="#fbf3b5"/>
<rect x="1385.33" y="830.12" width="1.50" height="12.00" fill="#8473b6"/>
<rect x="1386.83" y="830.12" width="292.00" height="12.00" fill="#d2d2d4"/>
<rect x="1678.84" y="830.12" width="2.50" height="12.00" fill="#e2a32b"/>
<rect x="1681.33" y="830.12" width="304.48" height="12.00" fill="#ef6324"/>
<rect x="1985.81" y="830.12" width="16.97" height="12.00" fill="#f6941f"/>
<rect x="2002.78" y="830.12" width="4.99" height="12.00" fill="#e8628c"/>
<rect x="2007.78" y="830.12" width="4.99" height="12.00" fill="#f09ab8"/>
<rect x="2012.77" y="830.12" width="7.49" height="12.00" fill="#c176b1"/>
<rect x="2020.26" y="830.12" width="2.50" height="12.00" fill="#fde7d7"/>
<rect x="2022.75" y="830.12" width="2.50" height="12.00" fill="#f8bc8f"/>
<rect x="2025.25" y="830.12" width="57.40" height="12.00" fill="#d0e7d8"/>
<rect x="2082.65" y="830.12" width="45.15" height="12.00" fill="#a0b4a4"/>
<line x1="1307.00" y1="836.12" x2="1312.00" y2="836.12" stroke="#1a1a1a" stroke-width="2.2"/>
<text x="1299.40" y="842.62" font-size="22.3" text-anchor="end" textLength="69.24" lengthAdjust="spacingAndGlyphs">FX1130</text>
<rect x="1312.60" y="853.93" width="10.34" height="12.00" fill="#1a6596"/>
<rect x="1322.94" y="853.93" width="10.98" height="12.00" fill="#9ad3f1"/>
<rect x="1333.92" y="853.93" width="17.47" height="12.00" fill="#6fcacb"/>
<rect x="1351.39" y="853.93" width="30.45" height="12.00" fill="#5aade0"/>
<rect x="1381.84" y="853.93" width="4.99" height="12.00" fill="#94c67e"/>
<rect x="1386.83" y="853.93" width="17.47" height="12.00" fill="#397a3b"/>
<rect x="1404.30" y="853.93" width="24.96" height="12.00" fill="#f8ea22"/>
<rect x="1429.26" y="853.93" width="143.26" height="12.00" fill="#8473b6"/>
<rect x="1572.52" y="853.93" width="158.23" height="12.00" fill="#d2d2d4"/>
<rect x="1730.75" y="853.93" width="5.49" height="12.00" fill="#e2a32b"/>
<rect x="1736.24" y="853.93" width="196.67" height="12.00" fill="#ef6324"/>
<rect x="1932.90" y="853.93" width="14.97" height="12.00" fill="#f6941f"/>
<rect x="1947.88" y="853.93" width="2.50" height="12.00" fill="#e97d62"/>
<rect x="1950.37" y="853.93" width="14.97" height="12.00" fill="#e8628c"/>
<rect x="1965.35" y="853.93" width="12.48" height="12.00" fill="#f09ab8"/>
<rect x="1977.83" y="853.93" width="16.47" height="12.00" fill="#c176b1"/>
<rect x="1994.30" y="853.93" width="13.48" height="12.00" fill="#fde7d7"/>
<rect x="2007.78" y="853.93" width="3.99" height="12.00" fill="#f8bc8f"/>
<rect x="2011.77" y="853.93" width="59.90" height="12.00" fill="#d0e7d8"/>
<rect x="2071.67" y="853.93" width="56.13" height="12.00" fill="#a0b4a4"/>
<line x1="1307.00" y1="859.93" x2="1312.00" y2="859.93" stroke="#1a1a1a" stroke-width="2.2"/>
<text x="1299.40" y="866.43" font-size="22.3" text-anchor="end" textLength="69.24" lengthAdjust="spacingAndGlyphs">FX1129</text>
<rect x="1312.60" y="877.74" width="19.33" height="12.00" fill="#1a6596"/>
<rect x="1331.93" y="877.74" width="350.40" height="12.00" fill="#9ad3f1"/>
<rect x="1682.33" y="877.74" width="56.40" height="12.00" fill="#6fcacb"/>
<rect x="1738.73" y="877.74" width="110.81" height="12.00" fill="#5aade0"/>
<rect x="1849.55" y="877.74" width="3.49" height="12.00" fill="#94c67e"/>
<rect x="1853.04" y="877.74" width="3.99" height="12.00" fill="#397a3b"/>
<rect x="1857.03" y="877.74" width="3.99" height="12.00" fill="#fbf3b5"/>
<rect x="1861.03" y="877.74" width="3.49" height="12.00" fill="#f8ea22"/>
<rect x="1864.52" y="877.74" width="3.49" height="12.00" fill="#fbf3b5"/>
<rect x="1868.01" y="877.74" width="2.50" height="12.00" fill="#ef6324"/>
<rect x="1870.51" y="877.74" width="105.32" height="12.00" fill="#f6941f"/>
<rect x="1975.83" y="877.74" width="51.91" height="12.00" fill="#e97d62"/>
<rect x="2027.74" y="877.74" width="8.98" height="12.00" fill="#e8628c"/>
<rect x="2036.73" y="877.74" width="8.49" height="12.00" fill="#f09ab8"/>
<rect x="2045.21" y="877.74" width="7.49" height="12.00" fill="#5f53a6"/>
<rect x="2052.70" y="877.74" width="2.99" height="12.00" fill="#fde7d7"/>
<rect x="2055.69" y="877.74" width="45.92" height="12.00" fill="#d0e7d8"/>
<rect x="2101.62" y="877.74" width="26.18" height="12.00" fill="#a0b4a4"/>
<line x1="1307.00" y1="883.74" x2="1312.00" y2="883.74" stroke="#1a1a1a" stroke-width="2.2"/>
<text x="1299.40" y="890.24" font-size="22.3" text-anchor="end" textLength="69.24" lengthAdjust="spacingAndGlyphs">FX1125</text>
<rect x="1312.60" y="901.55" width="120.15" height="12.00" fill="#1a6596"/>
<rect x="1432.75" y="901.55" width="73.87" height="12.00" fill="#9ad3f1"/>
<rect x="1506.63" y="901.55" width="15.97" height="12.00" fill="#6fcacb"/>
<rect x="1522.60" y="901.55" width="58.40" height="12.00" fill="#5aade0"/>
<rect x="1581.00" y="901.55" width="1.50" height="12.00" fill="#397a3b"/>
<rect x="1582.50" y="901.55" width="43.43" height="12.00" fill="#b5b835"/>
<rect x="1625.93" y="901.55" width="4.99" height="12.00" fill="#fbf3b5"/>
<rect x="1630.92" y="901.55" width="6.49" height="12.00" fill="#f8ea22"/>
<rect x="1637.41" y="901.55" width="8.98" height="12.00" fill="#d2d2d4"/>
<rect x="1646.39" y="901.55" width="3.49" height="12.00" fill="#f8b91d"/>
<rect x="1649.88" y="901.55" width="4.99" height="12.00" fill="#e2a32b"/>
<rect x="1654.88" y="901.55" width="104.82" height="12.00" fill="#ef6324"/>
<rect x="1759.70" y="901.55" width="158.23" height="12.00" fill="#f6941f"/>
<rect x="1917.93" y="901.55" width="71.38" height="12.00" fill="#e97d62"/>
<rect x="1989.31" y="901.55" width="8.49" height="12.00" fill="#e8628c"/>
<rect x="1997.79" y="901.55" width="6.49" height="12.00" fill="#f09ab8"/>
<rect x="2004.28" y="901.55" width="27.45" height="12.00" fill="#c176b1"/>
<rect x="2031.74" y="901.55" width="1.50" height="12.00" fill="#5f53a6"/>
<rect x="2033.23" y="901.55" width="10.98" height="12.00" fill="#fde7d7"/>
<rect x="2044.21" y="901.55" width="5.99" height="12.00" fill="#f8bc8f"/>
<rect x="2050.20" y="901.55" width="52.91" height="12.00" fill="#d0e7d8"/>
<rect x="2103.11" y="901.55" width="24.69" height="12.00" fill="#a0b4a4"/>
<line x1="1307.00" y1="907.55" x2="1312.00" y2="907.55" stroke="#1a1a1a" stroke-width="2.2"/>
<text x="1299.40" y="914.05" font-size="22.3" text-anchor="end" textLength="69.24" lengthAdjust="spacingAndGlyphs">FX1122</text>
<rect x="1312.60" y="925.36" width="5.35" height="12.00" fill="#1a6596"/>
<rect x="1317.95" y="925.36" width="541.58" height="12.00" fill="#9ad3f1"/>
<rect x="1859.53" y="925.36" width="29.95" height="12.00" fill="#6fcacb"/>
<rect x="1889.48" y="925.36" width="40.93" height="12.00" fill="#5aade0"/>
<rect x="1930.41" y="925.36" width="3.99" height="12.00" fill="#94c67e"/>
<rect x="1934.40" y="925.36" width="4.99" height="12.00" fill="#b5b835"/>
<rect x="1939.39" y="925.36" width="6.49" height="12.00" fill="#fbf3b5"/>
<rect x="1945.88" y="925.36" width="10.98" height="12.00" fill="#f8ea22"/>
<rect x="1956.86" y="925.36" width="2.50" height="12.00" fill="#fbf3b5"/>
<rect x="1959.36" y="925.36" width="5.99" height="12.00" fill="#d2d2d4"/>
<rect x="1965.35" y="925.36" width="2.99" height="12.00" fill="#ef6324"/>
<rect x="1968.34" y="925.36" width="36.94" height="12.00" fill="#f6941f"/>
<rect x="2005.28" y="925.36" width="8.98" height="12.00" fill="#e97d62"/>
<rect x="2014.27" y="925.36" width="5.99" height="12.00" fill="#e8628c"/>
<rect x="2020.26" y="925.36" width="6.49" height="12.00" fill="#5f53a6"/>
<rect x="2026.74" y="925.36" width="4.99" height="12.00" fill="#fde7d7"/>
<rect x="2031.74" y="925.36" width="69.88" height="12.00" fill="#d0e7d8"/>
<rect x="2101.62" y="925.36" width="26.18" height="12.00" fill="#a0b4a4"/>
<line x1="1307.00" y1="931.36" x2="1312.00" y2="931.36" stroke="#1a1a1a" stroke-width="2.2"/>
<text x="1299.40" y="937.86" font-size="22.3" text-anchor="end" textLength="67.75" lengthAdjust="spacingAndGlyphs">FX1119</text>
<rect x="1312.60" y="949.17" width="6.35" height="12.00" fill="#9ad3f1"/>
<rect x="1318.95" y="949.17" width="4.99" height="12.00" fill="#5aade0"/>
<rect x="1323.94" y="949.17" width="2.99" height="12.00" fill="#6fcacb"/>
<rect x="1326.93" y="949.17" width="5.99" height="12.00" fill="#44955f"/>
<rect x="1332.92" y="949.17" width="4.99" height="12.00" fill="#397a3b"/>
<rect x="1337.92" y="949.17" width="20.96" height="12.00" fill="#b5b835"/>
<rect x="1358.88" y="949.17" width="2.50" height="12.00" fill="#fbf3b5"/>
<rect x="1361.38" y="949.17" width="7.49" height="12.00" fill="#f8ea22"/>
<rect x="1368.86" y="949.17" width="46.42" height="12.00" fill="#8473b6"/>
<rect x="1415.28" y="949.17" width="94.84" height="12.00" fill="#d2d2d4"/>
<rect x="1510.12" y="949.17" width="2.50" height="12.00" fill="#e2a32b"/>
<rect x="1512.62" y="949.17" width="10.98" height="12.00" fill="#ef6324"/>
<rect x="1523.60" y="949.17" width="8.98" height="12.00" fill="#f6941f"/>
<rect x="1532.58" y="949.17" width="4.99" height="12.00" fill="#e8628c"/>
<rect x="1537.58" y="949.17" width="25.96" height="12.00" fill="#f09ab8"/>
<rect x="1563.53" y="949.17" width="20.47" height="12.00" fill="#c176b1"/>
<rect x="1584.00" y="949.17" width="3.49" height="12.00" fill="#fde7d7"/>
<rect x="1587.49" y="949.17" width="262.05" height="12.00" fill="#d0e7d8"/>
<rect x="1849.55" y="949.17" width="278.25" height="12.00" fill="#a0b4a4"/>
<line x1="1307.00" y1="955.17" x2="1312.00" y2="955.17" stroke="#1a1a1a" stroke-width="2.2"/>
<text x="1299.40" y="961.67" font-size="22.3" text-anchor="end" textLength="66.25" lengthAdjust="spacingAndGlyphs">FX1111</text>
<rect x="1312.60" y="972.98" width="353.26" height="12.00" fill="#44955f"/>
<rect x="1665.86" y="972.98" width="8.98" height="12.00" fill="#397a3b"/>
<rect x="1674.84" y="972.98" width="5.99" height="12.00" fill="#d9e24c"/>
<rect x="1680.83" y="972.98" width="4.99" height="12.00" fill="#f8ea22"/>
<rect x="1685.82" y="972.98" width="2.50" height="12.00" fill="#fbf3b5"/>
<rect x="1688.32" y="972.98" width="2.99" height="12.00" fill="#e2a32b"/>
<rect x="1691.31" y="972.98" width="28.45" height="12.00" fill="#ef6324"/>
<rect x="1719.77" y="972.98" width="1.50" height="12.00" fill="#f6941f"/>
<rect x="1721.26" y="972.98" width="4.49" height="12.00" fill="#c176b1"/>
<rect x="1725.76" y="972.98" width="7.99" height="12.00" fill="#fde7d7"/>
<rect x="1733.74" y="972.98" width="352.90" height="12.00" fill="#d0e7d8"/>
<rect x="2086.64" y="972.98" width="41.16" height="12.00" fill="#a0b4a4"/>
<line x1="1307.00" y1="978.98" x2="1312.00" y2="978.98" stroke="#1a1a1a" stroke-width="2.2"/>
<text x="1299.40" y="985.48" font-size="22.3" text-anchor="end" textLength="69.24" lengthAdjust="spacingAndGlyphs">FX1106</text>
<rect x="1312.60" y="996.79" width="98.69" height="12.00" fill="#9ad3f1"/>
<rect x="1411.29" y="996.79" width="21.46" height="12.00" fill="#6fcacb"/>
<rect x="1432.75" y="996.79" width="17.47" height="12.00" fill="#5aade0"/>
<rect x="1450.22" y="996.79" width="2.50" height="12.00" fill="#b5b835"/>
<rect x="1452.72" y="996.79" width="12.48" height="12.00" fill="#f8ea22"/>
<rect x="1465.20" y="996.79" width="2.50" height="12.00" fill="#f8b91d"/>
<rect x="1467.69" y="996.79" width="3.99" height="12.00" fill="#e2a32b"/>
<rect x="1471.69" y="996.79" width="6.99" height="12.00" fill="#ef6324"/>
<rect x="1478.68" y="996.79" width="431.77" height="12.00" fill="#f6941f"/>
<rect x="1910.44" y="996.79" width="102.33" height="12.00" fill="#e97d62"/>
<rect x="2012.77" y="996.79" width="36.44" height="12.00" fill="#e8628c"/>
<rect x="2049.21" y="996.79" width="14.97" height="12.00" fill="#f09ab8"/>
<rect x="2064.18" y="996.79" width="11.48" height="12.00" fill="#c176b1"/>
<rect x="2075.66" y="996.79" width="9.48" height="12.00" fill="#5f53a6"/>
<rect x="2085.14" y="996.79" width="7.99" height="12.00" fill="#fde7d7"/>
<rect x="2093.13" y="996.79" width="2.00" height="12.00" fill="#f8bc8f"/>
<rect x="2095.13" y="996.79" width="6.49" height="12.00" fill="#d0e7d8"/>
<rect x="2101.62" y="996.79" width="26.18" height="12.00" fill="#a0b4a4"/>
<line x1="1307.00" y1="1002.79" x2="1312.00" y2="1002.79" stroke="#1a1a1a" stroke-width="2.2"/>
<text x="1299.40" y="1009.29" font-size="22.3" text-anchor="end" textLength="69.24" lengthAdjust="spacingAndGlyphs">FX1104</text>
<rect x="1312.60" y="1020.60" width="7.84" height="12.00" fill="#1a6596"/>
<rect x="1320.44" y="1020.60" width="292.00" height="12.00" fill="#9ad3f1"/>
<rect x="1612.45" y="1020.60" width="45.92" height="12.00" fill="#6fcacb"/>
<rect x="1658.37" y="1020.60" width="141.26" height="12.00" fill="#5aade0"/>
<rect x="1799.63" y="1020.60" width="2.50" height="12.00" fill="#397a3b"/>
<rect x="1802.13" y="1020.60" width="3.49" height="12.00" fill="#fbf3b5"/>
<rect x="1805.62" y="1020.60" width="7.49" height="12.00" fill="#f8ea22"/>
<rect x="1813.11" y="1020.60" width="2.50" height="12.00" fill="#fbf3b5"/>
<rect x="1815.60" y="1020.60" width="2.50" height="12.00" fill="#f8b91d"/>
<rect x="1818.10" y="1020.60" width="3.99" height="12.00" fill="#e2a32b"/>
<rect x="1822.09" y="1020.60" width="2.50" height="12.00" fill="#ef6324"/>
<rect x="1824.59" y="1020.60" width="192.17" height="12.00" fill="#f6941f"/>
<rect x="2016.76" y="1020.60" width="63.39" height="12.00" fill="#e97d62"/>
<rect x="2080.15" y="1020.60" width="8.98" height="12.00" fill="#e8628c"/>
<rect x="2089.14" y="1020.60" width="7.49" height="12.00" fill="#f09ab8"/>
<rect x="2096.63" y="1020.60" width="2.50" height="12.00" fill="#c176b1"/>
<rect x="2099.12" y="1020.60" width="3.49" height="12.00" fill="#5f53a6"/>
<rect x="2102.62" y="1020.60" width="7.99" height="12.00" fill="#fde7d7"/>
<rect x="2110.60" y="1020.60" width="7.49" height="12.00" fill="#d0e7d8"/>
<rect x="2118.09" y="1020.60" width="9.71" height="12.00" fill="#a0b4a4"/>
<line x1="1307.00" y1="1026.60" x2="1312.00" y2="1026.60" stroke="#1a1a1a" stroke-width="2.2"/>
<text x="1299.40" y="1033.10" font-size="22.3" text-anchor="end" textLength="69.24" lengthAdjust="spacingAndGlyphs">FX1101</text>
<rect x="1312.60" y="1044.41" width="5.35" height="12.00" fill="#9ad3f1"/>
<rect x="1317.95" y="1044.41" width="582.51" height="12.00" fill="#44955f"/>
<rect x="1900.46" y="1044.41" width="7.99" height="12.00" fill="#397a3b"/>
<rect x="1908.45" y="1044.41" width="2.50" height="12.00" fill="#f8ea22"/>
<rect x="1910.94" y="1044.41" width="4.99" height="12.00" fill="#e2a32b"/>
<rect x="1915.93" y="1044.41" width="3.49" height="12.00" fill="#f6941f"/>
<rect x="1919.43" y="1044.41" width="8.49" height="12.00" fill="#e8628c"/>
<rect x="1927.91" y="1044.41" width="65.39" height="12.00" fill="#f09ab8"/>
<rect x="1993.30" y="1044.41" width="41.93" height="12.00" fill="#c176b1"/>
<rect x="2035.23" y="1044.41" width="9.98" height="12.00" fill="#fde7d7"/>
<rect x="2045.21" y="1044.41" width="4.99" height="12.00" fill="#f8bc8f"/>
<rect x="2050.20" y="1044.41" width="37.94" height="12.00" fill="#d0e7d8"/>
<rect x="2088.14" y="1044.41" width="39.66" height="12.00" fill="#a0b4a4"/>
<line x1="1307.00" y1="1050.41" x2="1312.00" y2="1050.41" stroke="#1a1a1a" stroke-width="2.2"/>
<text x="1299.40" y="1056.91" font-size="22.3" text-anchor="end" textLength="69.24" lengthAdjust="spacingAndGlyphs">FX1100</text>
<rect x="1312.60" y="1068.22" width="13.83" height="12.00" fill="#1a6596"/>
<rect x="1326.43" y="1068.22" width="198.66" height="12.00" fill="#9ad3f1"/>
<rect x="1525.10" y="1068.22" width="15.97" height="12.00" fill="#6fcacb"/>
<rect x="1541.07" y="1068.22" width="18.97" height="12.00" fill="#5aade0"/>
<rect x="1560.04" y="1068.22" width="2.50" height="12.00" fill="#fbf3b5"/>
<rect x="1562.53" y="1068.22" width="3.99" height="12.00" fill="#f8ea22"/>
<rect x="1566.53" y="1068.22" width="23.46" height="12.00" fill="#8473b6"/>
<rect x="1589.99" y="1068.22" width="2.50" height="12.00" fill="#e2a32b"/>
<rect x="1592.48" y="1068.22" width="4.99" height="12.00" fill="#ef6324"/>
<rect x="1597.47" y="1068.22" width="376.86" height="12.00" fill="#f6941f"/>
<rect x="1974.33" y="1068.22" width="50.91" height="12.00" fill="#e97d62"/>
<rect x="2025.25" y="1068.22" width="8.98" height="12.00" fill="#e8628c"/>
<rect x="2034.23" y="1068.22" width="7.49" height="12.00" fill="#f09ab8"/>
<rect x="2041.72" y="1068.22" width="10.98" height="12.00" fill="#c176b1"/>
<rect x="2052.70" y="1068.22" width="33.94" height="12.00" fill="#5f53a6"/>
<rect x="2086.64" y="1068.22" width="4.99" height="12.00" fill="#fde7d7"/>
<rect x="2091.63" y="1068.22" width="14.97" height="12.00" fill="#d0e7d8"/>
<rect x="2106.61" y="1068.22" width="21.19" height="12.00" fill="#a0b4a4"/>
<line x1="1307.00" y1="1074.22" x2="1312.00" y2="1074.22" stroke="#1a1a1a" stroke-width="2.2"/>
<text x="1299.40" y="1080.72" font-size="22.3" text-anchor="end" textLength="70.74" lengthAdjust="spacingAndGlyphs">FX1097</text>
<rect x="1312.60" y="1092.03" width="13.83" height="12.00" fill="#94c67e"/>
<rect x="1326.43" y="1092.03" width="11.48" height="12.00" fill="#44955f"/>
<rect x="1337.92" y="1092.03" width="390.34" height="12.00" fill="#397a3b"/>
<rect x="1728.25" y="1092.03" width="48.92" height="12.00" fill="#d9e24c"/>
<rect x="1777.17" y="1092.03" width="3.49" height="12.00" fill="#fbf3b5"/>
<rect x="1780.66" y="1092.03" width="2.99" height="12.00" fill="#f8ea22"/>
<rect x="1783.66" y="1092.03" width="3.49" height="12.00" fill="#f8b91d"/>
<rect x="1787.15" y="1092.03" width="5.99" height="12.00" fill="#f6941f"/>
<rect x="1793.14" y="1092.03" width="10.48" height="12.00" fill="#e8628c"/>
<rect x="1803.62" y="1092.03" width="272.04" height="12.00" fill="#f09ab8"/>
<rect x="2075.66" y="1092.03" width="11.98" height="12.00" fill="#c176b1"/>
<rect x="2087.64" y="1092.03" width="12.98" height="12.00" fill="#fde7d7"/>
<rect x="2100.62" y="1092.03" width="14.97" height="12.00" fill="#d0e7d8"/>
<rect x="2115.59" y="1092.03" width="12.21" height="12.00" fill="#a0b4a4"/>
<line x1="1307.00" y1="1098.03" x2="1312.00" y2="1098.03" stroke="#1a1a1a" stroke-width="2.2"/>
<text x="1299.40" y="1104.53" font-size="22.3" text-anchor="end" textLength="70.74" lengthAdjust="spacingAndGlyphs">FX1087</text>
<rect x="1312.60" y="1115.84" width="25.32" height="12.00" fill="#9ad3f1"/>
<rect x="1337.92" y="1115.84" width="32.44" height="12.00" fill="#6fcacb"/>
<rect x="1370.36" y="1115.84" width="15.97" height="12.00" fill="#5aade0"/>
<rect x="1386.33" y="1115.84" width="3.99" height="12.00" fill="#94c67e"/>
<rect x="1390.33" y="1115.84" width="6.49" height="12.00" fill="#44955f"/>
<rect x="1396.82" y="1115.84" width="3.49" height="12.00" fill="#397a3b"/>
<rect x="1400.31" y="1115.84" width="132.28" height="12.00" fill="#b5b835"/>
<rect x="1532.58" y="1115.84" width="14.97" height="12.00" fill="#d9e24c"/>
<rect x="1547.56" y="1115.84" width="32.44" height="12.00" fill="#fbf3b5"/>
<rect x="1580.00" y="1115.84" width="23.46" height="12.00" fill="#f8ea22"/>
<rect x="1603.46" y="1115.84" width="21.46" height="12.00" fill="#d2d2d4"/>
<rect x="1624.93" y="1115.84" width="2.50" height="12.00" fill="#e2a32b"/>
<rect x="1627.42" y="1115.84" width="9.98" height="12.00" fill="#ef6324"/>
<rect x="1637.41" y="1115.84" width="240.59" height="12.00" fill="#f6941f"/>
<rect x="1878.00" y="1115.84" width="6.49" height="12.00" fill="#e97d62"/>
<rect x="1884.49" y="1115.84" width="19.97" height="12.00" fill="#e8628c"/>
<rect x="1904.45" y="1115.84" width="10.98" height="12.00" fill="#f09ab8"/>
<rect x="1915.43" y="1115.84" width="16.47" height="12.00" fill="#c176b1"/>
<rect x="1931.91" y="1115.84" width="2.50" height="12.00" fill="#5f53a6"/>
<rect x="1934.40" y="1115.84" width="4.99" height="12.00" fill="#fde7d7"/>
<rect x="1939.39" y="1115.84" width="3.49" height="12.00" fill="#f8bc8f"/>
<rect x="1942.89" y="1115.84" width="130.28" height="12.00" fill="#d0e7d8"/>
<rect x="2073.17" y="1115.84" width="54.63" height="12.00" fill="#a0b4a4"/>
<line x1="1307.00" y1="1121.84" x2="1312.00" y2="1121.84" stroke="#1a1a1a" stroke-width="2.2"/>
<text x="1299.40" y="1128.34" font-size="22.3" text-anchor="end" textLength="70.74" lengthAdjust="spacingAndGlyphs">FX1080</text>
<rect x="1312.60" y="1139.65" width="3.85" height="12.00" fill="#b5b835"/>
<rect x="1316.45" y="1139.65" width="15.47" height="12.00" fill="#d2d2d4"/>
<rect x="1331.93" y="1139.65" width="2.00" height="12.00" fill="#e2a32b"/>
<rect x="1333.92" y="1139.65" width="7.49" height="12.00" fill="#ef6324"/>
<rect x="1341.41" y="1139.65" width="7.49" height="12.00" fill="#c176b1"/>
<rect x="1348.90" y="1139.65" width="9.98" height="12.00" fill="#f8bc8f"/>
<rect x="1358.88" y="1139.65" width="147.75" height="12.00" fill="#d0e7d8"/>
<rect x="1506.63" y="1139.65" width="621.17" height="12.00" fill="#a0b4a4"/>
<line x1="1307.00" y1="1145.65" x2="1312.00" y2="1145.65" stroke="#1a1a1a" stroke-width="2.2"/>
<text x="1299.40" y="1152.15" font-size="22.3" text-anchor="end" textLength="70.74" lengthAdjust="spacingAndGlyphs">FX1074</text>
<rect x="1312.60" y="1163.46" width="3.85" height="12.00" fill="#397a3b"/>
<rect x="1316.45" y="1163.46" width="7.99" height="12.00" fill="#f8ea22"/>
<rect x="1324.44" y="1163.46" width="2.00" height="12.00" fill="#e2a32b"/>
<rect x="1326.43" y="1163.46" width="312.47" height="12.00" fill="#d2d2d4"/>
<rect x="1638.90" y="1163.46" width="2.50" height="12.00" fill="#e2a32b"/>
<rect x="1641.40" y="1163.46" width="386.84" height="12.00" fill="#ef6324"/>
<rect x="2028.24" y="1163.46" width="5.99" height="12.00" fill="#fde7d7"/>
<rect x="2034.23" y="1163.46" width="74.87" height="12.00" fill="#d0e7d8"/>
<rect x="2109.10" y="1163.46" width="18.70" height="12.00" fill="#a0b4a4"/>
<line x1="1307.00" y1="1169.46" x2="1312.00" y2="1169.46" stroke="#1a1a1a" stroke-width="2.2"/>
<text x="1299.40" y="1175.96" font-size="22.3" text-anchor="end" textLength="70.74" lengthAdjust="spacingAndGlyphs">FX0065</text>
<rect x="1312.60" y="1187.27" width="11.34" height="12.00" fill="#1a6596"/>
<rect x="1323.94" y="1187.27" width="268.54" height="12.00" fill="#9ad3f1"/>
<rect x="1592.48" y="1187.27" width="73.38" height="12.00" fill="#6fcacb"/>
<rect x="1665.86" y="1187.27" width="144.75" height="12.00" fill="#5aade0"/>
<rect x="1810.61" y="1187.27" width="2.50" height="12.00" fill="#397a3b"/>
<rect x="1813.11" y="1187.27" width="3.99" height="12.00" fill="#fbf3b5"/>
<rect x="1817.10" y="1187.27" width="11.48" height="12.00" fill="#f8ea22"/>
<rect x="1828.58" y="1187.27" width="13.48" height="12.00" fill="#8473b6"/>
<rect x="1842.06" y="1187.27" width="2.50" height="12.00" fill="#f8b91d"/>
<rect x="1844.55" y="1187.27" width="3.49" height="12.00" fill="#e2a32b"/>
<rect x="1848.05" y="1187.27" width="2.50" height="12.00" fill="#ef6324"/>
<rect x="1850.54" y="1187.27" width="137.77" height="12.00" fill="#f6941f"/>
<rect x="1988.31" y="1187.27" width="29.45" height="12.00" fill="#e97d62"/>
<rect x="2017.76" y="1187.27" width="4.99" height="12.00" fill="#e8628c"/>
<rect x="2022.75" y="1187.27" width="4.99" height="12.00" fill="#f09ab8"/>
<rect x="2027.74" y="1187.27" width="1.50" height="12.00" fill="#c176b1"/>
<rect x="2029.24" y="1187.27" width="63.39" height="12.00" fill="#5f53a6"/>
<rect x="2092.63" y="1187.27" width="4.99" height="12.00" fill="#fde7d7"/>
<rect x="2097.62" y="1187.27" width="7.49" height="12.00" fill="#d0e7d8"/>
<rect x="2105.11" y="1187.27" width="22.69" height="12.00" fill="#a0b4a4"/>
<line x1="1307.00" y1="1193.27" x2="1312.00" y2="1193.27" stroke="#1a1a1a" stroke-width="2.2"/>
<text x="1299.40" y="1199.77" font-size="22.3" text-anchor="end" textLength="70.74" lengthAdjust="spacingAndGlyphs">FX0060</text>
<rect x="1312.60" y="1211.08" width="3.85" height="12.00" fill="#9ad3f1"/>
<rect x="1316.45" y="1211.08" width="3.99" height="12.00" fill="#6fcacb"/>
<rect x="1320.44" y="1211.08" width="2.50" height="12.00" fill="#94c67e"/>
<rect x="1322.94" y="1211.08" width="11.48" height="12.00" fill="#397a3b"/>
<rect x="1334.42" y="1211.08" width="2.50" height="12.00" fill="#f8ea22"/>
<rect x="1336.92" y="1211.08" width="2.50" height="12.00" fill="#fbf3b5"/>
<rect x="1339.41" y="1211.08" width="255.57" height="12.00" fill="#d2d2d4"/>
<rect x="1594.98" y="1211.08" width="7.49" height="12.00" fill="#e2a32b"/>
<rect x="1602.47" y="1211.08" width="424.28" height="12.00" fill="#ef6324"/>
<rect x="2026.74" y="1211.08" width="3.49" height="12.00" fill="#f6941f"/>
<rect x="2030.24" y="1211.08" width="4.99" height="12.00" fill="#e8628c"/>
<rect x="2035.23" y="1211.08" width="2.99" height="12.00" fill="#f09ab8"/>
<rect x="2038.22" y="1211.08" width="6.99" height="12.00" fill="#c176b1"/>
<rect x="2045.21" y="1211.08" width="6.49" height="12.00" fill="#fde7d7"/>
<rect x="2051.70" y="1211.08" width="41.43" height="12.00" fill="#d0e7d8"/>
<rect x="2093.13" y="1211.08" width="34.67" height="12.00" fill="#a0b4a4"/>
<line x1="1307.00" y1="1217.08" x2="1312.00" y2="1217.08" stroke="#1a1a1a" stroke-width="2.2"/>
<text x="1299.40" y="1223.58" font-size="22.3" text-anchor="end" textLength="70.74" lengthAdjust="spacingAndGlyphs">FX0056</text>
<rect x="1312.60" y="1234.89" width="3.85" height="12.00" fill="#1a6596"/>
<rect x="1316.45" y="1234.89" width="8.98" height="12.00" fill="#9ad3f1"/>
<rect x="1325.44" y="1234.89" width="4.99" height="12.00" fill="#6fcacb"/>
<rect x="1330.43" y="1234.89" width="2.50" height="12.00" fill="#397a3b"/>
<rect x="1332.92" y="1234.89" width="2.50" height="12.00" fill="#f8ea22"/>
<rect x="1335.42" y="1234.89" width="2.50" height="12.00" fill="#fbf3b5"/>
<rect x="1337.92" y="1234.89" width="3.49" height="12.00" fill="#e2a32b"/>
<rect x="1341.41" y="1234.89" width="4.99" height="12.00" fill="#ef6324"/>
<rect x="1346.40" y="1234.89" width="658.88" height="12.00" fill="#f6941f"/>
<rect x="2005.28" y="1234.89" width="31.45" height="12.00" fill="#e97d62"/>
<rect x="2036.73" y="1234.89" width="18.97" height="12.00" fill="#e8628c"/>
<rect x="2055.69" y="1234.89" width="6.99" height="12.00" fill="#f09ab8"/>
<rect x="2062.68" y="1234.89" width="7.99" height="12.00" fill="#c176b1"/>
<rect x="2070.67" y="1234.89" width="11.98" height="12.00" fill="#5f53a6"/>
<rect x="2082.65" y="1234.89" width="6.49" height="12.00" fill="#fde7d7"/>
<rect x="2089.14" y="1234.89" width="13.48" height="12.00" fill="#d0e7d8"/>
<rect x="2102.62" y="1234.89" width="25.18" height="12.00" fill="#a0b4a4"/>
<line x1="1307.00" y1="1240.89" x2="1312.00" y2="1240.89" stroke="#1a1a1a" stroke-width="2.2"/>
<text x="1299.40" y="1247.39" font-size="22.3" text-anchor="end" textLength="70.74" lengthAdjust="spacingAndGlyphs">FX0052</text>
<rect x="1312.60" y="1258.70" width="9.34" height="12.00" fill="#9ad3f1"/>
<rect x="1321.94" y="1258.70" width="139.76" height="12.00" fill="#5aade0"/>
<rect x="1461.70" y="1258.70" width="334.43" height="12.00" fill="#94c67e"/>
<rect x="1796.14" y="1258.70" width="40.93" height="12.00" fill="#b5b835"/>
<rect x="1837.07" y="1258.70" width="2.50" height="12.00" fill="#fbf3b5"/>
<rect x="1839.56" y="1258.70" width="6.49" height="12.00" fill="#f8ea22"/>
<rect x="1846.05" y="1258.70" width="3.49" height="12.00" fill="#8473b6"/>
<rect x="1849.55" y="1258.70" width="2.50" height="12.00" fill="#e2a32b"/>
<rect x="1852.04" y="1258.70" width="33.94" height="12.00" fill="#f6941f"/>
<rect x="1885.98" y="1258.70" width="24.96" height="12.00" fill="#e97d62"/>
<rect x="1910.94" y="1258.70" width="170.71" height="12.00" fill="#e8628c"/>
<rect x="2081.65" y="1258.70" width="3.49" height="12.00" fill="#f09ab8"/>
<rect x="2085.14" y="1258.70" width="1.50" height="12.00" fill="#5f53a6"/>
<rect x="2086.64" y="1258.70" width="5.99" height="12.00" fill="#fde7d7"/>
<rect x="2092.63" y="1258.70" width="9.98" height="12.00" fill="#d0e7d8"/>
<rect x="2102.62" y="1258.70" width="25.18" height="12.00" fill="#a0b4a4"/>
<line x1="1307.00" y1="1264.70" x2="1312.00" y2="1264.70" stroke="#1a1a1a" stroke-width="2.2"/>
<text x="1299.40" y="1271.20" font-size="22.3" text-anchor="end" textLength="70.74" lengthAdjust="spacingAndGlyphs">FX0033</text>
<rect x="1312.60" y="1282.51" width="3.85" height="12.00" fill="#9ad3f1"/>
<rect x="1316.45" y="1282.51" width="117.30" height="12.00" fill="#5aade0"/>
<rect x="1433.75" y="1282.51" width="299.99" height="12.00" fill="#94c67e"/>
<rect x="1733.74" y="1282.51" width="1.00" height="12.00" fill="#397a3b"/>
<rect x="1734.74" y="1282.51" width="72.38" height="12.00" fill="#b5b835"/>
<rect x="1807.12" y="1282.51" width="6.49" height="12.00" fill="#f8ea22"/>
<rect x="1813.61" y="1282.51" width="2.50" height="12.00" fill="#fbf3b5"/>
<rect x="1816.10" y="1282.51" width="8.49" height="12.00" fill="#e2a32b"/>
<rect x="1824.59" y="1282.51" width="47.42" height="12.00" fill="#f6941f"/>
<rect x="1872.01" y="1282.51" width="23.96" height="12.00" fill="#e97d62"/>
<rect x="1895.97" y="1282.51" width="181.69" height="12.00" fill="#e8628c"/>
<rect x="2077.66" y="1282.51" width="6.49" height="12.00" fill="#f09ab8"/>
<rect x="2084.15" y="1282.51" width="7.49" height="12.00" fill="#5f53a6"/>
<rect x="2091.63" y="1282.51" width="3.99" height="12.00" fill="#fde7d7"/>
<rect x="2095.63" y="1282.51" width="10.98" height="12.00" fill="#d0e7d8"/>
<rect x="2106.61" y="1282.51" width="21.19" height="12.00" fill="#a0b4a4"/>
<line x1="1307.00" y1="1288.51" x2="1312.00" y2="1288.51" stroke="#1a1a1a" stroke-width="2.2"/>
<text x="1299.40" y="1295.01" font-size="22.3" text-anchor="end" textLength="70.74" lengthAdjust="spacingAndGlyphs">FX0028</text>
<rect x="1312.60" y="1306.32" width="3.85" height="12.00" fill="#9ad3f1"/>
<rect x="1316.45" y="1306.32" width="10.48" height="12.00" fill="#397a3b"/>
<rect x="1326.93" y="1306.32" width="4.99" height="12.00" fill="#d9e24c"/>
<rect x="1331.93" y="1306.32" width="9.48" height="12.00" fill="#8473b6"/>
<rect x="1341.41" y="1306.32" width="123.79" height="12.00" fill="#d2d2d4"/>
<rect x="1465.20" y="1306.32" width="3.49" height="12.00" fill="#e2a32b"/>
<rect x="1468.69" y="1306.32" width="26.46" height="12.00" fill="#ef6324"/>
<rect x="1495.15" y="1306.32" width="3.99" height="12.00" fill="#e8628c"/>
<rect x="1499.14" y="1306.32" width="14.48" height="12.00" fill="#f09ab8"/>
<rect x="1513.62" y="1306.32" width="132.28" height="12.00" fill="#c176b1"/>
<rect x="1645.89" y="1306.32" width="22.46" height="12.00" fill="#fde7d7"/>
<rect x="1668.35" y="1306.32" width="18.97" height="12.00" fill="#f8bc8f"/>
<rect x="1687.32" y="1306.32" width="277.03" height="12.00" fill="#d0e7d8"/>
<rect x="1964.35" y="1306.32" width="163.45" height="12.00" fill="#a0b4a4"/>
<line x1="1307.00" y1="1312.32" x2="1312.00" y2="1312.32" stroke="#1a1a1a" stroke-width="2.2"/>
<text x="1299.40" y="1318.82" font-size="22.3" text-anchor="end" textLength="70.74" lengthAdjust="spacingAndGlyphs">FX0024</text>
<rect x="1312.60" y="1330.13" width="3.85" height="12.00" fill="#9ad3f1"/>
<rect x="1316.45" y="1330.13" width="3.99" height="12.00" fill="#6fcacb"/>
<rect x="1320.44" y="1330.13" width="3.49" height="12.00" fill="#5aade0"/>
<rect x="1323.94" y="1330.13" width="8.98" height="12.00" fill="#397a3b"/>
<rect x="1332.92" y="1330.13" width="2.50" height="12.00" fill="#f8ea22"/>
<rect x="1335.42" y="1330.13" width="343.42" height="12.00" fill="#d2d2d4"/>
<rect x="1678.84" y="1330.13" width="2.50" height="12.00" fill="#e2a32b"/>
<rect x="1681.33" y="1330.13" width="371.87" height="12.00" fill="#ef6324"/>
<rect x="2053.20" y="1330.13" width="3.49" height="12.00" fill="#f6941f"/>
<rect x="2056.69" y="1330.13" width="3.49" height="12.00" fill="#f09ab8"/>
<rect x="2060.19" y="1330.13" width="2.99" height="12.00" fill="#c176b1"/>
<rect x="2063.18" y="1330.13" width="4.49" height="12.00" fill="#fde7d7"/>
<rect x="2067.67" y="1330.13" width="22.96" height="12.00" fill="#d0e7d8"/>
<rect x="2090.64" y="1330.13" width="37.16" height="12.00" fill="#a0b4a4"/>
<line x1="1307.00" y1="1336.13" x2="1312.00" y2="1336.13" stroke="#1a1a1a" stroke-width="2.2"/>
<text x="1299.40" y="1342.63" font-size="22.3" text-anchor="end" textLength="70.74" lengthAdjust="spacingAndGlyphs">FX0022</text>
<rect x="1312.60" y="1353.94" width="312.33" height="12.00" fill="#1a6596"/>
<rect x="1624.93" y="1353.94" width="23.46" height="12.00" fill="#9ad3f1"/>
<rect x="1648.39" y="1353.94" width="29.95" height="12.00" fill="#6fcacb"/>
<rect x="1678.34" y="1353.94" width="63.89" height="12.00" fill="#5aade0"/>
<rect x="1742.23" y="1353.94" width="2.50" height="12.00" fill="#b5b835"/>
<rect x="1744.72" y="1353.94" width="3.49" height="12.00" fill="#fbf3b5"/>
<rect x="1748.22" y="1353.94" width="3.99" height="12.00" fill="#f8b91d"/>
<rect x="1752.21" y="1353.94" width="18.97" height="12.00" fill="#ef6324"/>
<rect x="1771.18" y="1353.94" width="250.57" height="12.00" fill="#f6941f"/>
<rect x="2021.75" y="1353.94" width="49.92" height="12.00" fill="#e97d62"/>
<rect x="2071.67" y="1353.94" width="9.98" height="12.00" fill="#e8628c"/>
<rect x="2081.65" y="1353.94" width="3.49" height="12.00" fill="#f09ab8"/>
<rect x="2085.14" y="1353.94" width="6.49" height="12.00" fill="#5f53a6"/>
<rect x="2091.63" y="1353.94" width="6.49" height="12.00" fill="#fde7d7"/>
<rect x="2098.12" y="1353.94" width="12.48" height="12.00" fill="#d0e7d8"/>
<rect x="2110.60" y="1353.94" width="17.20" height="12.00" fill="#a0b4a4"/>
<line x1="1307.00" y1="1359.94" x2="1312.00" y2="1359.94" stroke="#1a1a1a" stroke-width="2.2"/>
<text x="1299.40" y="1366.44" font-size="22.3" text-anchor="end" textLength="69.24" lengthAdjust="spacingAndGlyphs">FX0011</text>
<rect x="1312.60" y="1377.75" width="3.85" height="12.00" fill="#1a6596"/>
<rect x="1316.45" y="1377.75" width="650.39" height="12.00" fill="#9ad3f1"/>
<rect x="1966.85" y="1377.75" width="9.98" height="12.00" fill="#6fcacb"/>
<rect x="1976.83" y="1377.75" width="53.41" height="12.00" fill="#5aade0"/>
<rect x="2030.24" y="1377.75" width="2.50" height="12.00" fill="#b5b835"/>
<rect x="2032.73" y="1377.75" width="7.49" height="12.00" fill="#8473b6"/>
<rect x="2040.22" y="1377.75" width="2.50" height="12.00" fill="#ef6324"/>
<rect x="2042.72" y="1377.75" width="51.41" height="12.00" fill="#f6941f"/>
<rect x="2094.13" y="1377.75" width="10.98" height="12.00" fill="#e97d62"/>
<rect x="2105.11" y="1377.75" width="2.50" height="12.00" fill="#e8628c"/>
<rect x="2107.61" y="1377.75" width="1.50" height="12.00" fill="#f09ab8"/>
<rect x="2109.10" y="1377.75" width="8.98" height="12.00" fill="#fde7d7"/>
<rect x="2118.09" y="1377.75" width="2.50" height="12.00" fill="#d0e7d8"/>
<rect x="2120.58" y="1377.75" width="7.22" height="12.00" fill="#a0b4a4"/>
<line x1="1307.00" y1="1383.75" x2="1312.00" y2="1383.75" stroke="#1a1a1a" stroke-width="2.2"/>
<text x="1299.40" y="1390.25" font-size="22.3" text-anchor="end" textLength="71.88" lengthAdjust="spacingAndGlyphs">EX0795</text>
<rect x="1312.60" y="1401.56" width="7.84" height="12.00" fill="#9ad3f1"/>
<rect x="1320.44" y="1401.56" width="419.29" height="12.00" fill="#44955f"/>
<rect x="1739.73" y="1401.56" width="46.42" height="12.00" fill="#397a3b"/>
<rect x="1786.15" y="1401.56" width="9.98" height="12.00" fill="#f8ea22"/>
<rect x="1796.14" y="1401.56" width="24.96" height="12.00" fill="#d2d2d4"/>
<rect x="1821.09" y="1401.56" width="5.99" height="12.00" fill="#e2a32b"/>
<rect x="1827.08" y="1401.56" width="102.33" height="12.00" fill="#ef6324"/>
<rect x="1929.41" y="1401.56" width="3.49" height="12.00" fill="#f6941f"/>
<rect x="1932.90" y="1401.56" width="6.49" height="12.00" fill="#f09ab8"/>
<rect x="1939.39" y="1401.56" width="17.47" height="12.00" fill="#c176b1"/>
<rect x="1956.86" y="1401.56" width="1.50" height="12.00" fill="#5f53a6"/>
<rect x="1958.36" y="1401.56" width="11.98" height="12.00" fill="#fde7d7"/>
<rect x="1970.34" y="1401.56" width="3.99" height="12.00" fill="#f8bc8f"/>
<rect x="1974.33" y="1401.56" width="103.32" height="12.00" fill="#d0e7d8"/>
<rect x="2077.66" y="1401.56" width="50.14" height="12.00" fill="#a0b4a4"/>
<line x1="1307.00" y1="1407.56" x2="1312.00" y2="1407.56" stroke="#1a1a1a" stroke-width="2.2"/>
<text x="1299.40" y="1414.06" font-size="22.3" text-anchor="end" textLength="71.88" lengthAdjust="spacingAndGlyphs">EX0789</text>
<rect x="1312.60" y="1425.37" width="3.85" height="12.00" fill="#9ad3f1"/>
<rect x="1316.45" y="1425.37" width="521.61" height="12.00" fill="#44955f"/>
<rect x="1838.06" y="1425.37" width="20.47" height="12.00" fill="#397a3b"/>
<rect x="1858.53" y="1425.37" width="3.49" height="12.00" fill="#f8ea22"/>
<rect x="1862.02" y="1425.37" width="4.99" height="12.00" fill="#e2a32b"/>
<rect x="1867.02" y="1425.37" width="7.49" height="12.00" fill="#ef6324"/>
<rect x="1874.50" y="1425.37" width="9.98" height="12.00" fill="#c176b1"/>
<rect x="1884.49" y="1425.37" width="4.99" height="12.00" fill="#fde7d7"/>
<rect x="1889.48" y="1425.37" width="204.65" height="12.00" fill="#d0e7d8"/>
<rect x="2094.13" y="1425.37" width="33.67" height="12.00" fill="#a0b4a4"/>
<line x1="1307.00" y1="1431.37" x2="1312.00" y2="1431.37" stroke="#1a1a1a" stroke-width="2.2"/>
<text x="1299.40" y="1437.87" font-size="22.3" text-anchor="end" textLength="71.88" lengthAdjust="spacingAndGlyphs">EX0661</text>
<rect x="1312.60" y="1449.18" width="5.35" height="12.00" fill="#1a6596"/>
<rect x="1317.95" y="1449.18" width="450.23" height="12.00" fill="#9ad3f1"/>
<rect x="1768.18" y="1449.18" width="10.48" height="12.00" fill="#6fcacb"/>
<rect x="1778.67" y="1449.18" width="29.95" height="12.00" fill="#5aade0"/>
<rect x="1808.61" y="1449.18" width="24.46" height="12.00" fill="#f8ea22"/>
<rect x="1833.07" y="1449.18" width="3.99" height="12.00" fill="#8473b6"/>
<rect x="1837.07" y="1449.18" width="2.50" height="12.00" fill="#e2a32b"/>
<rect x="1839.56" y="1449.18" width="3.49" height="12.00" fill="#ef6324"/>
<rect x="1843.06" y="1449.18" width="202.66" height="12.00" fill="#f6941f"/>
<rect x="2045.71" y="1449.18" width="45.92" height="12.00" fill="#e97d62"/>
<rect x="2091.63" y="1449.18" width="2.50" height="12.00" fill="#e8628c"/>
<rect x="2094.13" y="1449.18" width="5.99" height="12.00" fill="#f09ab8"/>
<rect x="2100.12" y="1449.18" width="6.49" height="12.00" fill="#5f53a6"/>
<rect x="2106.61" y="1449.18" width="8.49" height="12.00" fill="#fde7d7"/>
<rect x="2115.09" y="1449.18" width="3.99" height="12.00" fill="#d0e7d8"/>
<rect x="2119.09" y="1449.18" width="8.71" height="12.00" fill="#a0b4a4"/>
<line x1="1307.00" y1="1455.18" x2="1312.00" y2="1455.18" stroke="#1a1a1a" stroke-width="2.2"/>
<text x="1299.40" y="1461.68" font-size="22.3" text-anchor="end" textLength="71.88" lengthAdjust="spacingAndGlyphs">EX0540</text>
<rect x="1312.60" y="1472.99" width="90.20" height="12.00" fill="#44955f"/>
<rect x="1402.80" y="1472.99" width="19.97" height="12.00" fill="#397a3b"/>
<rect x="1422.77" y="1472.99" width="16.47" height="12.00" fill="#d9e24c"/>
<rect x="1439.24" y="1472.99" width="9.98" height="12.00" fill="#8473b6"/>
<rect x="1449.23" y="1472.99" width="5.99" height="12.00" fill="#f8b91d"/>
<rect x="1455.22" y="1472.99" width="3.99" height="12.00" fill="#ef6324"/>
<rect x="1459.21" y="1472.99" width="9.48" height="12.00" fill="#f6941f"/>
<rect x="1468.69" y="1472.99" width="12.48" height="12.00" fill="#e8628c"/>
<rect x="1481.17" y="1472.99" width="168.71" height="12.00" fill="#f09ab8"/>
<rect x="1649.88" y="1472.99" width="373.37" height="12.00" fill="#c176b1"/>
<rect x="2023.25" y="1472.99" width="25.96" height="12.00" fill="#fde7d7"/>
<rect x="2049.21" y="1472.99" width="1.50" height="12.00" fill="#f8bc8f"/>
<rect x="2050.70" y="1472.99" width="48.42" height="12.00" fill="#d0e7d8"/>
<rect x="2099.12" y="1472.99" width="28.68" height="12.00" fill="#a0b4a4"/>
<line x1="1307.00" y1="1478.99" x2="1312.00" y2="1478.99" stroke="#1a1a1a" stroke-width="2.2"/>
<text x="1299.40" y="1485.49" font-size="22.3" text-anchor="end" textLength="71.88" lengthAdjust="spacingAndGlyphs">EX0366</text>
<rect x="1312.60" y="1496.80" width="20.32" height="12.00" fill="#1a6596"/>
<rect x="1332.92" y="1496.80" width="438.25" height="12.00" fill="#9ad3f1"/>
<rect x="1771.18" y="1496.80" width="44.42" height="12.00" fill="#6fcacb"/>
<rect x="1815.60" y="1496.80" width="40.43" height="12.00" fill="#5aade0"/>
<rect x="1856.03" y="1496.80" width="4.99" height="12.00" fill="#94c67e"/>
<rect x="1861.03" y="1496.80" width="2.50" height="12.00" fill="#397a3b"/>
<rect x="1863.52" y="1496.80" width="13.48" height="12.00" fill="#f8ea22"/>
<rect x="1877.00" y="1496.80" width="8.49" height="12.00" fill="#8473b6"/>
<rect x="1885.48" y="1496.80" width="2.50" height="12.00" fill="#f8b91d"/>
<rect x="1887.98" y="1496.80" width="3.99" height="12.00" fill="#e2a32b"/>
<rect x="1891.97" y="1496.80" width="143.26" height="12.00" fill="#f6941f"/>
<rect x="2035.23" y="1496.80" width="16.47" height="12.00" fill="#e97d62"/>
<rect x="2051.70" y="1496.80" width="6.49" height="12.00" fill="#e8628c"/>
<rect x="2058.19" y="1496.80" width="4.49" height="12.00" fill="#f09ab8"/>
<rect x="2062.68" y="1496.80" width="2.50" height="12.00" fill="#c176b1"/>
<rect x="2065.18" y="1496.80" width="2.50" height="12.00" fill="#5f53a6"/>
<rect x="2067.67" y="1496.80" width="2.50" height="12.00" fill="#fde7d7"/>
<rect x="2070.17" y="1496.80" width="12.98" height="12.00" fill="#d0e7d8"/>
<rect x="2083.15" y="1496.80" width="44.65" height="12.00" fill="#a0b4a4"/>
<line x1="1307.00" y1="1502.80" x2="1312.00" y2="1502.80" stroke="#1a1a1a" stroke-width="2.2"/>
<text x="1299.40" y="1509.30" font-size="22.3" text-anchor="end" textLength="71.88" lengthAdjust="spacingAndGlyphs">EX0288</text>
<rect x="1312.60" y="1520.61" width="3.85" height="12.00" fill="#9ad3f1"/>
<rect x="1316.45" y="1520.61" width="438.25" height="12.00" fill="#94c67e"/>
<rect x="1754.71" y="1520.61" width="16.47" height="12.00" fill="#397a3b"/>
<rect x="1771.18" y="1520.61" width="22.46" height="12.00" fill="#b5b835"/>
<rect x="1793.64" y="1520.61" width="119.30" height="12.00" fill="#d9e24c"/>
<rect x="1912.94" y="1520.61" width="12.48" height="12.00" fill="#f8ea22"/>
<rect x="1925.42" y="1520.61" width="2.99" height="12.00" fill="#e2a32b"/>
<rect x="1928.41" y="1520.61" width="2.00" height="12.00" fill="#ef6324"/>
<rect x="1930.41" y="1520.61" width="15.47" height="12.00" fill="#f6941f"/>
<rect x="1945.88" y="1520.61" width="106.82" height="12.00" fill="#e8628c"/>
<rect x="2052.70" y="1520.61" width="14.97" height="12.00" fill="#f09ab8"/>
<rect x="2067.67" y="1520.61" width="13.98" height="12.00" fill="#c176b1"/>
<rect x="2081.65" y="1520.61" width="8.49" height="12.00" fill="#fde7d7"/>
<rect x="2090.14" y="1520.61" width="21.46" height="12.00" fill="#d0e7d8"/>
<rect x="2111.60" y="1520.61" width="16.20" height="12.00" fill="#a0b4a4"/>
<line x1="1307.00" y1="1526.61" x2="1312.00" y2="1526.61" stroke="#1a1a1a" stroke-width="2.2"/>
<text x="1299.40" y="1533.11" font-size="22.3" text-anchor="end" textLength="71.88" lengthAdjust="spacingAndGlyphs">EX0277</text>
<rect x="1312.60" y="1544.42" width="6.85" height="12.00" fill="#1a6596"/>
<rect x="1319.45" y="1544.42" width="321.95" height="12.00" fill="#9ad3f1"/>
<rect x="1641.40" y="1544.42" width="24.46" height="12.00" fill="#6fcacb"/>
<rect x="1665.86" y="1544.42" width="31.45" height="12.00" fill="#5aade0"/>
<rect x="1697.30" y="1544.42" width="2.50" height="12.00" fill="#397a3b"/>
<rect x="1699.80" y="1544.42" width="3.99" height="12.00" fill="#fbf3b5"/>
<rect x="1703.79" y="1544.42" width="2.50" height="12.00" fill="#f8ea22"/>
<rect x="1706.29" y="1544.42" width="4.99" height="12.00" fill="#e2a32b"/>
<rect x="1711.28" y="1544.42" width="4.99" height="12.00" fill="#ef6324"/>
<rect x="1716.27" y="1544.42" width="288.01" height="12.00" fill="#f6941f"/>
<rect x="2004.28" y="1544.42" width="43.43" height="12.00" fill="#e97d62"/>
<rect x="2047.71" y="1544.42" width="8.98" height="12.00" fill="#e8628c"/>
<rect x="2056.69" y="1544.42" width="8.49" height="12.00" fill="#f09ab8"/>
<rect x="2065.18" y="1544.42" width="3.99" height="12.00" fill="#c176b1"/>
<rect x="2069.17" y="1544.42" width="8.98" height="12.00" fill="#5f53a6"/>
<rect x="2078.16" y="1544.42" width="5.99" height="12.00" fill="#fde7d7"/>
<rect x="2084.15" y="1544.42" width="20.96" height="12.00" fill="#d0e7d8"/>
<rect x="2105.11" y="1544.42" width="22.69" height="12.00" fill="#a0b4a4"/>
<line x1="1307.00" y1="1550.42" x2="1312.00" y2="1550.42" stroke="#1a1a1a" stroke-width="2.2"/>
<text x="1299.40" y="1556.92" font-size="22.3" text-anchor="end" textLength="71.88" lengthAdjust="spacingAndGlyphs">EX0045</text>
<rect x="1312.6" y="62.7" width="839.0" height="1499.8" fill="none" stroke="#1a1a1a" stroke-width="3"/>
<line x1="1312.60" y1="1564.00" x2="1312.60" y2="1569.50" stroke="#1a1a1a" stroke-width="2.6"/>
<text x="1312.10" y="1590.90" font-size="22.5" text-anchor="middle" textLength="28.36" lengthAdjust="spacingAndGlyphs">0.0</text>
<line x1="1475.64" y1="1564.00" x2="1475.64" y2="1569.50" stroke="#1a1a1a" stroke-width="2.6"/>
<text x="1475.14" y="1590.90" font-size="22.5" text-anchor="middle" textLength="28.36" lengthAdjust="spacingAndGlyphs">0.2</text>
<line x1="1638.68" y1="1564.00" x2="1638.68" y2="1569.50" stroke="#1a1a1a" stroke-width="2.6"/>
<text x="1638.18" y="1590.90" font-size="22.5" text-anchor="middle" textLength="28.36" lengthAdjust="spacingAndGlyphs">0.4</text>
<line x1="1801.72" y1="1564.00" x2="1801.72" y2="1569.50" stroke="#1a1a1a" stroke-width="2.6"/>
<text x="1801.22" y="1590.90" font-size="22.5" text-anchor="middle" textLength="28.36" lengthAdjust="spacingAndGlyphs">0.6</text>
<line x1="1964.76" y1="1564.00" x2="1964.76" y2="1569.50" stroke="#1a1a1a" stroke-width="2.6"/>
<text x="1964.26" y="1590.90" font-size="22.5" text-anchor="middle" textLength="28.36" lengthAdjust="spacingAndGlyphs">0.8</text>
<line x1="2127.80" y1="1564.00" x2="2127.80" y2="1569.50" stroke="#1a1a1a" stroke-width="2.6"/>
<text x="2127.30" y="1590.90" font-size="22.5" text-anchor="middle" textLength="28.36" lengthAdjust="spacingAndGlyphs">1.0</text>
<text x="1740.80" y="18.70" font-size="25.6" text-anchor="middle" textLength="302.93" lengthAdjust="spacingAndGlyphs">Proportion of each cell type</text>
<text x="1740.60" y="44.60" font-size="25.6" text-anchor="middle" textLength="364.06" lengthAdjust="spacingAndGlyphs">(Mareckova snRNA-seq dataset)</text>
<text x="1718.80" y="1625.90" font-size="25.6" text-anchor="middle" textLength="434.20" lengthAdjust="spacingAndGlyphs">(colour as described below for panel a)</text>
<text x="1227.00" y="44.30" font-size="37.5" textLength="17.25" lengthAdjust="spacingAndGlyphs" style="stroke-width:0">c</text>
<text x="0" y="0" font-size="26" text-anchor="middle" textLength="72.99" lengthAdjust="spacingAndGlyphs" transform="translate(18.7,838.5) rotate(-90)">Donor</text>
<text x="0" y="0" font-size="26" text-anchor="middle" textLength="72.99" lengthAdjust="spacingAndGlyphs" transform="translate(1206.3,838.5) rotate(-90)">Donor</text>
<text x="65.80" y="1652.10" font-size="22.6" textLength="89.23" lengthAdjust="spacingAndGlyphs">Cell Type</text>
<rect x="53.1" y="1664.1" width="2112" height="194.4" fill="none" stroke="#333" stroke-width="1.6"/>
<rect x="63.10" y="1676.20" width="40.00" height="14.40" fill="#1a6596"/>
<text x="110.60" y="1691.00" font-size="22.4" textLength="255.22" lengthAdjust="spacingAndGlyphs">1 | SOX9 basalis (CDH2+)</text>
<rect x="63.10" y="1706.90" width="40.00" height="14.40" fill="#5f9ec9"/>
<text x="110.60" y="1721.70" font-size="22.4" textLength="308.66" lengthAdjust="spacingAndGlyphs">2 | SOX9 functionalis I (CDH2+)</text>
<rect x="63.10" y="1737.60" width="40.00" height="14.40" fill="#9ad3f1"/>
<text x="110.60" y="1752.40" font-size="22.4" textLength="221.85" lengthAdjust="spacingAndGlyphs">3 | SOX9 functionalis II</text>
<rect x="63.10" y="1768.30" width="40.00" height="14.40" fill="#6fcacb"/>
<text x="110.60" y="1783.10" font-size="22.4" textLength="254.01" lengthAdjust="spacingAndGlyphs">4 | SOX9 luminal (LGR5+)</text>
<rect x="63.10" y="1799.00" width="40.00" height="14.40" fill="#5aade0"/>
<text x="110.60" y="1813.80" font-size="22.4" textLength="101.61" lengthAdjust="spacingAndGlyphs">5 | Cycling</text>
<rect x="430.80" y="1676.20" width="40.00" height="14.40" fill="#94c67e"/>
<text x="478.30" y="1691.00" font-size="22.4" textLength="156.28" lengthAdjust="spacingAndGlyphs">6 | preGlandular</text>
<rect x="430.80" y="1706.90" width="40.00" height="14.40" fill="#44955f"/>
<text x="478.30" y="1721.70" font-size="22.4" textLength="124.70" lengthAdjust="spacingAndGlyphs">7 | Glandular</text>
<rect x="430.80" y="1737.60" width="40.00" height="14.40" fill="#397a3b"/>
<text x="478.30" y="1752.40" font-size="22.4" textLength="220.62" lengthAdjust="spacingAndGlyphs">8 | Glandular secretory</text>
<rect x="430.80" y="1768.30" width="40.00" height="14.40" fill="#3c5631"/>
<text x="478.30" y="1783.10" font-size="22.4" textLength="309.84" lengthAdjust="spacingAndGlyphs">9 | Glandular secretory (FGF7+)</text>
<rect x="430.80" y="1799.00" width="40.00" height="14.40" fill="#b5b835"/>
<text x="478.30" y="1813.80" font-size="22.4" textLength="150.21" lengthAdjust="spacingAndGlyphs">10 | preLuminal</text>
<rect x="430.80" y="1829.70" width="40.00" height="14.40" fill="#d9e24c"/>
<text x="478.30" y="1844.50" font-size="22.4" textLength="117.01" lengthAdjust="spacingAndGlyphs">11 | Luminal</text>
<rect x="814.30" y="1676.20" width="40.00" height="14.40" fill="#fbf3b5"/>
<text x="861.80" y="1691.00" font-size="22.4" textLength="146.56" lengthAdjust="spacingAndGlyphs">12 | preCiliated</text>
<rect x="814.30" y="1706.90" width="40.00" height="14.40" fill="#f8ea22"/>
<text x="861.80" y="1721.70" font-size="22.4" textLength="114.99" lengthAdjust="spacingAndGlyphs">13 | Ciliated</text>
<rect x="814.30" y="1737.60" width="40.00" height="14.40" fill="#8473b6"/>
<text x="861.80" y="1752.40" font-size="22.4" textLength="118.60" lengthAdjust="spacingAndGlyphs">14 | MUC5B</text>
<rect x="814.30" y="1768.30" width="40.00" height="14.40" fill="#d9d0e8"/>
<text x="861.80" y="1783.10" font-size="22.4" textLength="97.57" lengthAdjust="spacingAndGlyphs">15 | KRT5</text>
<rect x="814.30" y="1799.00" width="40.00" height="14.40" fill="#d2d2d4"/>
<text x="861.80" y="1813.80" font-size="22.4" textLength="142.90" lengthAdjust="spacingAndGlyphs">16 | Hormones</text>
<rect x="1105.50" y="1676.20" width="40.00" height="14.40" fill="#a69d94"/>
<text x="1153.00" y="1691.00" font-size="22.4" textLength="113.75" lengthAdjust="spacingAndGlyphs">17 | uSMCs</text>
<rect x="1105.50" y="1706.90" width="40.00" height="14.40" fill="#a87d74"/>
<text x="1153.00" y="1721.70" font-size="22.4" textLength="89.47" lengthAdjust="spacingAndGlyphs">18 | mPV</text>
<rect x="1105.50" y="1737.60" width="40.00" height="14.40" fill="#d5b274"/>
<text x="1153.00" y="1752.40" font-size="22.4" textLength="113.79" lengthAdjust="spacingAndGlyphs">19 | ePV 1a</text>
<rect x="1105.50" y="1768.30" width="40.00" height="14.40" fill="#f8b91d"/>
<text x="1153.00" y="1783.10" font-size="22.4" textLength="113.79" lengthAdjust="spacingAndGlyphs">20 | ePV 1b</text>
<rect x="1334.20" y="1676.20" width="40.00" height="14.40" fill="#e2a32b"/>
<text x="1381.70" y="1691.00" font-size="22.4" textLength="101.64" lengthAdjust="spacingAndGlyphs">21 | ePV 2</text>
<rect x="1334.20" y="1706.90" width="40.00" height="14.40" fill="#ef6324"/>
<text x="1381.70" y="1721.70" font-size="22.4" textLength="197.52" lengthAdjust="spacingAndGlyphs">22 | eStromal MMPs</text>
<rect x="1334.20" y="1737.60" width="40.00" height="14.40" fill="#f6941f"/>
<text x="1381.70" y="1752.40" font-size="22.4" textLength="129.55" lengthAdjust="spacingAndGlyphs">23 | eStromal</text>
<rect x="1334.20" y="1768.30" width="40.00" height="14.40" fill="#e97d62"/>
<text x="1381.70" y="1783.10" font-size="22.4" textLength="202.40" lengthAdjust="spacingAndGlyphs">24 | eStromal cycling</text>
<rect x="1334.20" y="1799.00" width="40.00" height="14.40" fill="#e8628c"/>
<text x="1381.70" y="1813.80" font-size="22.4" textLength="182.97" lengthAdjust="spacingAndGlyphs">25 | dStromal early</text>
<rect x="1604.70" y="1676.20" width="40.00" height="14.40" fill="#f09ab8"/>
<text x="1652.20" y="1691.00" font-size="22.4" textLength="170.82" lengthAdjust="spacingAndGlyphs">26 | dStromal mid</text>
<rect x="1604.70" y="1706.90" width="40.00" height="14.40" fill="#c176b1"/>
<text x="1652.20" y="1721.70" font-size="22.4" textLength="170.84" lengthAdjust="spacingAndGlyphs">27 | dStromal late</text>
<rect x="1604.70" y="1737.60" width="40.00" height="14.40" fill="#7f4b40"/>
<text x="1652.20" y="1752.40" font-size="22.4" textLength="212.13" lengthAdjust="spacingAndGlyphs">28 | Fibroblast basalis</text>
<rect x="1604.70" y="1768.30" width="40.00" height="14.40" fill="#5f53a6"/>
<text x="1652.20" y="1783.10" font-size="22.4" textLength="128.34" lengthAdjust="spacingAndGlyphs">29 | HOXA13</text>
<rect x="1604.70" y="1799.00" width="40.00" height="14.40" fill="#dddddf"/>
<text x="1652.20" y="1813.80" font-size="22.4" textLength="142.90" lengthAdjust="spacingAndGlyphs">30 | Hormones</text>
<rect x="1604.70" y="1829.70" width="40.00" height="14.40" fill="#bcbcbe"/>
<text x="1652.20" y="1844.50" font-size="22.4" textLength="142.90" lengthAdjust="spacingAndGlyphs">31 | Hormones</text>
<rect x="1874.00" y="1676.20" width="40.00" height="14.40" fill="#fde7d7"/>
<text x="1921.50" y="1691.00" font-size="22.4" textLength="115.02" lengthAdjust="spacingAndGlyphs">32 | Venous</text>
<rect x="1874.00" y="1706.90" width="40.00" height="14.40" fill="#d6ab93"/>
<text x="1921.50" y="1721.70" font-size="22.4" textLength="110.12" lengthAdjust="spacingAndGlyphs">33 | Arterial</text>
<rect x="1874.00" y="1737.60" width="40.00" height="14.40" fill="#f8bc8f"/>
<text x="1921.50" y="1752.40" font-size="22.4" textLength="140.89" lengthAdjust="spacingAndGlyphs">34 | Lymphatic</text>
<rect x="1874.00" y="1768.30" width="40.00" height="14.40" fill="#d0e7d8"/>
<text x="1921.50" y="1783.10" font-size="22.4" textLength="221.04" lengthAdjust="spacingAndGlyphs">35 | Immune Lymphoid</text>
<rect x="1874.00" y="1799.00" width="40.00" height="14.40" fill="#a0b4a4"/>
<text x="1921.50" y="1813.80" font-size="22.4" textLength="202.40" lengthAdjust="spacingAndGlyphs">36 | Immune Myeloid</text>
<rect x="265.50" y="2000.10" width="29.20" height="35.60" fill="#f6941f"/>
<rect x="294.70" y="2000.10" width="14.30" height="35.60" fill="#e8628c"/>
<rect x="309.00" y="2000.10" width="54.90" height="35.60" fill="#f09ab8"/>
<rect x="363.90" y="2000.10" width="1.40" height="35.60" fill="#fde7d7"/>
<rect x="365.30" y="2000.10" width="7.90" height="35.60" fill="#d0e7d8"/>
<rect x="373.20" y="2000.10" width="0.90" height="35.60" fill="#a0b4a4"/>
<line x1="254.40" y1="2017.90" x2="265.00" y2="2017.90" stroke="#1a1a1a" stroke-width="2.6"/>
<text x="250.80" y="2023.80" font-size="24.7" text-anchor="end" textLength="33.09" lengthAdjust="spacingAndGlyphs">Lai</text>
<rect x="265.50" y="2071.30" width="2.70" height="35.60" fill="#1a6596"/>
<rect x="268.20" y="2071.30" width="46.90" height="35.60" fill="#9ad3f1"/>
<rect x="315.10" y="2071.30" width="5.70" height="35.60" fill="#6fcacb"/>
<rect x="320.80" y="2071.30" width="13.20" height="35.60" fill="#5aade0"/>
<rect x="334.00" y="2071.30" width="35.80" height="35.60" fill="#94c67e"/>
<rect x="369.80" y="2071.30" width="16.30" height="35.60" fill="#44955f"/>
<rect x="386.10" y="2071.30" width="19.50" height="35.60" fill="#397a3b"/>
<rect x="405.60" y="2071.30" width="4.60" height="35.60" fill="#b5b835"/>
<rect x="410.20" y="2071.30" width="0.80" height="35.60" fill="#fbf3b5"/>
<rect x="411.00" y="2071.30" width="5.80" height="35.60" fill="#f8ea22"/>
<rect x="416.80" y="2071.30" width="1.20" height="35.60" fill="#8473b6"/>
<rect x="418.00" y="2071.30" width="2.20" height="35.60" fill="#fbf3b5"/>
<rect x="420.20" y="2071.30" width="9.70" height="35.60" fill="#f8b91d"/>
<rect x="429.90" y="2071.30" width="19.80" height="35.60" fill="#e2a32b"/>
<rect x="449.70" y="2071.30" width="170.70" height="35.60" fill="#f6941f"/>
<rect x="620.40" y="2071.30" width="20.00" height="35.60" fill="#e97d62"/>
<rect x="640.40" y="2071.30" width="29.50" height="35.60" fill="#e8628c"/>
<rect x="669.90" y="2071.30" width="49.70" height="35.60" fill="#f09ab8"/>
<rect x="719.60" y="2071.30" width="1.30" height="35.60" fill="#5f53a6"/>
<rect x="720.90" y="2071.30" width="35.20" height="35.60" fill="#fde7d7"/>
<rect x="756.10" y="2071.30" width="3.90" height="35.60" fill="#d6ab93"/>
<rect x="760.00" y="2071.30" width="129.30" height="35.60" fill="#d0e7d8"/>
<rect x="889.30" y="2071.30" width="14.00" height="35.60" fill="#a0b4a4"/>
<line x1="254.40" y1="2089.10" x2="265.00" y2="2089.10" stroke="#1a1a1a" stroke-width="2.6"/>
<text x="250.80" y="2095.00" font-size="24.7" text-anchor="end" textLength="73.07" lengthAdjust="spacingAndGlyphs">Huang</text>
<rect x="265.50" y="2142.80" width="4.20" height="35.60" fill="#397a3b"/>
<rect x="269.70" y="2142.80" width="1.40" height="35.60" fill="#d9e24c"/>
<rect x="271.10" y="2142.80" width="38.60" height="35.60" fill="#f6941f"/>
<rect x="309.70" y="2142.80" width="62.80" height="35.60" fill="#f09ab8"/>
<rect x="372.50" y="2142.80" width="81.70" height="35.60" fill="#c176b1"/>
<rect x="454.20" y="2142.80" width="25.40" height="35.60" fill="#fde7d7"/>
<rect x="479.60" y="2142.80" width="2.30" height="35.60" fill="#d6ab93"/>
<line x1="254.40" y1="2160.60" x2="265.00" y2="2160.60" stroke="#1a1a1a" stroke-width="2.6"/>
<text x="250.80" y="2166.50" font-size="24.7" text-anchor="end" textLength="95.11" lengthAdjust="spacingAndGlyphs">Fonseca</text>
<rect x="265.50" y="2214.20" width="7.20" height="35.60" fill="#5aade0"/>
<rect x="272.70" y="2214.20" width="8.40" height="35.60" fill="#94c67e"/>
<rect x="281.10" y="2214.20" width="2.90" height="35.60" fill="#397a3b"/>
<rect x="284.00" y="2214.20" width="8.00" height="35.60" fill="#f8ea22"/>
<rect x="292.00" y="2214.20" width="9.00" height="35.60" fill="#8473b6"/>
<rect x="301.00" y="2214.20" width="1.20" height="35.60" fill="#d9d0e8"/>
<rect x="302.20" y="2214.20" width="88.90" height="35.60" fill="#d2d2d4"/>
<rect x="391.10" y="2214.20" width="11.40" height="35.60" fill="#e2a32b"/>
<rect x="402.50" y="2214.20" width="23.30" height="35.60" fill="#ef6324"/>
<rect x="425.80" y="2214.20" width="24.50" height="35.60" fill="#f6941f"/>
<rect x="450.30" y="2214.20" width="7.30" height="35.60" fill="#e97d62"/>
<rect x="457.60" y="2214.20" width="2.30" height="35.60" fill="#e8628c"/>
<rect x="459.90" y="2214.20" width="5.20" height="35.60" fill="#5f53a6"/>
<rect x="465.10" y="2214.20" width="32.90" height="35.60" fill="#dddddf"/>
<rect x="498.00" y="2214.20" width="18.60" height="35.60" fill="#fde7d7"/>
<rect x="516.60" y="2214.20" width="1.60" height="35.60" fill="#f8bc8f"/>
<rect x="518.20" y="2214.20" width="76.00" height="35.60" fill="#d0e7d8"/>
<rect x="594.20" y="2214.20" width="32.60" height="35.60" fill="#a0b4a4"/>
<line x1="254.40" y1="2232.00" x2="265.00" y2="2232.00" stroke="#1a1a1a" stroke-width="2.6"/>
<text x="250.80" y="2237.90" font-size="24.7" text-anchor="end" textLength="39.98" lengthAdjust="spacingAndGlyphs">Tan</text>
<rect x="265.50" y="2286.20" width="12.40" height="35.60" fill="#5f9ec9"/>
<rect x="277.90" y="2286.20" width="2.30" height="35.60" fill="#9ad3f1"/>
<rect x="280.20" y="2286.20" width="8.80" height="35.60" fill="#6fcacb"/>
<rect x="289.00" y="2286.20" width="2.30" height="35.60" fill="#5aade0"/>
<rect x="291.30" y="2286.20" width="16.10" height="35.60" fill="#94c67e"/>
<rect x="307.40" y="2286.20" width="62.80" height="35.60" fill="#44955f"/>
<rect x="370.20" y="2286.20" width="47.20" height="35.60" fill="#397a3b"/>
<rect x="417.40" y="2286.20" width="5.50" height="35.60" fill="#3c5631"/>
<rect x="422.90" y="2286.20" width="16.10" height="35.60" fill="#b5b835"/>
<rect x="439.00" y="2286.20" width="87.10" height="35.60" fill="#d9e24c"/>
<rect x="526.10" y="2286.20" width="27.20" height="35.60" fill="#f8ea22"/>
<rect x="553.30" y="2286.20" width="2.30" height="35.60" fill="#fbf3b5"/>
<rect x="555.60" y="2286.20" width="5.20" height="35.60" fill="#f8b91d"/>
<rect x="560.80" y="2286.20" width="3.00" height="35.60" fill="#e2a32b"/>
<rect x="563.80" y="2286.20" width="8.40" height="35.60" fill="#f6941f"/>
<rect x="572.20" y="2286.20" width="20.80" height="35.60" fill="#e8628c"/>
<rect x="593.00" y="2286.20" width="88.70" height="35.60" fill="#f09ab8"/>
<rect x="681.70" y="2286.20" width="16.30" height="35.60" fill="#c176b1"/>
<rect x="698.00" y="2286.20" width="10.90" height="35.60" fill="#fde7d7"/>
<rect x="708.90" y="2286.20" width="1.10" height="35.60" fill="#d6ab93"/>
<rect x="710.00" y="2286.20" width="32.30" height="35.60" fill="#d0e7d8"/>
<rect x="742.30" y="2286.20" width="2.50" height="35.60" fill="#a0b4a4"/>
<line x1="254.40" y1="2304.00" x2="265.00" y2="2304.00" stroke="#1a1a1a" stroke-width="2.6"/>
<text x="250.80" y="2309.90" font-size="24.7" text-anchor="end" textLength="63.86" lengthAdjust="spacingAndGlyphs">Wang</text>
<rect x="265.50" y="2357.70" width="11.70" height="35.60" fill="#9ad3f1"/>
<rect x="277.20" y="2357.70" width="3.40" height="35.60" fill="#5aade0"/>
<rect x="280.60" y="2357.70" width="4.60" height="35.60" fill="#397a3b"/>
<rect x="285.20" y="2357.70" width="2.20" height="35.60" fill="#f8ea22"/>
<rect x="287.40" y="2357.70" width="3.40" height="35.60" fill="#d5b274"/>
<rect x="290.80" y="2357.70" width="9.10" height="35.60" fill="#a69d94"/>
<rect x="299.90" y="2357.70" width="4.60" height="35.60" fill="#a87d74"/>
<rect x="304.50" y="2357.70" width="4.50" height="35.60" fill="#f8b91d"/>
<rect x="309.00" y="2357.70" width="5.70" height="35.60" fill="#e2a32b"/>
<rect x="314.70" y="2357.70" width="101.40" height="35.60" fill="#f6941f"/>
<rect x="416.10" y="2357.70" width="9.70" height="35.60" fill="#e97d62"/>
<rect x="425.80" y="2357.70" width="4.10" height="35.60" fill="#e8628c"/>
<rect x="429.90" y="2357.70" width="60.10" height="35.60" fill="#f09ab8"/>
<rect x="490.00" y="2357.70" width="3.90" height="35.60" fill="#c176b1"/>
<rect x="493.90" y="2357.70" width="1.80" height="35.60" fill="#5f53a6"/>
<rect x="495.70" y="2357.70" width="21.30" height="35.60" fill="#fde7d7"/>
<rect x="517.00" y="2357.70" width="2.30" height="35.60" fill="#d6ab93"/>
<rect x="519.30" y="2357.70" width="21.80" height="35.60" fill="#d0e7d8"/>
<rect x="541.10" y="2357.70" width="5.70" height="35.60" fill="#a0b4a4"/>
<line x1="254.40" y1="2375.50" x2="265.00" y2="2375.50" stroke="#1a1a1a" stroke-width="2.6"/>
<text x="250.80" y="2381.40" font-size="24.7" text-anchor="end" textLength="148.87" lengthAdjust="spacingAndGlyphs">GarciaAlonso</text>
<rect x="265.50" y="2429.20" width="48.70" height="35.60" fill="#9ad3f1"/>
<rect x="314.20" y="2429.20" width="6.60" height="35.60" fill="#6fcacb"/>
<rect x="320.80" y="2429.20" width="12.00" height="35.60" fill="#5aade0"/>
<rect x="332.80" y="2429.20" width="44.90" height="35.60" fill="#94c67e"/>
<rect x="377.70" y="2429.20" width="35.20" height="35.60" fill="#44955f"/>
<rect x="412.90" y="2429.20" width="2.30" height="35.60" fill="#b5b835"/>
<rect x="415.20" y="2429.20" width="2.70" height="35.60" fill="#f8ea22"/>
<rect x="417.90" y="2429.20" width="2.60" height="35.60" fill="#fbf3b5"/>
<rect x="420.50" y="2429.20" width="3.10" height="35.60" fill="#f8ea22"/>
<rect x="423.60" y="2429.20" width="35.60" height="35.60" fill="#d2d2d4"/>
<rect x="459.20" y="2429.20" width="4.10" height="35.60" fill="#a69d94"/>
<rect x="463.30" y="2429.20" width="6.30" height="35.60" fill="#a87d74"/>
<rect x="469.60" y="2429.20" width="10.70" height="35.60" fill="#d5b274"/>
<rect x="480.30" y="2429.20" width="6.30" height="35.60" fill="#f8b91d"/>
<rect x="486.60" y="2429.20" width="19.30" height="35.60" fill="#e2a32b"/>
<rect x="505.90" y="2429.20" width="9.10" height="35.60" fill="#ef6324"/>
<rect x="515.00" y="2429.20" width="126.50" height="35.60" fill="#f6941f"/>
<rect x="641.50" y="2429.20" width="29.30" height="35.60" fill="#e97d62"/>
<rect x="670.80" y="2429.20" width="76.20" height="35.60" fill="#e8628c"/>
<rect x="747.00" y="2429.20" width="71.30" height="35.60" fill="#f09ab8"/>
<rect x="818.30" y="2429.20" width="2.20" height="35.60" fill="#c176b1"/>
<rect x="820.50" y="2429.20" width="2.30" height="35.60" fill="#7f4b40"/>
<rect x="822.80" y="2429.20" width="2.20" height="35.60" fill="#bcbcbe"/>
<rect x="825.00" y="2429.20" width="28.40" height="35.60" fill="#fde7d7"/>
<rect x="853.40" y="2429.20" width="4.60" height="35.60" fill="#d6ab93"/>
<rect x="858.00" y="2429.20" width="39.20" height="35.60" fill="#d0e7d8"/>
<rect x="897.20" y="2429.20" width="42.40" height="35.60" fill="#a0b4a4"/>
<line x1="254.40" y1="2447.00" x2="265.00" y2="2447.00" stroke="#1a1a1a" stroke-width="2.6"/>
<text x="250.80" y="2452.90" font-size="24.7" text-anchor="end" textLength="121.28" lengthAdjust="spacingAndGlyphs">Mareckova</text>
<rect x="265.5" y="1981.7" width="707.4" height="500.9" fill="none" stroke="#1a1a1a" stroke-width="3"/>
<line x1="265.50" y1="2483.50" x2="265.50" y2="2490.00" stroke="#1a1a1a" stroke-width="2.6"/>
<text x="262.10" y="2524.90" font-size="22.6" text-anchor="middle" textLength="13.51" lengthAdjust="spacingAndGlyphs">0</text>
<line x1="441.60" y1="2483.50" x2="441.60" y2="2490.00" stroke="#1a1a1a" stroke-width="2.6"/>
<text x="425.30" y="2524.90" font-size="22.6" text-anchor="middle" textLength="67.57" lengthAdjust="spacingAndGlyphs">20000</text>
<line x1="617.70" y1="2483.50" x2="617.70" y2="2490.00" stroke="#1a1a1a" stroke-width="2.6"/>
<text x="601.40" y="2524.90" font-size="22.6" text-anchor="middle" textLength="67.57" lengthAdjust="spacingAndGlyphs">40000</text>
<line x1="793.80" y1="2483.50" x2="793.80" y2="2490.00" stroke="#1a1a1a" stroke-width="2.6"/>
<text x="777.50" y="2524.90" font-size="22.6" text-anchor="middle" textLength="67.57" lengthAdjust="spacingAndGlyphs">60000</text>
<line x1="969.90" y1="2483.50" x2="969.90" y2="2490.00" stroke="#1a1a1a" stroke-width="2.6"/>
<text x="953.60" y="2524.90" font-size="22.6" text-anchor="middle" textLength="67.57" lengthAdjust="spacingAndGlyphs">80000</text>
<text x="630.90" y="1961.90" font-size="26.8" text-anchor="middle" textLength="414.61" lengthAdjust="spacingAndGlyphs">Number of cells from each cell type</text>
<text x="619.60" y="2576.10" font-size="25.4" text-anchor="middle" textLength="343.20" lengthAdjust="spacingAndGlyphs">(colour as described in panel a)</text>
<text x="0" y="0" font-size="25.5" text-anchor="middle" transform="translate(97.7,2226.7) rotate(-90)">Dataset</text>
<text x="53.40" y="1944.90" font-size="37.5" textLength="22.24" lengthAdjust="spacingAndGlyphs" style="stroke-width:0">b</text>
</svg>
</body></html>
